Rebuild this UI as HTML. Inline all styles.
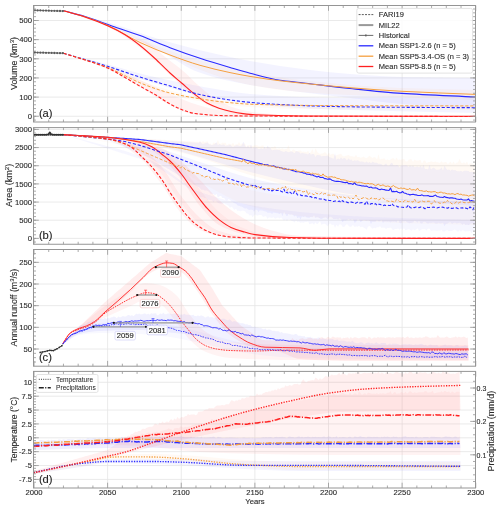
<!DOCTYPE html>
<html><head><meta charset="utf-8"><style>html,body{margin:0;padding:0;background:#fff;}svg{display:block;will-change:transform;} text{paint-order:stroke;stroke:#2a2a2a;stroke-width:0.12px;}</style></head>
<body><svg width="500" height="509" viewBox="0 0 500 509" font-family='"Liberation Sans", sans-serif'><path d="M107.62 5.5V122.0M181.25 5.5V122.0M254.88 5.5V122.0M328.50 5.5V122.0M402.12 5.5V122.0M33.5 116.25H475.5M33.5 97.10H475.5M33.5 77.95H475.5M33.5 58.80H475.5M33.5 39.65H475.5M33.5 20.50H475.5" stroke="#e4e4e4" stroke-width="0.8" fill="none"/>
<path d="M107.62 127.6V244.25M181.25 127.6V244.25M254.88 127.6V244.25M328.50 127.6V244.25M402.12 127.6V244.25M33.5 238.40H475.5M33.5 220.23H475.5M33.5 202.07H475.5M33.5 183.90H475.5M33.5 165.73H475.5M33.5 147.57H475.5M33.5 129.40H475.5" stroke="#e4e4e4" stroke-width="0.8" fill="none"/>
<path d="M107.62 249.5V366.2M181.25 249.5V366.2M254.88 249.5V366.2M328.50 249.5V366.2M402.12 249.5V366.2M33.5 349.00H475.5M33.5 327.34H475.5M33.5 305.67H475.5M33.5 284.01H475.5M33.5 262.35H475.5" stroke="#e4e4e4" stroke-width="0.8" fill="none"/>
<path d="M107.62 371.4V488.0M181.25 371.4V488.0M254.88 371.4V488.0M328.50 371.4V488.0M402.12 371.4V488.0M33.5 479.42H475.5M33.5 465.55H475.5M33.5 451.67H475.5M33.5 437.80H475.5M33.5 423.93H475.5M33.5 410.06H475.5M33.5 396.18H475.5M33.5 382.31H475.5" stroke="#e4e4e4" stroke-width="0.8" fill="none"/>
<path d="M63.50 10.80 C79.00 14.87 94.50 18.50 110.00 23.00 C127.33 28.04 144.67 34.91 162.00 40.00 C174.00 43.52 186.00 46.79 198.00 49.70 C215.33 53.90 232.67 57.91 250.00 61.00 C270.00 64.57 290.00 67.63 310.00 70.00 C323.33 71.58 336.67 73.01 350.00 74.00 C367.33 75.28 384.67 76.60 402.00 77.00 C426.50 77.56 451.00 77.67 475.50 78.00 L475.50 108.00 C451.00 106.67 426.50 105.85 402.00 104.00 C384.67 102.69 367.33 100.04 350.00 98.00 C333.33 96.04 316.67 94.15 300.00 92.00 C283.33 89.85 266.67 87.99 250.00 85.00 C232.67 81.89 215.33 78.12 198.00 72.00 C186.00 67.76 174.00 58.21 162.00 52.00 C144.67 43.03 127.33 33.98 110.00 27.00 C94.50 20.76 79.00 16.20 63.50 10.80 Z" fill="#5050ff" fill-opacity="0.07" stroke="none"/>
<path d="M63.50 10.80 C79.00 15.53 94.50 19.42 110.00 25.00 C127.33 31.24 144.67 41.47 162.00 48.00 C174.00 52.52 186.00 56.69 198.00 60.00 C215.33 64.78 232.67 68.73 250.00 72.00 C266.67 75.15 283.33 78.15 300.00 80.00 C333.33 83.69 366.67 86.70 400.00 88.00 C425.17 88.98 450.33 89.33 475.50 90.00 L475.50 100.00 C450.33 99.00 425.17 98.11 400.00 97.00 C366.67 95.53 333.33 94.59 300.00 92.00 C283.33 90.70 266.67 88.20 250.00 85.00 C232.67 81.67 215.33 75.54 198.00 69.00 C186.00 64.47 174.00 57.71 162.00 52.00 C144.67 43.75 127.33 33.98 110.00 27.00 C94.50 20.76 79.00 16.20 63.50 10.80 Z" fill="#ffa040" fill-opacity="0.06" stroke="none"/>
<path d="M63.50 53.30 C79.00 57.20 94.50 60.92 110.00 65.00 C123.33 68.51 136.67 72.83 150.00 76.00 C166.00 79.81 182.00 83.16 198.00 86.00 C215.33 89.07 232.67 92.51 250.00 94.00 C266.67 95.43 283.33 96.50 300.00 97.00 C316.67 97.50 333.33 98.00 350.00 98.00 C391.83 98.00 433.67 98.00 475.50 98.00 L475.50 113.00 C433.67 112.00 391.83 111.30 350.00 110.00 C333.33 109.48 316.67 108.89 300.00 108.00 C283.33 107.11 266.67 105.82 250.00 104.00 C232.67 102.11 215.33 98.67 198.00 95.00 C182.00 91.61 166.00 86.90 150.00 82.00 C136.67 77.91 123.33 72.44 110.00 68.00 C94.50 62.84 79.00 58.20 63.50 53.30 Z" fill="#5050ff" fill-opacity="0.07" stroke="none"/>
<path d="M63.50 53.30 C79.00 57.87 94.50 61.58 110.00 67.00 C123.33 71.66 136.67 79.56 150.00 84.00 C166.00 89.33 182.00 94.40 198.00 97.00 C215.33 99.82 232.67 101.97 250.00 103.00 C266.67 103.99 283.33 104.81 300.00 105.00 C358.50 105.68 417.00 105.67 475.50 106.00 L475.50 110.00 C417.00 109.67 358.50 109.68 300.00 109.00 C283.33 108.81 266.67 107.99 250.00 107.00 C232.67 105.97 215.33 103.82 198.00 101.00 C182.00 98.40 166.00 93.57 150.00 88.00 C136.67 83.36 123.33 74.29 110.00 69.00 C94.50 62.86 79.00 58.53 63.50 53.30 Z" fill="#ffa040" fill-opacity="0.05" stroke="none"/>
<path d="M63.50 10.80 C79.00 15.87 94.50 19.70 110.00 26.00 C116.67 28.71 123.33 32.89 130.00 36.00 C137.67 39.57 145.33 41.17 153.00 46.00 C156.00 47.89 159.00 51.90 162.00 54.50 C169.53 61.04 177.07 65.66 184.60 72.20 C189.07 76.08 193.53 81.07 198.00 85.00 C203.33 89.69 208.67 94.76 214.00 98.00 C221.00 102.25 228.00 106.00 235.00 108.00 C243.33 110.38 251.67 112.17 260.00 113.00 C273.33 114.32 286.67 115.41 300.00 115.50 C358.50 115.89 417.00 115.83 475.50 116.00 L475.50 117.00 C402.00 116.67 328.50 116.84 255.00 116.00 C243.00 115.86 231.00 113.17 219.00 110.00 C211.00 107.89 203.00 102.36 195.00 97.00 C186.67 91.42 178.33 82.48 170.00 75.00 C160.00 66.03 150.00 55.11 140.00 47.50 C130.00 39.89 120.00 32.81 110.00 28.00 C94.50 20.54 79.00 16.53 63.50 10.80 Z" fill="#ff5050" fill-opacity="0.08" stroke="none"/>
<path d="M63.50 53.30 C79.00 58.20 94.50 62.48 110.00 68.00 C120.00 71.56 130.00 75.69 140.00 80.00 C150.00 84.31 160.00 89.74 170.00 94.00 C179.33 97.98 188.67 102.36 198.00 105.00 C208.67 108.02 219.33 110.79 230.00 112.00 C243.33 113.52 256.67 114.85 270.00 115.00 C338.50 115.78 407.00 115.67 475.50 116.00 L475.50 117.00 C402.00 117.00 328.50 117.00 255.00 117.00 C235.00 117.00 215.00 116.19 195.00 114.50 C186.67 113.80 178.33 108.85 170.00 105.00 C160.00 100.38 150.00 92.83 140.00 87.00 C130.00 81.17 120.00 74.47 110.00 70.00 C94.50 63.07 79.00 58.87 63.50 53.30 Z" fill="#ff5050" fill-opacity="0.08" stroke="none"/>
<path d="M63.50 10.80 C70.67 12.70 77.83 14.35 85.00 16.50 C93.33 19.00 101.67 22.31 110.00 25.20 C120.00 28.67 130.00 31.87 140.00 35.60 C150.00 39.33 160.00 43.93 170.00 47.70 C180.00 51.47 190.00 55.02 200.00 58.30 C210.00 61.58 220.00 64.55 230.00 67.50 C236.67 69.46 243.33 71.48 250.00 73.20 C260.00 75.78 270.00 78.69 280.00 80.20 C286.67 81.20 293.33 81.72 300.00 82.50 C316.67 84.45 333.33 86.74 350.00 88.50 C367.33 90.33 384.67 92.26 402.00 93.40 C426.50 95.01 451.00 95.80 475.50 97.00" stroke="#2a2aff" stroke-width="1.1" fill="none" stroke-opacity="1" stroke-linecap="butt"/>
<path d="M63.50 10.80 C70.67 12.80 77.83 14.51 85.00 16.80 C92.53 19.21 100.07 22.02 107.60 25.30 C118.40 30.01 129.20 37.47 140.00 42.50 C150.00 47.16 160.00 51.24 170.00 55.00 C180.00 58.76 190.00 62.45 200.00 65.30 C210.00 68.15 220.00 70.48 230.00 72.60 C236.67 74.01 243.33 75.29 250.00 76.40 C260.00 78.07 270.00 79.56 280.00 80.80 C290.00 82.04 300.00 83.01 310.00 84.00 C323.33 85.33 336.67 86.64 350.00 87.70 C367.33 89.08 384.67 90.38 402.00 91.30 C426.50 92.60 451.00 93.37 475.50 94.40" stroke="#f5a040" stroke-width="1.0" fill="none" stroke-opacity="1" stroke-linecap="butt"/>
<path d="M63.50 10.80 C70.67 12.87 77.83 14.63 85.00 17.00 C92.53 19.49 100.07 22.43 107.60 25.80 C113.40 28.39 119.20 31.31 125.00 34.80 C130.00 37.81 135.00 41.59 140.00 45.50 C145.00 49.41 150.00 53.93 155.00 58.50 C160.00 63.07 165.00 68.45 170.00 73.00 C173.87 76.52 177.73 79.67 181.60 83.00 C186.07 86.84 190.53 91.04 195.00 94.50 C199.00 97.60 203.00 100.85 207.00 103.00 C211.00 105.15 215.00 106.85 219.00 108.20 C223.00 109.55 227.00 110.64 231.00 111.50 C235.00 112.36 239.00 113.09 243.00 113.60 C247.00 114.11 251.00 114.61 255.00 114.80 C270.00 115.51 285.00 115.94 300.00 116.00 C358.50 116.23 417.00 116.20 475.50 116.30" stroke="#ff2020" stroke-width="1.1" fill="none" stroke-opacity="1" stroke-linecap="butt"/>
<path d="M63.50 53.30 C70.67 55.37 77.83 57.39 85.00 59.50 C92.53 61.72 100.07 63.92 107.60 66.30 C118.40 69.71 129.20 73.71 140.00 77.10 C150.00 80.24 160.00 83.04 170.00 86.00 C178.33 88.47 186.67 91.44 195.00 93.40 C205.00 95.75 215.00 97.72 225.00 99.20 C235.00 100.68 245.00 101.98 255.00 102.80 C270.00 104.03 285.00 104.95 300.00 105.50 C316.67 106.11 333.33 106.57 350.00 106.80 C367.33 107.04 384.67 107.18 402.00 107.30 C426.50 107.47 451.00 107.57 475.50 107.70" stroke="#2a2aff" stroke-width="1.1" fill="none" stroke-dasharray="3.2 1.8" stroke-opacity="1" stroke-linecap="butt"/>
<path d="M63.50 53.30 C70.67 55.47 77.83 57.51 85.00 59.80 C92.53 62.21 100.07 64.55 107.60 67.50 C118.40 71.73 129.20 78.34 140.00 82.80 C145.50 85.07 151.00 87.18 156.50 89.00 C161.00 90.49 165.50 91.90 170.00 93.00 C178.33 95.03 186.67 96.62 195.00 98.00 C205.00 99.66 215.00 101.24 225.00 102.20 C235.00 103.16 245.00 104.14 255.00 104.40 C286.67 105.23 318.33 105.61 350.00 105.70 C391.83 105.82 433.67 105.83 475.50 105.90" stroke="#f5a040" stroke-width="1.0" fill="none" stroke-dasharray="3.2 1.8" stroke-opacity="1" stroke-linecap="butt"/>
<path d="M63.50 53.30 C70.67 55.53 77.83 57.63 85.00 60.00 C92.53 62.50 100.07 64.73 107.60 68.00 C113.40 70.51 119.20 74.24 125.00 77.50 C130.00 80.31 135.00 83.37 140.00 86.20 C145.00 89.03 150.00 91.55 155.00 94.50 C160.00 97.45 165.00 101.28 170.00 104.00 C173.67 105.99 177.33 107.93 181.00 109.30 C185.67 111.04 190.33 112.91 195.00 113.50 C205.00 114.77 215.00 115.52 225.00 115.70 C235.00 115.88 245.00 115.96 255.00 116.00 C328.50 116.32 402.00 116.33 475.50 116.50" stroke="#ff2020" stroke-width="1.1" fill="none" stroke-dasharray="3.2 1.8" stroke-opacity="1" stroke-linecap="butt"/>
<path d="M34.3 10.3L63.5 11.1" stroke="#666" stroke-width="0.8"/>
<circle cx="34.80" cy="10.30" r="1.15" fill="#5a5a5a"/>
<circle cx="37.60" cy="10.38" r="1.15" fill="#5a5a5a"/>
<circle cx="40.40" cy="10.46" r="1.15" fill="#5a5a5a"/>
<circle cx="43.20" cy="10.54" r="1.15" fill="#5a5a5a"/>
<circle cx="46.00" cy="10.62" r="1.15" fill="#5a5a5a"/>
<circle cx="48.80" cy="10.70" r="1.15" fill="#5a5a5a"/>
<circle cx="51.60" cy="10.78" r="1.15" fill="#5a5a5a"/>
<circle cx="54.40" cy="10.86" r="1.15" fill="#5a5a5a"/>
<circle cx="57.20" cy="10.94" r="1.15" fill="#5a5a5a"/>
<circle cx="60.00" cy="11.02" r="1.15" fill="#5a5a5a"/>
<circle cx="62.80" cy="11.10" r="1.15" fill="#5a5a5a"/>
<path d="M34.3 52.5L63.5 53.2" stroke="#666" stroke-width="0.8"/>
<circle cx="34.80" cy="52.50" r="1.15" fill="#5a5a5a"/>
<circle cx="37.60" cy="52.57" r="1.15" fill="#5a5a5a"/>
<circle cx="40.40" cy="52.64" r="1.15" fill="#5a5a5a"/>
<circle cx="43.20" cy="52.71" r="1.15" fill="#5a5a5a"/>
<circle cx="46.00" cy="52.78" r="1.15" fill="#5a5a5a"/>
<circle cx="48.80" cy="52.85" r="1.15" fill="#5a5a5a"/>
<circle cx="51.60" cy="52.92" r="1.15" fill="#5a5a5a"/>
<circle cx="54.40" cy="52.99" r="1.15" fill="#5a5a5a"/>
<circle cx="57.20" cy="53.06" r="1.15" fill="#5a5a5a"/>
<circle cx="60.00" cy="53.13" r="1.15" fill="#5a5a5a"/>
<circle cx="62.80" cy="53.20" r="1.15" fill="#5a5a5a"/>
<path d="M63.50 134.60 C64.00 134.63 64.50 134.65 65.00 134.68 C65.50 134.70 66.00 134.73 66.50 134.75 C67.00 134.78 67.50 134.81 68.00 134.83 C68.50 134.86 69.00 134.88 69.50 134.91 C70.00 134.94 70.50 134.96 71.00 134.99 C71.50 135.01 72.00 135.04 72.50 135.06 C73.00 135.09 73.50 135.12 74.00 135.14 C74.50 135.17 75.00 135.19 75.50 135.22 C76.00 135.25 76.50 135.27 77.00 135.30 C77.50 135.32 78.00 135.35 78.50 135.37 C79.00 135.40 79.50 135.43 80.00 135.45 C80.50 135.48 81.00 135.50 81.50 135.53 C82.00 135.55 82.50 135.58 83.00 135.61 C83.50 135.63 84.00 135.66 84.50 135.68 C85.00 135.71 85.50 135.74 86.00 135.76 C86.50 135.79 87.00 135.81 87.50 135.84 C88.00 135.86 88.50 135.89 89.00 135.92 C89.50 135.94 90.00 135.97 90.50 135.99 C91.00 136.02 91.50 136.05 92.00 136.07 C92.50 136.10 93.00 136.12 93.50 136.15 C94.00 136.17 94.50 136.20 95.00 136.23 C95.50 136.25 96.00 136.28 96.50 136.30 C97.00 136.33 97.50 136.35 98.00 136.38 C98.50 136.41 99.00 136.43 99.50 136.46 C100.00 136.48 100.50 136.51 101.00 136.54 C101.50 136.56 102.00 136.59 102.50 136.61 C103.00 136.64 103.50 136.66 104.00 136.69 C104.50 136.72 105.00 136.74 105.50 136.77 C106.00 136.79 106.50 136.82 107.00 136.85 C107.50 136.87 108.00 136.90 108.50 136.92 C109.00 136.95 109.50 136.97 110.00 137.00 C110.50 137.03 111.00 137.05 111.50 137.07 C112.00 137.10 112.50 137.12 113.00 137.15 C113.50 137.18 114.00 137.20 114.50 137.22 C115.00 137.25 115.50 137.28 116.00 137.30 C116.50 137.33 117.00 137.35 117.50 137.38 C118.00 137.40 118.50 137.42 119.00 137.45 C119.50 137.47 120.00 137.50 120.50 137.53 C121.00 137.55 121.50 137.57 122.00 137.60 C122.50 137.62 123.00 137.65 123.50 137.68 C124.00 137.70 124.50 137.72 125.00 137.75 C125.50 137.78 126.00 137.80 126.50 137.82 C127.00 137.85 127.50 137.88 128.00 137.90 C128.50 137.93 129.00 137.95 129.50 137.97 C130.00 138.00 130.50 138.03 131.00 138.05 C131.50 138.08 132.00 138.10 132.50 138.12 C133.00 138.15 133.50 138.17 134.00 138.20 C134.50 138.22 135.00 138.25 135.50 138.28 C136.00 138.30 136.50 138.32 137.00 138.35 C137.50 138.38 138.00 138.40 138.50 138.43 C139.00 138.45 139.50 138.47 140.00 138.50 C140.50 138.53 141.00 138.55 141.50 138.57 C142.00 138.60 142.50 138.62 143.00 138.65 C143.50 138.68 144.00 138.70 144.50 138.72 C145.00 138.75 145.50 138.78 146.00 138.80 C146.50 138.83 147.00 138.85 147.50 138.88 C148.00 138.90 148.50 138.92 149.00 138.95 C149.50 138.98 150.00 139.00 150.50 139.03 C151.00 139.06 151.50 139.09 152.00 139.12 C152.50 139.15 153.00 139.18 153.50 139.21 C154.00 139.24 154.50 139.27 155.00 139.30 C155.50 139.33 156.00 139.36 156.50 139.39 C157.00 139.42 157.50 139.45 158.00 139.48 C158.50 139.51 159.00 139.54 159.50 139.57 C160.00 139.60 160.50 139.63 161.00 139.66 C161.50 139.69 162.00 139.72 162.50 139.75 C163.00 139.78 163.50 139.81 164.00 139.84 C164.50 139.87 165.00 139.90 165.50 139.93 C166.00 139.96 166.50 139.99 167.00 140.02 C167.50 140.05 168.00 140.08 168.50 140.11 C169.00 140.14 169.50 140.17 170.00 140.20 C170.50 140.23 171.00 140.26 171.50 140.29 C172.00 140.32 172.50 140.35 173.00 140.38 C173.50 140.41 174.00 140.44 174.50 140.47 C175.00 140.50 175.50 140.53 176.00 140.56 C176.50 140.59 177.00 140.62 177.50 140.65 C178.00 140.68 178.50 140.71 179.00 140.74 C179.50 140.77 180.00 140.80 180.50 140.83 C181.00 140.86 181.50 140.89 182.00 140.92 C182.50 140.95 183.00 140.98 183.50 141.01 C184.00 141.04 184.50 141.07 185.00 141.10 C185.50 141.13 186.00 141.16 186.50 141.19 C187.00 141.22 187.50 141.25 188.00 141.28 C188.50 141.31 189.00 141.34 189.50 141.37 C190.00 141.40 190.50 141.43 191.00 141.46 C191.50 141.49 192.00 141.52 192.50 141.55 C193.00 141.58 193.50 141.61 194.00 141.64 C194.50 141.67 195.00 141.70 195.50 141.73 C196.00 141.76 196.50 141.79 197.00 141.82 C197.50 141.85 198.00 141.91 198.50 141.91 C199.00 141.91 199.50 141.02 200.00 141.02 C200.50 141.02 201.00 142.39 201.50 142.39 C202.00 142.39 202.50 141.12 203.00 141.12 C203.50 141.12 204.00 142.22 204.50 142.22 C205.00 142.22 205.50 141.39 206.00 141.39 C206.50 141.39 207.00 141.40 207.50 141.42 C208.00 141.43 208.50 143.77 209.00 143.77 C209.50 143.77 210.00 143.42 210.50 143.42 C211.00 143.42 211.50 144.78 212.00 144.78 C212.50 144.78 213.00 142.58 213.50 142.58 C214.00 142.58 214.50 142.91 215.00 142.98 C215.50 143.04 216.00 143.11 216.50 143.11 C217.00 143.11 217.50 140.37 218.00 140.37 C218.50 140.37 219.00 143.68 219.50 143.72 C220.00 143.77 220.50 143.79 221.00 143.79 C221.50 143.79 222.00 142.54 222.50 142.54 C223.00 142.54 223.50 142.98 224.00 142.98 C224.50 142.98 225.00 142.78 225.50 142.78 C226.00 142.78 226.50 145.15 227.00 145.15 C227.50 145.15 228.00 143.67 228.50 143.67 C229.00 143.67 229.50 143.78 230.00 143.88 C230.50 143.99 231.00 144.55 231.50 144.55 C232.00 144.55 232.50 142.72 233.00 142.72 C233.50 142.72 234.00 144.98 234.50 144.98 C235.00 144.98 235.50 144.18 236.00 144.18 C236.50 144.18 237.00 144.23 237.50 144.23 C238.00 144.23 238.50 142.14 239.00 142.14 C239.50 142.14 240.00 144.85 240.50 144.85 C241.00 144.85 241.50 143.57 242.00 143.57 C242.50 143.57 243.00 143.58 243.50 143.60 C244.00 143.62 244.50 143.63 245.00 143.68 C245.50 143.73 246.00 146.58 246.50 146.58 C247.00 146.58 247.50 144.89 248.00 144.89 C248.50 144.89 249.00 145.24 249.50 145.34 C250.00 145.44 250.50 145.46 251.00 145.57 C251.50 145.68 252.00 146.22 252.50 146.22 C253.00 146.22 253.50 145.54 254.00 145.43 C254.50 145.33 255.00 145.24 255.50 145.24 C256.00 145.24 256.50 145.29 257.00 145.35 C257.50 145.42 258.00 146.20 258.50 146.28 C259.00 146.37 259.50 146.42 260.00 146.42 C260.50 146.42 261.00 145.91 261.50 145.74 C262.00 145.56 262.50 145.32 263.00 145.32 C263.50 145.32 264.00 147.71 264.50 147.71 C265.00 147.71 265.50 147.57 266.00 147.47 C266.50 147.37 267.00 147.12 267.50 147.06 C268.00 147.01 268.50 146.96 269.00 146.96 C269.50 146.96 270.00 148.05 270.50 148.05 C271.00 148.05 271.50 147.12 272.00 147.12 C272.50 147.12 273.00 147.52 273.50 147.52 C274.00 147.52 274.50 146.06 275.00 146.06 C275.50 146.06 276.00 148.77 276.50 148.77 C277.00 148.77 277.50 148.74 278.00 148.70 C278.50 148.66 279.00 148.16 279.50 148.16 C280.00 148.16 280.50 148.97 281.00 148.97 C281.50 148.97 282.00 148.35 282.50 148.35 C283.00 148.35 283.50 149.57 284.00 149.57 C284.50 149.57 285.00 149.19 285.50 149.07 C286.00 148.94 286.50 148.95 287.00 148.77 C287.50 148.59 288.00 145.19 288.50 145.19 C289.00 145.19 289.50 149.20 290.00 149.89 C290.50 150.58 291.00 151.23 291.50 151.23 C292.00 151.23 292.50 149.61 293.00 149.61 C293.50 149.61 294.00 149.78 294.50 149.96 C295.00 150.14 295.50 151.04 296.00 151.04 C296.50 151.04 297.00 151.00 297.50 150.94 C298.00 150.88 298.50 150.39 299.00 150.39 C299.50 150.39 300.00 150.49 300.50 150.62 C301.00 150.75 301.50 151.83 302.00 151.83 C302.50 151.83 303.00 151.42 303.50 151.42 C304.00 151.42 304.50 151.69 305.00 151.84 C305.50 152.00 306.00 152.34 306.50 152.34 C307.00 152.34 307.50 150.71 308.00 150.71 C308.50 150.71 309.00 153.23 309.50 153.23 C310.00 153.23 310.50 152.35 311.00 151.72 C311.50 151.09 312.00 149.23 312.50 149.23 C313.00 149.23 313.50 153.45 314.00 153.45 C314.50 153.45 315.00 148.61 315.50 148.61 C316.00 148.61 316.50 150.74 317.00 151.41 C317.50 152.09 318.00 152.61 318.50 152.99 C319.00 153.38 319.50 153.90 320.00 153.90 C320.50 153.90 321.00 153.72 321.50 153.61 C322.00 153.50 322.50 153.39 323.00 153.20 C323.50 153.01 324.00 152.21 324.50 152.21 C325.00 152.21 325.50 152.55 326.00 152.87 C326.50 153.20 327.00 154.73 327.50 154.73 C328.00 154.73 328.50 152.67 329.00 152.67 C329.50 152.67 330.00 154.75 330.50 154.75 C331.00 154.75 331.50 153.64 332.00 153.64 C332.50 153.64 333.00 153.70 333.50 153.79 C334.00 153.89 334.50 155.50 335.00 155.50 C335.50 155.50 336.00 155.33 336.50 155.20 C337.00 155.08 337.50 154.86 338.00 154.69 C338.50 154.52 339.00 154.33 339.50 154.16 C340.00 154.00 340.50 153.68 341.00 153.68 C341.50 153.68 342.00 155.47 342.50 155.81 C343.00 156.14 343.50 156.47 344.00 156.47 C344.50 156.47 345.00 155.91 345.50 155.75 C346.00 155.59 346.50 155.53 347.00 155.40 C347.50 155.27 348.00 154.96 348.50 154.96 C349.00 154.96 349.50 155.86 350.00 156.00 C350.50 156.13 351.00 156.18 351.50 156.24 C352.00 156.30 352.50 156.31 353.00 156.38 C353.50 156.46 354.00 156.83 354.50 156.83 C355.00 156.83 355.50 154.90 356.00 154.90 C356.50 154.90 357.00 157.20 357.50 157.20 C358.00 157.20 358.50 156.99 359.00 156.99 C359.50 156.99 360.00 157.65 360.50 157.65 C361.00 157.65 361.50 157.60 362.00 157.54 C362.50 157.47 363.00 156.54 363.50 156.54 C364.00 156.54 364.50 157.69 365.00 157.81 C365.50 157.94 366.00 158.03 366.50 158.03 C367.00 158.03 367.50 157.36 368.00 156.97 C368.50 156.58 369.00 155.66 369.50 155.66 C370.00 155.66 370.50 156.70 371.00 157.07 C371.50 157.44 372.00 158.00 372.50 158.00 C373.00 158.00 373.50 157.26 374.00 157.26 C374.50 157.26 375.00 157.31 375.50 157.38 C376.00 157.45 376.50 159.03 377.00 159.03 C377.50 159.03 378.00 154.44 378.50 154.44 C379.00 154.44 379.50 159.61 380.00 159.61 C380.50 159.61 381.00 158.93 381.50 158.84 C382.00 158.75 382.50 158.71 383.00 158.68 C383.50 158.65 384.00 158.61 384.50 158.61 C385.00 158.61 385.50 160.37 386.00 160.37 C386.50 160.37 387.00 159.23 387.50 159.23 C388.00 159.23 388.50 160.20 389.00 160.20 C389.50 160.20 390.00 159.83 390.50 159.57 C391.00 159.31 391.50 158.68 392.00 158.54 C392.50 158.40 393.00 158.28 393.50 158.28 C394.00 158.28 394.50 159.88 395.00 159.88 C395.50 159.88 396.00 157.64 396.50 157.64 C397.00 157.64 397.50 159.73 398.00 159.73 C398.50 159.73 399.00 159.47 399.50 159.47 C400.00 159.47 400.50 159.74 401.00 159.74 C401.50 159.74 402.00 159.28 402.50 159.22 C403.00 159.15 403.50 159.10 404.00 159.10 C404.50 159.10 405.00 160.96 405.50 161.17 C406.00 161.38 406.50 161.54 407.00 161.54 C407.50 161.54 408.00 160.23 408.50 159.92 C409.00 159.62 409.50 159.29 410.00 159.29 C410.50 159.29 411.00 159.32 411.50 159.36 C412.00 159.41 412.50 161.73 413.00 161.73 C413.50 161.73 414.00 159.79 414.50 159.79 C415.00 159.79 415.50 160.53 416.00 160.53 C416.50 160.53 417.00 160.51 417.50 160.49 C418.00 160.46 418.50 160.26 419.00 160.21 C419.50 160.15 420.00 160.10 420.50 160.10 C421.00 160.10 421.50 163.35 422.00 163.35 C422.50 163.35 423.00 161.21 423.50 160.98 C424.00 160.75 424.50 160.57 425.00 160.57 C425.50 160.57 426.00 162.99 426.50 162.99 C427.00 162.99 427.50 162.35 428.00 162.23 C428.50 162.11 429.00 162.10 429.50 161.99 C430.00 161.88 430.50 161.45 431.00 161.45 C431.50 161.45 432.00 161.65 432.50 161.74 C433.00 161.82 433.50 161.95 434.00 161.95 C434.50 161.95 435.00 161.41 435.50 161.41 C436.00 161.41 436.50 162.17 437.00 162.25 C437.50 162.33 438.00 162.32 438.50 162.39 C439.00 162.46 439.50 162.77 440.00 162.77 C440.50 162.77 441.00 161.17 441.50 161.17 C442.00 161.17 442.50 162.60 443.00 162.60 C443.50 162.60 444.00 162.32 444.50 162.25 C445.00 162.19 445.50 162.11 446.00 162.11 C446.50 162.11 447.00 163.77 447.50 163.77 C448.00 163.77 448.50 163.44 449.00 163.16 C449.50 162.89 450.00 161.82 450.50 161.82 C451.00 161.82 451.50 163.72 452.00 163.72 C452.50 163.72 453.00 161.41 453.50 161.41 C454.00 161.41 454.50 163.87 455.00 163.87 C455.50 163.87 456.00 163.07 456.50 162.80 C457.00 162.53 457.50 162.51 458.00 162.15 C458.50 161.79 459.00 159.00 459.50 159.00 C460.00 159.00 460.50 161.99 461.00 162.43 C461.50 162.86 462.00 163.23 462.50 163.23 C463.00 163.23 463.50 162.17 464.00 162.17 C464.50 162.17 465.00 163.54 465.50 163.54 C466.00 163.54 466.50 161.83 467.00 161.83 C467.50 161.83 468.00 164.66 468.50 164.66 C469.00 164.66 469.50 163.30 470.00 163.30 C470.50 163.30 471.00 163.64 471.50 163.86 C472.00 164.07 472.50 164.61 473.00 164.61 C473.50 164.61 474.00 163.81 474.50 163.41 L475.50 208.00 C450.33 206.33 425.17 205.19 400.00 203.00 C383.33 201.55 366.67 199.40 350.00 197.00 C333.33 194.60 316.67 191.55 300.00 188.00 C283.33 184.45 266.67 179.91 250.00 175.00 C233.33 170.09 216.67 162.91 200.00 158.00 C183.33 153.09 166.67 148.31 150.00 145.00 C136.67 142.36 123.33 139.99 110.00 138.50 C94.50 136.77 79.00 135.90 63.50 134.60 Z" fill="#ffa040" fill-opacity="0.06" stroke="none"/>
<path d="M63.50 134.60 C64.00 134.63 64.50 134.65 65.00 134.68 C65.50 134.70 66.00 134.73 66.50 134.75 C67.00 134.78 67.50 134.81 68.00 134.83 C68.50 134.86 69.00 134.88 69.50 134.91 C70.00 134.94 70.50 134.96 71.00 134.99 C71.50 135.01 72.00 135.04 72.50 135.06 C73.00 135.09 73.50 135.12 74.00 135.14 C74.50 135.17 75.00 135.19 75.50 135.22 C76.00 135.25 76.50 135.27 77.00 135.30 C77.50 135.32 78.00 135.35 78.50 135.37 C79.00 135.40 79.50 135.43 80.00 135.45 C80.50 135.48 81.00 135.50 81.50 135.53 C82.00 135.55 82.50 135.58 83.00 135.61 C83.50 135.63 84.00 135.66 84.50 135.68 C85.00 135.71 85.50 135.74 86.00 135.76 C86.50 135.79 87.00 135.81 87.50 135.84 C88.00 135.86 88.50 135.89 89.00 135.92 C89.50 135.94 90.00 135.97 90.50 135.99 C91.00 136.02 91.50 136.05 92.00 136.07 C92.50 136.10 93.00 136.12 93.50 136.15 C94.00 136.17 94.50 136.20 95.00 136.23 C95.50 136.25 96.00 136.28 96.50 136.30 C97.00 136.33 97.50 136.35 98.00 136.38 C98.50 136.41 99.00 136.43 99.50 136.46 C100.00 136.48 100.50 136.51 101.00 136.54 C101.50 136.56 102.00 136.59 102.50 136.61 C103.00 136.64 103.50 136.66 104.00 136.69 C104.50 136.72 105.00 136.74 105.50 136.77 C106.00 136.79 106.50 136.82 107.00 136.85 C107.50 136.87 108.00 136.90 108.50 136.92 C109.00 136.95 109.50 136.97 110.00 137.00 C110.50 137.03 111.00 137.06 111.50 137.09 C112.00 137.12 112.50 137.16 113.00 137.19 C113.50 137.22 114.00 137.25 114.50 137.28 C115.00 137.31 115.50 137.34 116.00 137.38 C116.50 137.41 117.00 137.44 117.50 137.47 C118.00 137.50 118.50 137.53 119.00 137.56 C119.50 137.59 120.00 137.62 120.50 137.66 C121.00 137.69 121.50 137.72 122.00 137.75 C122.50 137.78 123.00 137.81 123.50 137.84 C124.00 137.88 124.50 137.91 125.00 137.94 C125.50 137.97 126.00 138.00 126.50 138.03 C127.00 138.06 127.50 138.09 128.00 138.12 C128.50 138.16 129.00 138.19 129.50 138.22 C130.00 138.25 130.50 138.28 131.00 138.31 C131.50 138.34 132.00 138.38 132.50 138.41 C133.00 138.44 133.50 138.47 134.00 138.50 C134.50 138.53 135.00 138.56 135.50 138.59 C136.00 138.62 136.50 138.66 137.00 138.69 C137.50 138.72 138.00 138.75 138.50 138.78 C139.00 138.81 139.50 138.84 140.00 138.88 C140.50 138.91 141.00 138.94 141.50 138.97 C142.00 139.00 142.50 139.03 143.00 139.06 C143.50 139.09 144.00 139.12 144.50 139.16 C145.00 139.19 145.50 139.22 146.00 139.25 C146.50 139.28 147.00 139.31 147.50 139.34 C148.00 139.38 148.50 139.41 149.00 139.44 C149.50 139.47 150.00 139.50 150.50 139.53 C151.00 139.57 151.50 139.60 152.00 139.64 C152.50 139.67 153.00 139.71 153.50 139.75 C154.00 139.78 154.50 139.81 155.00 139.85 C155.50 139.88 156.00 139.92 156.50 139.96 C157.00 139.99 157.50 140.03 158.00 140.06 C158.50 140.09 159.00 140.13 159.50 140.16 C160.00 140.20 160.50 140.24 161.00 140.27 C161.50 140.31 162.00 140.34 162.50 140.38 C163.00 140.41 163.50 140.44 164.00 140.48 C164.50 140.51 165.00 140.55 165.50 140.59 C166.00 140.62 166.50 140.66 167.00 140.69 C167.50 140.72 168.00 140.76 168.50 140.79 C169.00 140.83 169.50 140.87 170.00 140.90 C170.50 140.94 171.00 140.97 171.50 141.00 C172.00 141.04 172.50 141.08 173.00 141.11 C173.50 141.15 174.00 141.18 174.50 141.22 C175.00 141.25 175.50 141.28 176.00 141.32 C176.50 141.35 177.00 141.39 177.50 141.43 C178.00 141.46 178.50 141.50 179.00 141.53 C179.50 141.56 180.00 141.60 180.50 141.63 C181.00 141.67 181.50 141.71 182.00 141.74 C182.50 141.78 183.00 141.81 183.50 141.84 C184.00 141.88 184.50 141.91 185.00 141.95 C185.50 141.98 186.00 142.02 186.50 142.06 C187.00 142.09 187.50 142.12 188.00 142.16 C188.50 142.19 189.00 142.23 189.50 142.26 C190.00 142.30 190.50 142.34 191.00 142.37 C191.50 142.41 192.00 142.44 192.50 142.47 C193.00 142.51 193.50 142.55 194.00 142.58 C194.50 142.62 195.00 142.65 195.50 142.69 C196.00 142.72 196.50 142.75 197.00 142.79 C197.50 142.82 198.00 142.90 198.50 142.90 C199.00 142.90 199.50 141.84 200.00 141.84 C200.50 141.84 201.00 142.99 201.50 143.31 C202.00 143.62 202.50 144.01 203.00 144.01 C203.50 144.01 204.00 143.55 204.50 143.41 C205.00 143.27 205.50 143.22 206.00 143.08 C206.50 142.95 207.00 142.59 207.50 142.59 C208.00 142.59 208.50 144.09 209.00 144.25 C209.50 144.40 210.00 144.38 210.50 144.52 C211.00 144.66 211.50 145.34 212.00 145.34 C212.50 145.34 213.00 144.87 213.50 144.61 C214.00 144.36 214.50 144.13 215.00 143.78 C215.50 143.43 216.00 142.36 216.50 142.36 C217.00 142.36 217.50 145.26 218.00 145.26 C218.50 145.26 219.00 144.07 219.50 144.07 C220.00 144.07 220.50 145.05 221.00 145.05 C221.50 145.05 222.00 144.75 222.50 144.67 C223.00 144.59 223.50 144.49 224.00 144.49 C224.50 144.49 225.00 146.07 225.50 146.07 C226.00 146.07 226.50 145.71 227.00 145.62 C227.50 145.54 228.00 145.54 228.50 145.44 C229.00 145.33 229.50 144.46 230.00 144.46 C230.50 144.46 231.00 145.67 231.50 146.05 C232.00 146.42 232.50 146.90 233.00 146.90 C233.50 146.90 234.00 146.22 234.50 146.01 C235.00 145.79 235.50 145.56 236.00 145.49 C236.50 145.42 237.00 145.36 237.50 145.36 C238.00 145.36 238.50 145.94 239.00 145.94 C239.50 145.94 240.00 145.92 240.50 145.89 C241.00 145.86 241.50 145.40 242.00 144.91 C242.50 144.41 243.00 141.82 243.50 141.82 C244.00 141.82 244.50 145.03 245.00 145.72 C245.50 146.41 246.00 147.13 246.50 147.13 C247.00 147.13 247.50 145.79 248.00 145.79 C248.50 145.79 249.00 147.85 249.50 147.85 C250.00 147.85 250.50 144.47 251.00 144.47 C251.50 144.47 252.00 148.41 252.50 148.41 C253.00 148.41 253.50 147.31 254.00 147.31 C254.50 147.31 255.00 147.40 255.50 147.46 C256.00 147.52 256.50 147.55 257.00 147.66 C257.50 147.77 258.00 148.91 258.50 148.91 C259.00 148.91 259.50 148.77 260.00 148.67 C260.50 148.56 261.00 148.25 261.50 148.25 C262.00 148.25 262.50 149.06 263.00 149.06 C263.50 149.06 264.00 146.80 264.50 146.80 C265.00 146.80 265.50 149.01 266.00 149.01 C266.50 149.01 267.00 145.77 267.50 145.77 C268.00 145.77 268.50 147.42 269.00 147.60 C269.50 147.77 270.00 147.72 270.50 147.90 C271.00 148.08 271.50 150.34 272.00 150.34 C272.50 150.34 273.00 150.04 273.50 149.93 C274.00 149.81 274.50 149.63 275.00 149.63 C275.50 149.63 276.00 149.69 276.50 149.74 C277.00 149.78 277.50 149.86 278.00 149.92 C278.50 149.98 279.00 150.00 279.50 150.09 C280.00 150.19 280.50 150.88 281.00 151.07 C281.50 151.26 282.00 151.32 282.50 151.47 C283.00 151.62 283.50 151.98 284.00 151.98 C284.50 151.98 285.00 150.93 285.50 150.93 C286.00 150.93 286.50 151.36 287.00 151.59 C287.50 151.81 288.00 152.26 288.50 152.26 C289.00 152.26 289.50 151.70 290.00 151.65 C290.50 151.61 291.00 151.58 291.50 151.58 C292.00 151.58 292.50 151.95 293.00 152.21 C293.50 152.46 294.00 153.19 294.50 153.19 C295.00 153.19 295.50 151.25 296.00 151.25 C296.50 151.25 297.00 151.34 297.50 151.43 C298.00 151.52 298.50 151.69 299.00 151.95 C299.50 152.22 300.00 153.60 300.50 153.60 C301.00 153.60 301.50 152.63 302.00 152.63 C302.50 152.63 303.00 152.98 303.50 153.13 C304.00 153.29 304.50 153.45 305.00 153.56 C305.50 153.68 306.00 153.71 306.50 153.85 C307.00 153.99 307.50 154.62 308.00 154.62 C308.50 154.62 309.00 152.70 309.50 152.70 C310.00 152.70 310.50 154.73 311.00 154.73 C311.50 154.73 312.00 153.99 312.50 153.99 C313.00 153.99 313.50 154.09 314.00 154.25 C314.50 154.41 315.00 156.90 315.50 156.90 C316.00 156.90 316.50 155.08 317.00 155.08 C317.50 155.08 318.00 155.29 318.50 155.30 C319.00 155.32 319.50 155.31 320.00 155.33 C320.50 155.34 321.00 156.38 321.50 156.38 C322.00 156.38 322.50 156.06 323.00 156.05 C323.50 156.03 324.00 156.02 324.50 156.02 C325.00 156.02 325.50 156.19 326.00 156.19 C326.50 156.19 327.00 155.58 327.50 155.58 C328.00 155.58 328.50 156.69 329.00 156.93 C329.50 157.17 330.00 157.24 330.50 157.42 C331.00 157.59 331.50 157.77 332.00 157.99 C332.50 158.21 333.00 158.76 333.50 158.76 C334.00 158.76 334.50 153.60 335.00 153.60 C335.50 153.60 336.00 159.81 336.50 159.81 C337.00 159.81 337.50 158.58 338.00 158.58 C338.50 158.58 339.00 159.34 339.50 159.34 C340.00 159.34 340.50 157.50 341.00 157.50 C341.50 157.50 342.00 158.94 342.50 158.94 C343.00 158.94 343.50 157.95 344.00 157.95 C344.50 157.95 345.00 158.16 345.50 158.42 C346.00 158.67 346.50 160.50 347.00 160.50 C347.50 160.50 348.00 158.60 348.50 158.60 C349.00 158.60 349.50 160.06 350.00 160.06 C350.50 160.06 351.00 159.38 351.50 159.38 C352.00 159.38 352.50 161.36 353.00 161.36 C353.50 161.36 354.00 160.36 354.50 160.36 C355.00 160.36 355.50 160.64 356.00 160.64 C356.50 160.64 357.00 160.20 357.50 160.20 C358.00 160.20 358.50 160.68 359.00 160.93 C359.50 161.17 360.00 161.66 360.50 161.66 C361.00 161.66 361.50 161.44 362.00 161.44 C362.50 161.44 363.00 161.67 363.50 161.87 C364.00 162.06 364.50 162.80 365.00 162.80 C365.50 162.80 366.00 161.56 366.50 161.56 C367.00 161.56 367.50 162.72 368.00 162.72 C368.50 162.72 369.00 161.92 369.50 161.92 C370.00 161.92 370.50 163.12 371.00 163.12 C371.50 163.12 372.00 161.78 372.50 161.78 C373.00 161.78 373.50 162.31 374.00 162.42 C374.50 162.53 375.00 162.64 375.50 162.64 C376.00 162.64 376.50 162.64 377.00 162.64 C377.50 162.64 378.00 163.96 378.50 163.96 C379.00 163.96 379.50 163.77 380.00 163.77 C380.50 163.77 381.00 164.12 381.50 164.37 C382.00 164.62 382.50 165.40 383.00 165.40 C383.50 165.40 384.00 164.94 384.50 164.64 C385.00 164.33 385.50 163.50 386.00 163.50 C386.50 163.50 387.00 165.40 387.50 165.51 C388.00 165.62 388.50 165.68 389.00 165.68 C389.50 165.68 390.00 164.15 390.50 163.73 C391.00 163.30 391.50 162.79 392.00 162.79 C392.50 162.79 393.00 165.33 393.50 165.33 C394.00 165.33 394.50 165.29 395.00 165.26 C395.50 165.22 396.00 164.92 396.50 164.92 C397.00 164.92 397.50 165.02 398.00 165.16 C398.50 165.30 399.00 167.41 399.50 167.41 C400.00 167.41 400.50 165.90 401.00 165.69 C401.50 165.47 402.00 165.29 402.50 165.29 C403.00 165.29 403.50 165.48 404.00 165.48 C404.50 165.48 405.00 165.27 405.50 165.27 C406.00 165.27 406.50 165.34 407.00 165.45 C407.50 165.55 408.00 166.91 408.50 166.91 C409.00 166.91 409.50 165.53 410.00 165.53 C410.50 165.53 411.00 166.78 411.50 166.78 C412.00 166.78 412.50 165.46 413.00 165.46 C413.50 165.46 414.00 167.24 414.50 167.24 C415.00 167.24 415.50 167.03 416.00 166.92 C416.50 166.82 417.00 166.62 417.50 166.62 C418.00 166.62 418.50 167.55 419.00 167.55 C419.50 167.55 420.00 166.10 420.50 166.10 C421.00 166.10 421.50 168.01 422.00 168.01 C422.50 168.01 423.00 164.95 423.50 164.95 C424.00 164.95 424.50 168.91 425.00 168.91 C425.50 168.91 426.00 168.90 426.50 168.90 C427.00 168.90 427.50 169.51 428.00 169.51 C428.50 169.51 429.00 164.95 429.50 164.95 C430.00 164.95 430.50 169.28 431.00 169.28 C431.50 169.28 432.00 168.36 432.50 168.18 C433.00 167.99 433.50 167.81 434.00 167.81 C434.50 167.81 435.00 169.00 435.50 169.28 C436.00 169.56 436.50 169.87 437.00 169.87 C437.50 169.87 438.00 169.71 438.50 169.63 C439.00 169.54 439.50 169.52 440.00 169.36 C440.50 169.20 441.00 167.44 441.50 167.44 C442.00 167.44 442.50 170.38 443.00 170.38 C443.50 170.38 444.00 165.96 444.50 165.96 C445.00 165.96 445.50 167.74 446.00 168.37 C446.50 169.00 447.00 169.92 447.50 169.92 C448.00 169.92 448.50 169.48 449.00 169.48 C449.50 169.48 450.00 170.68 450.50 170.68 C451.00 170.68 451.50 169.61 452.00 169.61 C452.50 169.61 453.00 170.30 453.50 170.30 C454.00 170.30 454.50 170.00 455.00 170.00 C455.50 170.00 456.00 170.75 456.50 170.93 C457.00 171.11 457.50 171.24 458.00 171.31 C458.50 171.37 459.00 171.44 459.50 171.44 C460.00 171.44 460.50 170.84 461.00 170.84 C461.50 170.84 462.00 171.80 462.50 171.80 C463.00 171.80 463.50 170.75 464.00 170.75 C464.50 170.75 465.00 170.84 465.50 170.84 C466.00 170.84 466.50 170.63 467.00 170.63 C467.50 170.63 468.00 170.86 468.50 171.08 C469.00 171.30 469.50 172.28 470.00 172.28 C470.50 172.28 471.00 171.67 471.50 171.67 C472.00 171.67 472.50 172.02 473.00 172.18 C473.50 172.34 474.00 172.48 474.50 172.64 L475.50 206.00 C450.33 204.00 425.17 202.44 400.00 200.00 C383.33 198.38 366.67 196.50 350.00 194.00 C333.33 191.50 316.67 187.64 300.00 184.00 C283.33 180.36 266.67 176.44 250.00 172.00 C233.33 167.56 216.67 161.64 200.00 157.00 C183.33 152.36 166.67 146.96 150.00 144.00 C136.67 141.63 123.33 139.90 110.00 138.50 C94.50 136.88 79.00 135.90 63.50 134.60 Z" fill="#5050ff" fill-opacity="0.07" stroke="none"/>
<path d="M63.50 134.60 C79.00 136.07 94.50 137.08 110.00 139.00 C123.33 140.65 136.67 143.02 150.00 146.00 C166.67 149.73 183.33 156.67 200.00 162.00 C216.67 167.33 233.33 173.90 250.00 178.00 C266.67 182.10 283.33 185.25 300.00 188.00 C316.67 190.75 333.33 193.30 350.00 195.00 C366.67 196.70 383.33 198.09 400.00 199.00 C425.17 200.37 450.33 201.00 475.50 202.00 L474.50 224.11 C474.00 223.93 473.50 223.69 473.00 223.58 C472.50 223.48 472.00 223.37 471.50 223.37 C471.00 223.37 470.50 223.77 470.00 224.06 C469.50 224.34 469.00 225.15 468.50 225.15 C468.00 225.15 467.50 224.62 467.00 224.62 C466.50 224.62 466.00 224.98 465.50 224.98 C465.00 224.98 464.50 223.46 464.00 223.46 C463.50 223.46 463.00 224.69 462.50 224.69 C462.00 224.69 461.50 223.69 461.00 223.41 C460.50 223.12 460.00 222.76 459.50 222.76 C459.00 222.76 458.50 223.26 458.00 223.31 C457.50 223.35 457.00 223.38 456.50 223.38 C456.00 223.38 455.50 222.49 455.00 222.49 C454.50 222.49 454.00 222.85 453.50 223.05 C453.00 223.24 452.50 223.66 452.00 223.66 C451.50 223.66 451.00 222.28 450.50 222.28 C450.00 222.28 449.50 222.46 449.00 222.62 C448.50 222.78 448.00 223.28 447.50 223.44 C447.00 223.59 446.50 223.58 446.00 223.77 C445.50 223.97 445.00 226.09 444.50 226.09 C444.00 226.09 443.50 222.72 443.00 222.72 C442.50 222.72 442.00 223.26 441.50 223.31 C441.00 223.36 440.50 223.39 440.00 223.39 C439.50 223.39 439.00 222.75 438.50 222.75 C438.00 222.75 437.50 223.59 437.00 223.59 C436.50 223.59 436.00 223.57 435.50 223.54 C435.00 223.51 434.50 222.63 434.00 222.60 C433.50 222.56 433.00 222.53 432.50 222.53 C432.00 222.53 431.50 222.82 431.00 222.82 C430.50 222.82 430.00 222.71 429.50 222.71 C429.00 222.71 428.50 223.61 428.00 223.61 C427.50 223.61 427.00 223.11 426.50 222.81 C426.00 222.52 425.50 221.84 425.00 221.84 C424.50 221.84 424.00 221.90 423.50 221.99 C423.00 222.08 422.50 223.62 422.00 223.62 C421.50 223.62 421.00 223.45 420.50 223.22 C420.00 222.99 419.50 220.65 419.00 220.65 C418.50 220.65 418.00 222.47 417.50 222.47 C417.00 222.47 416.50 221.64 416.00 221.38 C415.50 221.12 415.00 220.77 414.50 220.77 C414.00 220.77 413.50 222.54 413.00 222.60 C412.50 222.67 412.00 222.64 411.50 222.70 C411.00 222.76 410.50 223.34 410.00 223.34 C409.50 223.34 409.00 222.84 408.50 222.65 C408.00 222.46 407.50 222.40 407.00 222.17 C406.50 221.94 406.00 220.98 405.50 220.98 C405.00 220.98 404.50 221.57 404.00 221.57 C403.50 221.57 403.00 221.11 402.50 221.11 C402.00 221.11 401.50 223.62 401.00 223.62 C400.50 223.62 400.00 223.18 399.50 222.76 C399.00 222.34 398.50 220.33 398.00 220.33 C397.50 220.33 397.00 222.34 396.50 222.34 C396.00 222.34 395.50 221.50 395.00 221.50 C394.50 221.50 394.00 221.72 393.50 221.72 C393.00 221.72 392.50 221.57 392.00 221.57 C391.50 221.57 391.00 222.54 390.50 222.54 C390.00 222.54 389.50 221.52 389.00 221.52 C388.50 221.52 388.00 221.72 387.50 221.72 C387.00 221.72 386.50 221.59 386.00 221.59 C385.50 221.59 385.00 221.59 384.50 221.60 C384.00 221.61 383.50 222.90 383.00 222.90 C382.50 222.90 382.00 220.10 381.50 220.10 C381.00 220.10 380.50 221.17 380.00 221.17 C379.50 221.17 379.00 221.16 378.50 221.16 C378.00 221.15 377.50 220.11 377.00 220.11 C376.50 220.11 376.00 221.57 375.50 221.66 C375.00 221.75 374.50 221.78 374.00 221.81 C373.50 221.84 373.00 221.83 372.50 221.87 C372.00 221.91 371.50 223.95 371.00 223.95 C370.50 223.95 370.00 220.92 369.50 220.66 C369.00 220.40 368.50 220.21 368.00 220.21 C367.50 220.21 367.00 220.72 366.50 220.72 C366.00 220.72 365.50 220.04 365.00 219.98 C364.50 219.92 364.00 219.88 363.50 219.88 C363.00 219.88 362.50 220.62 362.00 220.98 C361.50 221.35 361.00 222.06 360.50 222.06 C360.00 222.06 359.50 219.43 359.00 219.43 C358.50 219.43 358.00 219.44 357.50 219.45 C357.00 219.45 356.50 221.61 356.00 221.97 C355.50 222.34 355.00 222.67 354.50 222.67 C354.00 222.67 353.50 219.16 353.00 219.16 C352.50 219.16 352.00 219.31 351.50 219.41 C351.00 219.52 350.50 219.86 350.00 219.86 C349.50 219.86 349.00 219.10 348.50 219.10 C348.00 219.10 347.50 219.89 347.00 220.06 C346.50 220.24 346.00 220.39 345.50 220.43 C345.00 220.48 344.50 220.46 344.00 220.51 C343.50 220.56 343.00 222.32 342.50 222.32 C342.00 222.32 341.50 219.66 341.00 219.18 C340.50 218.70 340.00 218.25 339.50 218.25 C339.00 218.25 338.50 219.42 338.00 219.42 C337.50 219.42 337.00 218.68 336.50 218.68 C336.00 218.68 335.50 219.12 335.00 219.12 C334.50 219.12 334.00 219.10 333.50 219.06 C333.00 219.03 332.50 217.92 332.00 217.59 C331.50 217.25 331.00 216.82 330.50 216.82 C330.00 216.82 329.50 217.09 329.00 217.38 C328.50 217.68 328.00 219.39 327.50 219.39 C327.00 219.39 326.50 217.27 326.00 217.27 C325.50 217.27 325.00 217.48 324.50 217.62 C324.00 217.76 323.50 217.93 323.00 218.15 C322.50 218.36 322.00 218.97 321.50 218.97 C321.00 218.97 320.50 218.63 320.00 218.39 C319.50 218.14 319.00 217.59 318.50 217.39 C318.00 217.18 317.50 216.95 317.00 216.95 C316.50 216.95 316.00 217.82 315.50 217.82 C315.00 217.82 314.50 215.59 314.00 215.59 C313.50 215.59 313.00 217.13 312.50 217.13 C312.00 217.13 311.50 216.72 311.00 216.72 C310.50 216.72 310.00 217.69 309.50 217.72 C309.00 217.76 308.50 217.78 308.00 217.78 C307.50 217.78 307.00 217.56 306.50 217.35 C306.00 217.14 305.50 216.19 305.00 216.19 C304.50 216.19 304.00 217.13 303.50 217.13 C303.00 217.13 302.50 216.49 302.00 216.49 C301.50 216.49 301.00 219.40 300.50 219.40 C300.00 219.40 299.50 217.03 299.00 217.03 C298.50 217.03 298.00 218.32 297.50 218.32 C297.00 218.32 296.50 215.39 296.00 215.39 C295.50 215.39 295.00 216.40 294.50 216.40 C294.00 216.40 293.50 215.42 293.00 215.10 C292.50 214.79 292.00 214.36 291.50 214.36 C291.00 214.36 290.50 214.75 290.00 214.75 C289.50 214.75 289.00 214.03 288.50 214.03 C288.00 214.03 287.50 216.37 287.00 216.37 C286.50 216.37 286.00 215.04 285.50 214.31 C285.00 213.57 284.50 211.96 284.00 211.96 C283.50 211.96 283.00 216.05 282.50 216.05 C282.00 216.05 281.50 212.97 281.00 212.97 C280.50 212.97 280.00 214.14 279.50 214.14 C279.00 214.14 278.50 213.16 278.00 213.16 C277.50 213.16 277.00 213.21 276.50 213.21 C276.00 213.21 275.50 213.14 275.00 213.05 C274.50 212.97 274.00 212.47 273.50 212.47 C273.00 212.47 272.50 213.86 272.00 213.86 C271.50 213.86 271.00 212.90 270.50 212.83 C270.00 212.76 269.50 212.74 269.00 212.72 C268.50 212.69 268.00 212.70 267.50 212.66 C267.00 212.63 266.50 211.73 266.00 211.56 C265.50 211.38 265.00 211.36 264.50 211.22 C264.00 211.08 263.50 210.64 263.00 210.63 C262.50 210.61 262.00 210.62 261.50 210.60 C261.00 210.59 260.50 210.18 260.00 210.18 C259.50 210.18 259.00 211.92 258.50 211.92 C258.00 211.92 257.50 210.08 257.00 209.94 C256.50 209.81 256.00 209.71 255.50 209.71 C255.00 209.71 254.50 211.57 254.00 211.57 C253.50 211.57 253.00 210.01 252.50 209.94 C252.00 209.86 251.50 209.82 251.00 209.82 C250.50 209.82 250.00 209.90 249.50 209.90 C249.00 209.90 248.50 209.73 248.00 209.55 C247.50 209.36 247.00 208.23 246.50 208.23 C246.00 208.23 245.50 208.56 245.00 208.56 C244.50 208.56 244.00 208.15 243.50 207.86 C243.00 207.57 242.50 206.87 242.00 206.74 C241.50 206.61 241.00 206.62 240.50 206.50 C240.00 206.38 239.50 205.96 239.00 205.79 C238.50 205.62 238.00 205.60 237.50 205.39 C237.00 205.17 236.50 204.06 236.00 203.82 C235.50 203.58 235.00 203.58 234.50 203.35 C234.00 203.12 233.50 202.34 233.00 202.05 C232.50 201.77 232.00 201.71 231.50 201.42 C231.00 201.12 230.50 200.26 230.00 199.95 C229.50 199.63 229.00 199.24 228.50 199.24 C228.00 199.24 227.50 200.49 227.00 200.49 C226.50 200.49 226.00 200.17 225.50 199.86 C225.00 199.55 224.50 198.00 224.00 198.00 C223.50 198.00 223.00 198.01 222.50 198.01 C222.00 198.01 221.50 195.90 221.00 195.90 C220.50 195.90 220.00 196.01 219.50 196.13 C219.00 196.26 218.50 197.27 218.00 197.27 C217.50 197.27 217.00 193.91 216.50 193.91 C216.00 193.91 215.50 195.13 215.00 195.13 C214.50 195.13 214.00 194.05 213.50 194.00 C213.00 193.95 212.50 193.96 212.00 193.92 C211.50 193.88 211.00 193.69 210.50 193.44 C210.00 193.19 209.50 192.10 209.00 191.72 C208.50 191.35 208.00 191.02 207.50 190.88 C207.00 190.74 206.50 190.64 206.00 190.60 C205.50 190.55 205.00 190.56 204.50 190.51 C204.00 190.46 203.50 189.55 203.00 189.55 C202.50 189.55 202.00 189.87 201.50 189.87 C201.00 189.87 200.50 188.32 200.00 187.93 C199.50 187.54 199.00 187.39 198.50 187.10 C198.00 186.81 197.50 186.50 197.00 186.20 C196.50 185.90 196.00 185.60 195.50 185.30 C195.00 185.00 194.50 184.70 194.00 184.40 C193.50 184.10 193.00 183.80 192.50 183.50 C192.00 183.20 191.50 182.90 191.00 182.60 C190.50 182.30 190.00 182.00 189.50 181.70 C189.00 181.40 188.50 181.10 188.00 180.80 C187.50 180.50 187.00 180.20 186.50 179.90 C186.00 179.60 185.50 179.30 185.00 179.00 C184.50 178.70 184.00 178.40 183.50 178.10 C183.00 177.80 182.50 177.50 182.00 177.20 C181.50 176.90 181.00 176.60 180.50 176.30 C180.00 176.00 179.50 175.70 179.00 175.40 C178.50 175.10 178.00 174.80 177.50 174.50 C177.00 174.20 176.50 173.90 176.00 173.60 C175.50 173.30 175.00 173.00 174.50 172.70 C174.00 172.40 173.50 172.10 173.00 171.80 C172.50 171.50 172.00 171.20 171.50 170.90 C171.00 170.60 170.50 170.30 170.00 170.00 C169.50 169.70 169.00 169.40 168.50 169.10 C168.00 168.80 167.50 168.50 167.00 168.20 C166.50 167.90 166.00 167.60 165.50 167.30 C165.00 167.00 164.50 166.70 164.00 166.40 C163.50 166.10 163.00 165.80 162.50 165.50 C162.00 165.20 161.50 164.90 161.00 164.60 C160.50 164.30 160.00 164.00 159.50 163.70 C159.00 163.40 158.50 163.10 158.00 162.80 C157.50 162.50 157.00 162.20 156.50 161.90 C156.00 161.60 155.50 161.30 155.00 161.00 C154.50 160.70 154.00 160.40 153.50 160.10 C153.00 159.80 152.50 159.50 152.00 159.20 C151.50 158.90 151.00 158.57 150.50 158.30 C150.00 158.03 149.50 157.80 149.00 157.57 C148.50 157.35 148.00 157.15 147.50 156.94 C147.00 156.72 146.50 156.51 146.00 156.30 C145.50 156.09 145.00 155.88 144.50 155.66 C144.00 155.45 143.50 155.24 143.00 155.03 C142.50 154.81 142.00 154.60 141.50 154.39 C141.00 154.17 140.50 153.96 140.00 153.75 C139.50 153.54 139.00 153.33 138.50 153.11 C138.00 152.90 137.50 152.69 137.00 152.47 C136.50 152.26 136.00 152.05 135.50 151.84 C135.00 151.62 134.50 151.41 134.00 151.20 C133.50 150.99 133.00 150.78 132.50 150.56 C132.00 150.35 131.50 150.14 131.00 149.93 C130.50 149.71 130.00 149.50 129.50 149.29 C129.00 149.07 128.50 148.86 128.00 148.65 C127.50 148.44 127.00 148.22 126.50 148.01 C126.00 147.80 125.50 147.59 125.00 147.38 C124.50 147.16 124.00 146.95 123.50 146.74 C123.00 146.53 122.50 146.31 122.00 146.10 C121.50 145.89 121.00 145.68 120.50 145.46 C120.00 145.25 119.50 145.04 119.00 144.82 C118.50 144.61 118.00 144.40 117.50 144.19 C117.00 143.97 116.50 143.76 116.00 143.55 C115.50 143.34 115.00 143.12 114.50 142.91 C114.00 142.70 113.50 142.49 113.00 142.28 C112.50 142.06 112.00 141.85 111.50 141.64 C111.00 141.42 110.50 141.10 110.00 141.00 C109.50 140.90 109.00 140.86 108.50 140.79 C108.00 140.72 107.50 140.66 107.00 140.59 C106.50 140.52 106.00 140.45 105.50 140.38 C105.00 140.31 104.50 140.24 104.00 140.17 C103.50 140.11 103.00 140.04 102.50 139.97 C102.00 139.90 101.50 139.83 101.00 139.76 C100.50 139.69 100.00 139.62 99.50 139.55 C99.00 139.49 98.50 139.42 98.00 139.35 C97.50 139.28 97.00 139.21 96.50 139.14 C96.00 139.07 95.50 139.00 95.00 138.94 C94.50 138.87 94.00 138.80 93.50 138.73 C93.00 138.66 92.50 138.59 92.00 138.52 C91.50 138.45 91.00 138.38 90.50 138.32 C90.00 138.25 89.50 138.18 89.00 138.11 C88.50 138.04 88.00 137.97 87.50 137.90 C87.00 137.83 86.50 137.77 86.00 137.70 C85.50 137.63 85.00 137.56 84.50 137.49 C84.00 137.42 83.50 137.35 83.00 137.28 C82.50 137.22 82.00 137.15 81.50 137.08 C81.00 137.01 80.50 136.94 80.00 136.87 C79.50 136.80 79.00 136.73 78.50 136.66 C78.00 136.60 77.50 136.53 77.00 136.46 C76.50 136.39 76.00 136.32 75.50 136.25 C75.00 136.18 74.50 136.11 74.00 136.05 C73.50 135.98 73.00 135.91 72.50 135.84 C72.00 135.77 71.50 135.70 71.00 135.63 C70.50 135.56 70.00 135.49 69.50 135.43 C69.00 135.36 68.50 135.29 68.00 135.22 C67.50 135.15 67.00 135.08 66.50 135.01 C66.00 134.94 65.50 134.88 65.00 134.81 C64.50 134.74 64.00 134.67 63.50 134.60 Z" fill="#5050ff" fill-opacity="0.07" stroke="none"/>
<path d="M63.50 134.60 C92.33 143.07 121.17 148.00 150.00 160.00 C166.67 166.94 183.33 185.84 200.00 192.00 C216.67 198.16 233.33 201.97 250.00 205.00 C266.67 208.03 283.33 210.30 300.00 212.00 C316.67 213.70 333.33 215.11 350.00 216.00 C366.67 216.89 383.33 217.46 400.00 218.00 C425.17 218.81 450.33 219.33 475.50 220.00 L474.50 230.39 C474.00 230.45 473.50 230.46 473.00 230.56 C472.50 230.67 472.00 233.23 471.50 233.23 C471.00 233.23 470.50 230.99 470.00 230.99 C469.50 230.99 469.00 231.22 468.50 231.22 C468.00 231.22 467.50 231.21 467.00 231.21 C466.50 231.21 466.00 231.41 465.50 231.41 C465.00 231.41 464.50 230.89 464.00 230.72 C463.50 230.55 463.00 230.31 462.50 230.31 C462.00 230.31 461.50 231.55 461.00 231.55 C460.50 231.55 460.00 230.21 459.50 230.21 C459.00 230.21 458.50 231.72 458.00 231.72 C457.50 231.72 457.00 231.15 456.50 230.84 C456.00 230.52 455.50 229.81 455.00 229.81 C454.50 229.81 454.00 229.89 453.50 229.99 C453.00 230.10 452.50 231.11 452.00 231.11 C451.50 231.11 451.00 230.92 450.50 230.92 C450.00 230.92 449.50 231.06 449.00 231.06 C448.50 231.06 448.00 230.28 447.50 230.28 C447.00 230.28 446.50 230.39 446.00 230.50 C445.50 230.62 445.00 231.33 444.50 231.39 C444.00 231.46 443.50 231.51 443.00 231.51 C442.50 231.51 442.00 229.67 441.50 229.67 C441.00 229.67 440.50 230.65 440.00 230.65 C439.50 230.65 439.00 230.49 438.50 230.49 C438.00 230.49 437.50 231.07 437.00 231.07 C436.50 231.07 436.00 230.50 435.50 230.50 C435.00 230.50 434.50 230.61 434.00 230.61 C433.50 230.61 433.00 230.41 432.50 230.41 C432.00 230.41 431.50 230.68 431.00 230.68 C430.50 230.68 430.00 228.72 429.50 228.71 C429.00 228.69 428.50 228.69 428.00 228.69 C427.50 228.69 427.00 230.39 426.50 230.39 C426.00 230.39 425.50 228.96 425.00 228.96 C424.50 228.96 424.00 229.33 423.50 229.33 C423.00 229.33 422.50 229.13 422.00 229.13 C421.50 229.13 421.00 229.98 420.50 230.23 C420.00 230.49 419.50 230.82 419.00 230.82 C418.50 230.82 418.00 228.61 417.50 228.61 C417.00 228.61 416.50 229.31 416.00 229.56 C415.50 229.81 415.00 230.17 414.50 230.17 C414.00 230.17 413.50 229.46 413.00 229.46 C412.50 229.46 412.00 230.65 411.50 230.65 C411.00 230.65 410.50 229.91 410.00 229.71 C409.50 229.52 409.00 229.29 408.50 229.29 C408.00 229.29 407.50 229.69 407.00 229.87 C406.50 230.04 406.00 230.33 405.50 230.33 C405.00 230.33 404.50 228.22 404.00 228.22 C403.50 228.22 403.00 229.67 402.50 229.67 C402.00 229.67 401.50 228.59 401.00 228.59 C400.50 228.59 400.00 229.73 399.50 229.73 C399.00 229.73 398.50 228.58 398.00 228.58 C397.50 228.58 397.00 228.90 396.50 228.96 C396.00 229.03 395.50 229.01 395.00 229.09 C394.50 229.16 394.00 229.99 393.50 229.99 C393.00 229.99 392.50 229.39 392.00 229.00 C391.50 228.61 391.00 227.59 390.50 227.59 C390.00 227.59 389.50 227.96 389.00 227.96 C388.50 227.96 388.00 227.69 387.50 227.69 C387.00 227.69 386.50 228.97 386.00 228.97 C385.50 228.97 385.00 227.78 384.50 227.75 C384.00 227.72 383.50 227.70 383.00 227.70 C382.50 227.70 382.00 227.91 381.50 227.91 C381.00 227.91 380.50 226.30 380.00 226.30 C379.50 226.30 379.00 227.17 378.50 227.17 C378.00 227.17 377.50 226.90 377.00 226.90 C376.50 226.90 376.00 228.24 375.50 228.24 C375.00 228.24 374.50 227.75 374.00 227.75 C373.50 227.75 373.00 228.65 372.50 228.65 C372.00 228.65 371.50 227.89 371.00 227.47 C370.50 227.04 370.00 226.10 369.50 226.10 C369.00 226.10 368.50 226.33 368.00 226.63 C367.50 226.92 367.00 229.53 366.50 229.53 C366.00 229.53 365.50 228.59 365.00 228.25 C364.50 227.92 364.00 227.66 363.50 227.42 C363.00 227.18 362.50 226.77 362.00 226.77 C361.50 226.77 361.00 227.26 360.50 227.26 C360.00 227.26 359.50 225.80 359.00 225.80 C358.50 225.80 358.00 226.64 357.50 226.64 C357.00 226.64 356.50 226.42 356.00 226.42 C355.50 226.42 355.00 226.84 354.50 226.84 C354.00 226.84 353.50 225.11 353.00 225.11 C352.50 225.11 352.00 226.28 351.50 226.45 C351.00 226.63 350.50 226.78 350.00 226.78 C349.50 226.78 349.00 226.07 348.50 225.66 C348.00 225.24 347.50 224.26 347.00 224.26 C346.50 224.26 346.00 224.83 345.50 225.25 C345.00 225.66 344.50 226.92 344.00 226.92 C343.50 226.92 343.00 226.87 342.50 226.78 C342.00 226.70 341.50 224.69 341.00 224.59 C340.50 224.48 340.00 224.41 339.50 224.41 C339.00 224.41 338.50 226.59 338.00 226.59 C337.50 226.59 337.00 224.93 336.50 224.93 C336.00 224.93 335.50 227.49 335.00 227.49 C334.50 227.49 334.00 224.57 333.50 224.57 C333.00 224.57 332.50 225.15 332.00 225.15 C331.50 225.15 331.00 223.53 330.50 223.53 C330.00 223.53 329.50 224.10 329.00 224.52 C328.50 224.94 328.00 226.24 327.50 226.24 C327.00 226.24 326.50 224.94 326.00 224.60 C325.50 224.25 325.00 223.83 324.50 223.83 C324.00 223.83 323.50 223.99 323.00 224.11 C322.50 224.24 322.00 224.72 321.50 224.72 C321.00 224.72 320.50 221.59 320.00 221.59 C319.50 221.59 319.00 222.64 318.50 223.08 C318.00 223.52 317.50 224.28 317.00 224.28 C316.50 224.28 316.00 222.59 315.50 222.59 C315.00 222.59 314.50 224.58 314.00 224.58 C313.50 224.58 313.00 223.23 312.50 223.23 C312.00 223.23 311.50 223.50 311.00 223.66 C310.50 223.83 310.00 224.24 309.50 224.24 C309.00 224.24 308.50 221.51 308.00 221.51 C307.50 221.51 307.00 221.97 306.50 222.03 C306.00 222.08 305.50 222.07 305.00 222.12 C304.50 222.18 304.00 222.72 303.50 222.72 C303.00 222.72 302.50 222.24 302.00 222.24 C301.50 222.24 301.00 222.81 300.50 222.81 C300.00 222.81 299.50 221.81 299.00 221.81 C298.50 221.81 298.00 221.93 297.50 221.93 C297.00 221.93 296.50 220.41 296.00 220.41 C295.50 220.41 295.00 222.29 294.50 222.29 C294.00 222.29 293.50 221.47 293.00 221.25 C292.50 221.04 292.00 221.00 291.50 220.78 C291.00 220.56 290.50 219.74 290.00 219.69 C289.50 219.63 289.00 219.60 288.50 219.60 C288.00 219.60 287.50 220.87 287.00 220.87 C286.50 220.87 286.00 219.43 285.50 219.43 C285.00 219.43 284.50 220.41 284.00 220.41 C283.50 220.41 283.00 219.61 282.50 219.12 C282.00 218.63 281.50 217.43 281.00 217.43 C280.50 217.43 280.00 218.32 279.50 218.32 C279.00 218.32 278.50 217.48 278.00 217.48 C277.50 217.48 277.00 217.74 276.50 217.91 C276.00 218.08 275.50 218.58 275.00 218.58 C274.50 218.58 274.00 217.31 273.50 217.31 C273.00 217.31 272.50 217.96 272.00 217.96 C271.50 217.96 271.00 217.38 270.50 217.38 C270.00 217.38 269.50 217.42 269.00 217.48 C268.50 217.54 268.00 218.64 267.50 218.64 C267.00 218.64 266.50 216.18 266.00 216.18 C265.50 216.18 265.00 216.37 264.50 216.47 C264.00 216.57 263.50 216.76 263.00 216.76 C262.50 216.76 262.00 215.31 261.50 215.19 C261.00 215.06 260.50 214.98 260.00 214.98 C259.50 214.98 259.00 215.05 258.50 215.13 C258.00 215.21 257.50 215.70 257.00 215.70 C256.50 215.70 256.00 214.59 255.50 214.59 C255.00 214.59 254.50 215.06 254.00 215.43 C253.50 215.80 253.00 217.08 252.50 217.08 C252.00 217.08 251.50 214.94 251.00 214.94 C250.50 214.94 250.00 215.42 249.50 215.42 C249.00 215.42 248.50 213.57 248.00 213.42 C247.50 213.26 247.00 213.31 246.50 213.15 C246.00 213.00 245.50 211.45 245.00 211.21 C244.50 210.96 244.00 210.76 243.50 210.75 C243.00 210.74 242.50 210.73 242.00 210.73 C241.50 210.73 241.00 211.22 240.50 211.22 C240.00 211.22 239.50 210.78 239.00 210.78 C238.50 210.78 238.00 210.93 237.50 210.93 C237.00 210.93 236.50 209.10 236.00 209.10 C235.50 209.10 235.00 209.82 234.50 209.82 C234.00 209.82 233.50 208.69 233.00 208.16 C232.50 207.64 232.00 206.66 231.50 206.66 C231.00 206.66 230.50 207.48 230.00 207.48 C229.50 207.48 229.00 206.06 228.50 205.66 C228.00 205.26 227.50 205.00 227.00 204.76 C226.50 204.52 226.00 204.39 225.50 204.16 C225.00 203.94 224.50 203.37 224.00 203.37 C223.50 203.37 223.00 203.83 222.50 203.99 C222.00 204.14 221.50 204.37 221.00 204.37 C220.50 204.37 220.00 203.74 219.50 203.53 C219.00 203.31 218.50 203.26 218.00 203.00 C217.50 202.74 217.00 202.02 216.50 201.57 C216.00 201.11 215.50 200.28 215.00 200.28 C214.50 200.28 214.00 202.30 213.50 202.30 C213.00 202.30 212.50 200.26 212.00 200.23 C211.50 200.19 211.00 200.20 210.50 200.17 C210.00 200.13 209.50 199.66 209.00 199.66 C208.50 199.66 208.00 199.85 207.50 199.85 C207.00 199.85 206.50 197.76 206.00 197.76 C205.50 197.76 205.00 198.23 204.50 198.23 C204.00 198.23 203.50 197.00 203.00 197.00 C202.50 197.00 202.00 197.31 201.50 197.31 C201.00 197.31 200.50 197.17 200.00 196.98 C199.50 196.78 199.00 195.43 198.50 194.98 C198.00 194.53 197.50 194.30 197.00 193.96 C196.50 193.62 196.00 193.28 195.50 192.94 C195.00 192.60 194.50 192.26 194.00 191.92 C193.50 191.58 193.00 191.24 192.50 190.90 C192.00 190.56 191.50 190.22 191.00 189.88 C190.50 189.54 190.00 189.20 189.50 188.86 C189.00 188.52 188.50 188.18 188.00 187.84 C187.50 187.50 187.00 187.16 186.50 186.82 C186.00 186.48 185.50 186.14 185.00 185.80 C184.50 185.46 184.00 185.12 183.50 184.78 C183.00 184.44 182.50 184.10 182.00 183.76 C181.50 183.42 181.00 183.08 180.50 182.74 C180.00 182.40 179.50 182.06 179.00 181.72 C178.50 181.38 178.00 181.04 177.50 180.70 C177.00 180.36 176.50 180.02 176.00 179.68 C175.50 179.34 175.00 179.00 174.50 178.66 C174.00 178.32 173.50 177.98 173.00 177.64 C172.50 177.30 172.00 176.96 171.50 176.62 C171.00 176.28 170.50 175.94 170.00 175.60 C169.50 175.26 169.00 174.92 168.50 174.58 C168.00 174.24 167.50 173.90 167.00 173.56 C166.50 173.22 166.00 172.88 165.50 172.54 C165.00 172.20 164.50 171.86 164.00 171.52 C163.50 171.18 163.00 170.84 162.50 170.50 C162.00 170.16 161.50 169.82 161.00 169.48 C160.50 169.14 160.00 168.80 159.50 168.46 C159.00 168.12 158.50 167.78 158.00 167.44 C157.50 167.10 157.00 166.76 156.50 166.42 C156.00 166.08 155.50 165.74 155.00 165.40 C154.50 165.06 154.00 164.72 153.50 164.38 C153.00 164.04 152.50 163.70 152.00 163.36 C151.50 163.02 151.00 162.61 150.50 162.34 C150.00 162.07 149.50 161.87 149.00 161.68 C148.50 161.50 148.00 161.37 147.50 161.21 C147.00 161.05 146.50 160.89 146.00 160.73 C145.50 160.57 145.00 160.42 144.50 160.26 C144.00 160.10 143.50 159.94 143.00 159.78 C142.50 159.62 142.00 159.47 141.50 159.31 C141.00 159.15 140.50 158.99 140.00 158.83 C139.50 158.67 139.00 158.52 138.50 158.36 C138.00 158.20 137.50 158.04 137.00 157.88 C136.50 157.72 136.00 157.57 135.50 157.41 C135.00 157.25 134.50 157.09 134.00 156.93 C133.50 156.77 133.00 156.62 132.50 156.46 C132.00 156.30 131.50 156.14 131.00 155.98 C130.50 155.82 130.00 155.66 129.50 155.51 C129.00 155.35 128.50 155.19 128.00 155.03 C127.50 154.87 127.00 154.71 126.50 154.56 C126.00 154.40 125.50 154.24 125.00 154.08 C124.50 153.92 124.00 153.76 123.50 153.61 C123.00 153.45 122.50 153.29 122.00 153.13 C121.50 152.97 121.00 152.81 120.50 152.66 C120.00 152.50 119.50 152.34 119.00 152.18 C118.50 152.02 118.00 151.86 117.50 151.71 C117.00 151.55 116.50 151.39 116.00 151.23 C115.50 151.07 115.00 150.91 114.50 150.75 C114.00 150.60 113.50 150.44 113.00 150.28 C112.50 150.12 112.00 149.96 111.50 149.80 C111.00 149.65 110.50 149.49 110.00 149.33 C109.50 149.17 109.00 149.01 108.50 148.85 C108.00 148.70 107.50 148.54 107.00 148.38 C106.50 148.22 106.00 148.06 105.50 147.90 C105.00 147.75 104.50 147.59 104.00 147.43 C103.50 147.27 103.00 147.11 102.50 146.95 C102.00 146.80 101.50 146.64 101.00 146.48 C100.50 146.32 100.00 146.16 99.50 146.00 C99.00 145.85 98.50 145.69 98.00 145.53 C97.50 145.37 97.00 145.21 96.50 145.05 C96.00 144.89 95.50 144.74 95.00 144.58 C94.50 144.42 94.00 144.26 93.50 144.10 C93.00 143.94 92.50 143.79 92.00 143.63 C91.50 143.47 91.00 143.31 90.50 143.15 C90.00 142.99 89.50 142.84 89.00 142.68 C88.50 142.52 88.00 142.36 87.50 142.20 C87.00 142.04 86.50 141.89 86.00 141.73 C85.50 141.57 85.00 141.41 84.50 141.25 C84.00 141.09 83.50 140.94 83.00 140.78 C82.50 140.62 82.00 140.46 81.50 140.30 C81.00 140.14 80.50 139.98 80.00 139.83 C79.50 139.67 79.00 139.51 78.50 139.35 C78.00 139.19 77.50 139.03 77.00 138.88 C76.50 138.72 76.00 138.56 75.50 138.40 C75.00 138.24 74.50 138.08 74.00 137.93 C73.50 137.77 73.00 137.61 72.50 137.45 C72.00 137.29 71.50 137.13 71.00 136.98 C70.50 136.82 70.00 136.66 69.50 136.50 C69.00 136.34 68.50 136.18 68.00 136.03 C67.50 135.87 67.00 135.71 66.50 135.55 C66.00 135.39 65.50 135.23 65.00 135.08 C64.50 134.92 64.00 134.76 63.50 134.60 Z" fill="#5050ff" fill-opacity="0.05" stroke="none"/>
<path d="M63.50 134.60 C92.33 139.73 121.17 142.09 150.00 150.00 C166.67 154.57 183.33 168.75 200.00 175.00 C216.67 181.25 233.33 186.52 250.00 190.00 C266.67 193.48 283.33 196.22 300.00 198.00 C316.67 199.78 333.33 200.86 350.00 202.00 C366.67 203.14 383.33 204.37 400.00 205.00 C425.17 205.95 450.33 206.33 475.50 207.00 L475.50 225.00 C450.33 224.33 425.17 223.95 400.00 223.00 C383.33 222.37 366.67 221.14 350.00 220.00 C333.33 218.86 316.67 217.90 300.00 216.00 C283.33 214.10 266.67 210.71 250.00 206.00 C233.33 201.29 216.67 190.89 200.00 182.00 C183.33 173.11 166.67 157.25 150.00 152.00 C121.17 142.91 92.33 140.40 63.50 134.60 Z" fill="#ffa040" fill-opacity="0.04" stroke="none"/>
<path d="M63.50 134.60 C79.00 135.57 94.50 136.21 110.00 137.50 C120.00 138.33 130.00 139.27 140.00 141.00 C146.67 142.15 153.33 144.23 160.00 147.00 C167.27 150.02 174.53 156.07 181.80 162.00 C187.87 166.95 193.93 173.81 200.00 180.00 C206.33 186.46 212.67 194.42 219.00 200.00 C227.00 207.05 235.00 213.51 243.00 218.00 C252.00 223.05 261.00 227.50 270.00 230.00 C280.00 232.78 290.00 235.73 300.00 236.00 C358.50 237.60 417.00 237.33 475.50 238.00 L475.50 239.00 C407.00 238.50 338.50 238.73 270.00 237.50 C261.00 237.34 252.00 235.75 243.00 234.00 C235.00 232.44 227.00 229.44 219.00 225.00 C212.67 221.48 206.33 213.46 200.00 206.00 C193.93 198.85 187.87 187.57 181.80 180.00 C174.53 170.93 167.27 161.62 160.00 156.00 C153.33 150.84 146.67 145.94 140.00 144.00 C130.00 141.09 120.00 139.68 110.00 138.50 C94.50 136.67 79.00 135.90 63.50 134.60 Z" fill="#ff5050" fill-opacity="0.09" stroke="none"/>
<path d="M63.50 134.60 C79.00 135.90 94.50 136.35 110.00 138.50 C120.00 139.88 130.00 143.24 140.00 148.00 C146.67 151.17 153.33 157.85 160.00 165.00 C167.27 172.79 174.53 187.64 181.80 197.00 C187.87 204.81 193.93 212.78 200.00 218.00 C206.33 223.45 212.67 228.93 219.00 231.00 C227.00 233.61 235.00 235.79 243.00 236.00 C320.50 238.02 398.00 237.60 475.50 238.40 L475.50 239.00 C398.00 238.80 320.50 238.93 243.00 238.40 C235.00 238.35 227.00 237.24 219.00 236.00 C212.67 235.02 206.33 232.95 200.00 230.00 C193.93 227.17 187.87 220.62 181.80 214.00 C174.53 206.07 167.27 191.58 160.00 182.00 C153.33 173.21 146.67 163.45 140.00 158.00 C130.00 149.82 120.00 142.05 110.00 140.00 C94.50 136.83 79.00 136.40 63.50 134.60 Z" fill="#ff5050" fill-opacity="0.08" stroke="none"/>
<path d="M63.50 134.60 C79.00 135.73 94.50 136.38 110.00 138.00 C120.00 139.05 130.00 140.69 140.00 143.00 C146.67 144.54 153.33 146.74 160.00 150.00 C167.27 153.55 174.53 160.83 181.80 168.00 C187.87 173.99 193.93 182.82 200.00 190.00 C206.33 197.49 212.67 206.58 219.00 212.00 C227.00 218.84 235.00 224.99 243.00 228.00 C252.00 231.39 261.00 234.68 270.00 235.00 C338.50 237.45 407.00 237.00 475.50 238.00 L475.50 239.00 C398.00 238.50 320.50 238.77 243.00 237.50 C235.00 237.37 227.00 235.87 219.00 234.00 C212.67 232.52 206.33 228.52 200.00 224.00 C193.93 219.67 187.87 211.59 181.80 204.00 C174.53 194.91 167.27 180.62 160.00 172.00 C153.33 164.09 146.67 156.14 140.00 152.00 C130.00 145.79 120.00 140.63 110.00 139.00 C94.50 136.48 79.00 136.07 63.50 134.60 Z" fill="#ff5050" fill-opacity="0.05" stroke="none"/>
<path d="M63.50 134.60 L65.00 134.69 L66.50 134.79 L68.00 134.88 L69.50 134.97 L71.00 135.07 L72.50 135.16 L74.00 135.25 L75.50 135.35 L77.00 135.44 L78.50 135.54 L80.00 135.63 L81.50 135.72 L83.00 135.82 L84.50 135.91 L86.00 136.00 L87.50 136.10 L89.00 136.19 L90.50 136.28 L92.00 136.38 L93.50 136.47 L95.00 136.56 L96.50 136.66 L98.00 136.75 L99.50 136.85 L101.00 136.94 L102.50 137.03 L104.00 137.13 L105.50 137.22 L107.00 137.31 L108.50 137.41 L110.00 137.50 L111.50 137.60 L113.00 137.70 L114.50 137.80 L116.00 137.90 L117.50 138.00 L119.00 138.10 L120.50 138.20 L122.00 138.30 L123.50 138.40 L125.00 138.50 L126.50 138.60 L128.00 138.70 L129.50 138.80 L131.00 138.90 L132.50 139.00 L134.00 139.10 L135.50 139.20 L137.00 139.30 L138.50 139.40 L140.00 139.50 L141.50 139.70 L143.00 139.90 L144.50 140.10 L146.00 140.30 L147.50 140.50 L149.00 140.70 L150.50 140.90 L152.00 141.10 L153.50 141.30 L155.00 141.50 L156.50 141.70 L158.00 141.90 L159.50 142.10 L161.00 142.30 L162.50 142.50 L164.00 142.70 L165.50 142.90 L167.00 143.10 L168.50 143.30 L170.00 143.50 L171.50 143.68 L173.00 143.85 L174.50 144.03 L176.00 144.21 L177.50 144.39 L179.00 144.56 L180.50 144.74 L182.00 145.02 L183.50 145.35 L185.00 145.68 L186.50 146.01 L188.00 146.34 L189.50 146.67 L191.00 147.00 L192.50 147.34 L194.00 147.67 L195.50 148.00 L197.00 148.33 L198.50 148.66 L200.00 148.99 L201.50 149.32 L203.00 149.65 L204.50 149.98 L206.00 150.31 L207.50 150.64 L209.00 150.97 L210.50 151.30 L212.00 151.63 L213.50 151.96 L215.00 152.30 L216.50 152.63 L218.00 152.96 L219.50 153.29 L221.00 153.62 L222.50 153.95 L224.00 154.28 L225.50 154.63 L227.00 155.03 L228.50 155.42 L230.00 155.82 L231.50 156.21 L233.00 156.61 L234.50 157.00 L236.00 157.40 L237.50 157.79 L239.00 158.19 L240.50 158.58 L242.00 158.98 L243.50 159.38 L245.00 159.77 L246.50 160.17 L248.00 160.56 L249.50 160.96 L251.00 161.35 L252.50 161.75 L254.00 162.14 L255.50 162.49 L257.00 162.81 L258.50 163.13 L260.00 163.46 L261.50 163.90 L263.00 164.36 L264.50 164.52 L266.00 164.74 L267.50 164.82 L269.00 165.42 L270.50 165.79 L272.00 166.25 L273.50 165.83 L275.00 166.47 L276.50 167.33 L278.00 167.35 L279.50 167.49 L281.00 167.71 L282.50 168.20 L284.00 169.08 L285.50 168.61 L287.00 169.49 L288.50 169.27 L290.00 169.49 L291.50 170.14 L293.00 170.65 L294.50 171.08 L296.00 171.62 L297.50 171.70 L299.00 171.66 L300.50 172.34 L302.00 172.47 L303.50 173.10 L305.00 173.05 L306.50 174.10 L308.00 174.18 L309.50 174.35 L311.00 174.86 L312.50 174.79 L314.00 175.74 L315.50 176.28 L317.00 176.96 L318.50 176.31 L320.00 177.39 L321.50 177.56 L323.00 177.32 L324.50 178.70 L326.00 178.65 L327.50 179.28 L329.00 178.89 L330.50 179.12 L332.00 180.29 L333.50 180.78 L335.00 181.31 L336.50 181.39 L338.00 181.28 L339.50 181.52 L341.00 181.82 L342.50 182.13 L344.00 182.50 L345.50 182.63 L347.00 182.17 L348.50 183.69 L350.00 183.43 L351.50 183.81 L353.00 184.47 L354.50 182.57 L356.00 184.59 L357.50 185.05 L359.00 185.18 L360.50 185.47 L362.00 185.96 L363.50 185.91 L365.00 186.33 L366.50 185.99 L368.00 186.89 L369.50 187.60 L371.00 187.05 L372.50 187.93 L374.00 187.97 L375.50 187.75 L377.00 188.28 L378.50 189.30 L380.00 189.65 L381.50 189.03 L383.00 189.57 L384.50 189.62 L386.00 190.15 L387.50 190.32 L389.00 190.50 L390.50 187.99 L392.00 191.67 L393.50 191.38 L395.00 191.73 L396.50 191.27 L398.00 192.27 L399.50 192.84 L401.00 192.73 L402.50 191.48 L404.00 192.93 L405.50 193.30 L407.00 193.94 L408.50 194.25 L410.00 194.87 L411.50 194.48 L413.00 194.29 L414.50 194.63 L416.00 194.89 L417.50 195.33 L419.00 195.44 L420.50 195.54 L422.00 194.86 L423.50 195.78 L425.00 195.82 L426.50 195.68 L428.00 195.48 L429.50 196.34 L431.00 196.31 L432.50 196.52 L434.00 195.88 L435.50 195.03 L437.00 196.45 L438.50 196.82 L440.00 197.26 L441.50 197.30 L443.00 197.43 L444.50 196.60 L446.00 197.41 L447.50 197.58 L449.00 198.10 L450.50 197.89 L452.00 197.92 L453.50 198.09 L455.00 198.21 L456.50 199.03 L458.00 199.23 L459.50 199.52 L461.00 199.02 L462.50 199.77 L464.00 199.94 L465.50 200.05 L467.00 199.93 L468.50 198.94 L470.00 201.01 L471.50 200.50 L473.00 201.04 L474.50 201.02" stroke="#2a2aff" stroke-width="1.1" fill="none" stroke-linejoin="round"/>
<path d="M63.50 134.60 L65.00 134.69 L66.50 134.79 L68.00 134.88 L69.50 134.97 L71.00 135.07 L72.50 135.16 L74.00 135.25 L75.50 135.35 L77.00 135.44 L78.50 135.54 L80.00 135.63 L81.50 135.72 L83.00 135.82 L84.50 135.91 L86.00 136.00 L87.50 136.10 L89.00 136.19 L90.50 136.28 L92.00 136.38 L93.50 136.47 L95.00 136.56 L96.50 136.66 L98.00 136.75 L99.50 136.85 L101.00 136.94 L102.50 137.03 L104.00 137.13 L105.50 137.22 L107.00 137.31 L108.50 137.41 L110.00 137.50 L111.50 137.70 L113.00 137.90 L114.50 138.10 L116.00 138.30 L117.50 138.50 L119.00 138.70 L120.50 138.90 L122.00 139.10 L123.50 139.30 L125.00 139.50 L126.50 139.70 L128.00 139.90 L129.50 140.10 L131.00 140.30 L132.50 140.50 L134.00 140.70 L135.50 140.90 L137.00 141.10 L138.50 141.30 L140.00 141.50 L141.50 141.76 L143.00 142.03 L144.50 142.30 L146.00 142.56 L147.50 142.82 L149.00 143.09 L150.50 143.35 L152.00 143.62 L153.50 143.88 L155.00 144.15 L156.50 144.42 L158.00 144.68 L159.50 144.94 L161.00 145.21 L162.50 145.48 L164.00 145.74 L165.50 146.00 L167.00 146.27 L168.50 146.54 L170.00 146.80 L171.50 146.99 L173.00 147.18 L174.50 147.37 L176.00 147.56 L177.50 147.75 L179.00 147.95 L180.50 148.14 L182.00 148.43 L183.50 148.78 L185.00 149.13 L186.50 149.47 L188.00 149.82 L189.50 150.17 L191.00 150.52 L192.50 150.87 L194.00 151.21 L195.50 151.56 L197.00 151.91 L198.50 152.26 L200.00 152.60 L201.50 152.95 L203.00 153.30 L204.50 153.65 L206.00 154.00 L207.50 154.34 L209.00 154.69 L210.50 155.04 L212.00 155.39 L213.50 155.73 L215.00 156.08 L216.50 156.43 L218.00 156.78 L219.50 157.12 L221.00 157.47 L222.50 157.82 L224.00 158.17 L225.50 158.49 L227.00 158.75 L228.50 159.01 L230.00 159.28 L231.50 159.54 L233.00 159.81 L234.50 160.07 L236.00 160.33 L237.50 160.60 L239.00 160.86 L240.50 161.17 L242.00 161.95 L243.50 159.24 L245.00 161.80 L246.50 162.32 L248.00 163.92 L249.50 162.07 L251.00 163.06 L252.50 163.60 L254.00 163.09 L255.50 164.44 L257.00 164.28 L258.50 165.10 L260.00 164.63 L261.50 165.21 L263.00 164.44 L264.50 165.32 L266.00 164.94 L267.50 165.84 L269.00 166.02 L270.50 165.53 L272.00 166.60 L273.50 166.27 L275.00 167.10 L276.50 167.63 L278.00 166.92 L279.50 168.21 L281.00 167.74 L282.50 168.97 L284.00 168.04 L285.50 168.69 L287.00 169.55 L288.50 169.78 L290.00 169.54 L291.50 169.64 L293.00 169.36 L294.50 170.21 L296.00 169.49 L297.50 171.39 L299.00 171.20 L300.50 171.83 L302.00 171.54 L303.50 170.94 L305.00 172.48 L306.50 172.30 L308.00 172.63 L309.50 172.65 L311.00 174.43 L312.50 173.15 L314.00 174.10 L315.50 173.67 L317.00 174.32 L318.50 174.18 L320.00 175.42 L321.50 175.95 L323.00 173.86 L324.50 175.91 L326.00 176.24 L327.50 177.16 L329.00 177.10 L330.50 176.76 L332.00 176.74 L333.50 177.30 L335.00 177.10 L336.50 178.12 L338.00 178.55 L339.50 178.67 L341.00 179.84 L342.50 179.73 L344.00 179.93 L345.50 180.23 L347.00 180.96 L348.50 181.17 L350.00 181.74 L351.50 181.32 L353.00 182.06 L354.50 182.07 L356.00 181.88 L357.50 182.67 L359.00 182.17 L360.50 182.41 L362.00 182.85 L363.50 183.25 L365.00 183.63 L366.50 183.64 L368.00 183.31 L369.50 184.00 L371.00 183.76 L372.50 183.90 L374.00 184.72 L375.50 185.78 L377.00 184.93 L378.50 184.09 L380.00 185.74 L381.50 185.48 L383.00 184.84 L384.50 185.80 L386.00 186.50 L387.50 185.99 L389.00 186.30 L390.50 187.27 L392.00 186.51 L393.50 185.40 L395.00 186.95 L396.50 187.30 L398.00 188.33 L399.50 188.47 L401.00 187.87 L402.50 188.63 L404.00 188.11 L405.50 188.88 L407.00 189.43 L408.50 189.36 L410.00 188.32 L411.50 190.11 L413.00 189.68 L414.50 189.77 L416.00 190.35 L417.50 188.08 L419.00 190.47 L420.50 190.63 L422.00 190.81 L423.50 191.32 L425.00 191.31 L426.50 190.82 L428.00 191.90 L429.50 191.70 L431.00 192.10 L432.50 191.81 L434.00 191.64 L435.50 191.82 L437.00 192.86 L438.50 192.79 L440.00 192.17 L441.50 192.24 L443.00 193.10 L444.50 192.89 L446.00 193.43 L447.50 193.90 L449.00 193.81 L450.50 194.14 L452.00 193.70 L453.50 193.96 L455.00 194.63 L456.50 193.76 L458.00 193.58 L459.50 194.46 L461.00 194.07 L462.50 195.02 L464.00 194.91 L465.50 195.21 L467.00 195.28 L468.50 196.15 L470.00 195.55 L471.50 195.16 L473.00 194.92 L474.50 195.85" stroke="#f5a040" stroke-width="1.0" fill="none" stroke-linejoin="round"/>
<path d="M63.50 134.60 C79.00 135.57 94.50 136.06 110.00 137.50 C120.00 138.43 130.00 139.90 140.00 142.30 C143.93 143.24 147.87 144.82 151.80 146.80 C155.73 148.78 159.67 152.47 163.60 155.60 C165.73 157.30 167.87 158.96 170.00 161.00 C173.93 164.76 177.87 169.51 181.80 174.50 C184.53 177.97 187.27 182.24 190.00 186.00 C193.33 190.59 196.67 195.20 200.00 199.50 C202.33 202.51 204.67 205.66 207.00 208.20 C211.00 212.56 215.00 216.51 219.00 219.60 C223.00 222.69 227.00 225.58 231.00 227.40 C235.00 229.22 239.00 230.43 243.00 231.60 C247.00 232.77 251.00 234.06 255.00 234.60 C266.67 236.18 278.33 237.16 290.00 237.50 C303.33 237.89 316.67 238.16 330.00 238.20 C378.50 238.35 427.00 238.33 475.50 238.40" stroke="#ff2020" stroke-width="1.1" fill="none" stroke-opacity="1" stroke-linecap="butt"/>
<path d="M63.50 134.60 L65.00 134.75 L66.50 134.91 L68.00 135.06 L69.50 135.22 L71.00 135.37 L72.50 135.53 L74.00 135.68 L75.50 135.84 L77.00 135.99 L78.50 136.15 L80.00 136.30 L81.50 136.46 L83.00 136.61 L84.50 136.77 L86.00 136.92 L87.50 137.08 L89.00 137.23 L90.50 137.39 L92.00 137.54 L93.50 137.70 L95.00 137.85 L96.50 138.01 L98.00 138.16 L99.50 138.32 L101.00 138.47 L102.50 138.63 L104.00 138.78 L105.50 138.94 L107.00 139.09 L108.50 139.25 L110.00 139.40 L111.50 139.61 L113.00 139.82 L114.50 140.03 L116.00 140.24 L117.50 140.45 L119.00 140.66 L120.50 140.87 L122.00 141.08 L123.50 141.29 L125.00 141.50 L126.50 141.89 L128.00 142.28 L129.50 142.67 L131.00 143.06 L132.50 143.45 L134.00 143.84 L135.50 144.23 L137.00 144.62 L138.50 145.01 L140.00 145.40 L141.50 145.88 L143.00 146.36 L144.50 146.84 L146.00 147.32 L147.50 147.80 L149.00 148.28 L150.50 148.76 L152.00 149.24 L153.50 149.72 L155.00 150.20 L156.50 150.68 L158.00 151.16 L159.50 151.64 L161.00 152.12 L162.50 152.60 L164.00 153.08 L165.50 153.56 L167.00 154.04 L168.50 154.52 L170.00 155.00 L171.50 155.59 L173.00 156.18 L174.50 156.77 L176.00 157.36 L177.50 157.95 L179.00 158.54 L180.50 159.13 L182.00 159.72 L183.50 160.31 L185.00 160.90 L186.50 161.49 L188.00 162.08 L189.50 162.67 L191.00 163.26 L192.50 163.85 L194.00 164.44 L195.50 165.03 L197.00 165.62 L198.50 166.21 L200.00 166.80 L201.50 167.43 L203.00 168.06 L204.50 168.69 L206.00 169.32 L207.50 169.95 L209.00 170.58 L210.50 171.21 L212.00 171.84 L213.50 172.47 L215.00 173.10 L216.50 173.73 L218.00 174.36 L219.50 174.99 L221.00 175.62 L222.50 176.25 L224.00 176.88 L225.50 177.46 L227.00 177.96 L228.50 178.45 L230.00 178.94 L231.50 179.43 L233.00 179.92 L234.50 180.41 L236.00 180.90 L237.50 181.40 L239.00 181.89 L240.50 182.38 L242.00 182.87 L243.50 183.36 L245.00 183.85 L246.50 184.35 L248.00 184.84 L249.50 185.33 L251.00 185.23 L252.50 185.74 L254.00 184.53 L255.50 186.02 L257.00 186.77 L258.50 186.80 L260.00 187.93 L261.50 186.97 L263.00 188.22 L264.50 189.77 L266.00 189.01 L267.50 188.93 L269.00 190.45 L270.50 189.71 L272.00 190.96 L273.50 190.09 L275.00 189.73 L276.50 190.53 L278.00 190.49 L279.50 190.01 L281.00 191.28 L282.50 191.96 L284.00 189.25 L285.50 192.88 L287.00 192.15 L288.50 193.60 L290.00 192.22 L291.50 193.38 L293.00 194.39 L294.50 191.29 L296.00 192.13 L297.50 194.91 L299.00 195.02 L300.50 194.90 L302.00 195.70 L303.50 195.39 L305.00 195.88 L306.50 195.89 L308.00 196.50 L309.50 196.59 L311.00 196.62 L312.50 197.85 L314.00 198.12 L315.50 197.57 L317.00 198.23 L318.50 198.61 L320.00 199.02 L321.50 199.01 L323.00 198.80 L324.50 199.48 L326.00 200.13 L327.50 199.68 L329.00 200.54 L330.50 200.50 L332.00 201.26 L333.50 201.44 L335.00 201.05 L336.50 200.90 L338.00 201.51 L339.50 201.07 L341.00 202.37 L342.50 200.60 L344.00 201.76 L345.50 201.41 L347.00 202.41 L348.50 202.65 L350.00 201.99 L351.50 202.11 L353.00 202.53 L354.50 203.65 L356.00 203.10 L357.50 202.20 L359.00 203.19 L360.50 202.82 L362.00 202.57 L363.50 203.62 L365.00 204.36 L366.50 201.24 L368.00 203.93 L369.50 204.80 L371.00 203.65 L372.50 203.60 L374.00 204.37 L375.50 203.63 L377.00 205.22 L378.50 204.27 L380.00 204.34 L381.50 205.01 L383.00 205.73 L384.50 205.11 L386.00 205.42 L387.50 205.28 L389.00 205.45 L390.50 205.39 L392.00 203.71 L393.50 205.49 L395.00 206.02 L396.50 206.07 L398.00 207.03 L399.50 206.75 L401.00 207.03 L402.50 207.19 L404.00 207.54 L405.50 207.24 L407.00 206.93 L408.50 205.07 L410.00 207.41 L411.50 208.01 L413.00 207.40 L414.50 207.60 L416.00 207.06 L417.50 207.37 L419.00 207.72 L420.50 207.03 L422.00 207.31 L423.50 207.70 L425.00 208.76 L426.50 207.15 L428.00 207.52 L429.50 207.49 L431.00 207.29 L432.50 207.32 L434.00 207.12 L435.50 207.87 L437.00 207.98 L438.50 207.42 L440.00 207.18 L441.50 207.28 L443.00 207.17 L444.50 207.83 L446.00 207.55 L447.50 208.30 L449.00 207.42 L450.50 208.03 L452.00 208.56 L453.50 208.07 L455.00 208.16 L456.50 207.78 L458.00 208.63 L459.50 208.25 L461.00 207.93 L462.50 207.88 L464.00 208.51 L465.50 208.13 L467.00 208.44 L468.50 209.27 L470.00 206.85 L471.50 208.15 L473.00 209.79 L474.50 205.76" stroke="#2a2aff" stroke-width="1.1" fill="none" stroke-dasharray="3.2 1.8" stroke-linejoin="round"/>
<path d="M63.50 134.60 L65.00 134.75 L66.50 134.91 L68.00 135.06 L69.50 135.22 L71.00 135.37 L72.50 135.53 L74.00 135.68 L75.50 135.84 L77.00 135.99 L78.50 136.15 L80.00 136.30 L81.50 136.46 L83.00 136.61 L84.50 136.77 L86.00 136.92 L87.50 137.08 L89.00 137.23 L90.50 137.39 L92.00 137.54 L93.50 137.70 L95.00 137.85 L96.50 138.01 L98.00 138.16 L99.50 138.32 L101.00 138.47 L102.50 138.63 L104.00 138.78 L105.50 138.94 L107.00 139.09 L108.50 139.25 L110.00 139.40 L111.50 139.86 L113.00 140.32 L114.50 140.78 L116.00 141.24 L117.50 141.70 L119.00 142.16 L120.50 142.62 L122.00 143.08 L123.50 143.54 L125.00 144.00 L126.50 144.63 L128.00 145.26 L129.50 145.89 L131.00 146.52 L132.50 147.15 L134.00 147.78 L135.50 148.41 L137.00 149.04 L138.50 149.67 L140.00 150.30 L141.50 150.95 L143.00 151.60 L144.50 152.25 L146.00 152.90 L147.50 153.55 L149.00 154.20 L150.50 154.85 L152.00 155.50 L153.50 156.15 L155.00 156.80 L156.50 157.45 L158.00 158.10 L159.50 158.75 L161.00 159.40 L162.50 160.05 L164.00 160.70 L165.50 161.35 L167.00 162.00 L168.50 162.65 L170.00 163.07 L171.50 164.35 L173.00 163.63 L174.50 164.86 L176.00 166.57 L177.50 166.45 L179.00 165.31 L180.50 168.16 L182.00 166.46 L183.50 167.00 L185.00 169.42 L186.50 169.69 L188.00 170.60 L189.50 171.26 L191.00 171.99 L192.50 173.15 L194.00 172.35 L195.50 173.15 L197.00 173.43 L198.50 173.55 L200.00 174.27 L201.50 175.63 L203.00 175.86 L204.50 177.40 L206.00 176.54 L207.50 176.30 L209.00 176.13 L210.50 178.60 L212.00 179.56 L213.50 179.00 L215.00 179.63 L216.50 178.94 L218.00 179.03 L219.50 179.83 L221.00 179.40 L222.50 181.34 L224.00 179.82 L225.50 179.64 L227.00 179.04 L228.50 183.45 L230.00 183.13 L231.50 183.44 L233.00 183.57 L234.50 184.78 L236.00 183.14 L237.50 184.90 L239.00 185.35 L240.50 184.66 L242.00 187.22 L243.50 184.36 L245.00 186.27 L246.50 187.17 L248.00 186.84 L249.50 187.26 L251.00 185.47 L252.50 186.94 L254.00 187.17 L255.50 187.40 L257.00 188.68 L258.50 186.55 L260.00 188.04 L261.50 188.65 L263.00 188.98 L264.50 188.69 L266.00 188.48 L267.50 188.49 L269.00 188.37 L270.50 188.68 L272.00 188.95 L273.50 189.12 L275.00 189.84 L276.50 189.83 L278.00 188.25 L279.50 188.69 L281.00 188.52 L282.50 187.45 L284.00 188.22 L285.50 186.35 L287.00 190.54 L288.50 188.54 L290.00 188.44 L291.50 189.54 L293.00 189.61 L294.50 189.00 L296.00 191.88 L297.50 190.29 L299.00 190.75 L300.50 190.48 L302.00 191.66 L303.50 191.82 L305.00 191.32 L306.50 190.34 L308.00 195.01 L309.50 192.87 L311.00 193.26 L312.50 193.89 L314.00 194.83 L315.50 192.55 L317.00 193.81 L318.50 193.46 L320.00 194.25 L321.50 192.61 L323.00 194.41 L324.50 193.55 L326.00 193.74 L327.50 195.15 L329.00 194.97 L330.50 195.38 L332.00 195.37 L333.50 194.95 L335.00 195.19 L336.50 195.17 L338.00 198.48 L339.50 196.54 L341.00 197.43 L342.50 196.38 L344.00 197.16 L345.50 197.89 L347.00 196.85 L348.50 197.31 L350.00 198.61 L351.50 197.54 L353.00 198.86 L354.50 197.65 L356.00 195.04 L357.50 198.14 L359.00 200.07 L360.50 198.59 L362.00 198.46 L363.50 197.60 L365.00 197.34 L366.50 198.38 L368.00 199.02 L369.50 199.83 L371.00 197.79 L372.50 198.71 L374.00 198.57 L375.50 198.78 L377.00 198.50 L378.50 199.99 L380.00 199.17 L381.50 198.09 L383.00 197.93 L384.50 199.24 L386.00 200.82 L387.50 200.89 L389.00 201.51 L390.50 200.99 L392.00 201.30 L393.50 201.76 L395.00 202.42 L396.50 199.19 L398.00 200.03 L399.50 201.57 L401.00 201.55 L402.50 201.95 L404.00 201.49 L405.50 199.73 L407.00 201.25 L408.50 201.57 L410.00 201.27 L411.50 201.64 L413.00 202.14 L414.50 199.04 L416.00 201.78 L417.50 202.37 L419.00 202.26 L420.50 201.39 L422.00 200.83 L423.50 201.55 L425.00 201.85 L426.50 201.39 L428.00 201.26 L429.50 201.18 L431.00 204.09 L432.50 203.24 L434.00 200.63 L435.50 201.96 L437.00 202.04 L438.50 202.65 L440.00 203.39 L441.50 203.07 L443.00 202.92 L444.50 202.10 L446.00 202.72 L447.50 200.33 L449.00 202.20 L450.50 202.54 L452.00 204.00 L453.50 203.69 L455.00 203.08 L456.50 201.82 L458.00 203.39 L459.50 202.44 L461.00 201.90 L462.50 201.78 L464.00 202.68 L465.50 202.66 L467.00 202.57 L468.50 202.67 L470.00 201.96 L471.50 201.64 L473.00 201.74 L474.50 202.35" stroke="#f5a040" stroke-width="0.95" fill="none" stroke-dasharray="3.2 1.8" stroke-linejoin="round"/>
<path d="M63.50 134.60 C79.00 136.20 94.50 136.76 110.00 139.40 C116.67 140.54 123.33 142.76 130.00 146.20 C133.33 147.92 136.67 151.88 140.00 155.00 C143.93 158.68 147.87 162.35 151.80 166.80 C155.73 171.25 159.67 176.47 163.60 182.20 C165.73 185.31 167.87 189.25 170.00 192.50 C172.67 196.56 175.33 200.37 178.00 204.00 C180.83 207.86 183.67 211.80 186.50 215.00 C189.33 218.20 192.17 221.29 195.00 223.50 C199.00 226.62 203.00 229.21 207.00 231.00 C211.00 232.79 215.00 234.36 219.00 235.20 C223.00 236.04 227.00 236.72 231.00 237.00 C239.00 237.56 247.00 237.96 255.00 238.00 C328.50 238.34 402.00 238.27 475.50 238.40" stroke="#ff2020" stroke-width="1.1" fill="none" stroke-dasharray="3.2 1.8" stroke-opacity="1" stroke-linecap="butt"/>
<path d="M34.3 134.8L46 134.7L48.5 134.3L49.8 132.3L51.2 134.2L53 134.6L63.5 134.8" stroke="#333" stroke-width="1.6" fill="none" stroke-linejoin="round"/>
<circle cx="34.80" cy="134.7" r="0.95" fill="#333"/>
<circle cx="36.80" cy="134.7" r="0.95" fill="#333"/>
<circle cx="38.80" cy="134.7" r="0.95" fill="#333"/>
<circle cx="40.80" cy="134.7" r="0.95" fill="#333"/>
<circle cx="42.80" cy="134.7" r="0.95" fill="#333"/>
<circle cx="44.80" cy="134.7" r="0.95" fill="#333"/>
<circle cx="46.80" cy="134.7" r="0.95" fill="#333"/>
<circle cx="48.80" cy="134.7" r="0.95" fill="#333"/>
<circle cx="50.80" cy="134.7" r="0.95" fill="#333"/>
<circle cx="52.80" cy="134.7" r="0.95" fill="#333"/>
<circle cx="54.80" cy="134.7" r="0.95" fill="#333"/>
<circle cx="56.80" cy="134.7" r="0.95" fill="#333"/>
<circle cx="58.80" cy="134.7" r="0.95" fill="#333"/>
<circle cx="60.80" cy="134.7" r="0.95" fill="#333"/>
<circle cx="62.80" cy="134.7" r="0.95" fill="#333"/>
<path d="M62.80 343.00 C63.30 342.51 63.80 342.01 64.30 341.52 C64.80 341.02 65.30 340.53 65.80 340.04 C66.30 339.54 66.80 339.05 67.30 338.56 C67.80 338.06 68.30 337.57 68.80 337.07 C69.30 336.58 69.80 336.09 70.30 335.59 C70.80 335.10 71.30 334.60 71.80 334.11 C72.30 333.62 72.80 333.12 73.30 332.63 C73.80 332.14 74.30 331.64 74.80 331.15 C75.30 330.65 75.80 330.16 76.30 329.67 C76.80 329.17 77.30 328.68 77.80 328.19 C78.30 327.69 78.80 327.20 79.30 326.71 C79.80 326.23 80.30 325.75 80.80 325.27 C81.30 324.79 81.80 324.31 82.30 323.83 C82.80 323.35 83.30 322.87 83.80 322.38 C84.30 321.90 84.80 321.42 85.30 320.94 C85.80 320.46 86.30 319.98 86.80 319.50 C87.30 319.02 87.80 318.54 88.30 318.06 C88.80 317.58 89.30 317.10 89.80 316.62 C90.30 316.13 90.80 315.65 91.30 315.17 C91.80 314.69 92.30 314.21 92.80 313.73 C93.30 313.25 93.80 312.77 94.30 312.29 C94.80 311.81 95.30 311.33 95.80 310.85 C96.30 310.37 96.80 309.88 97.30 309.40 C97.80 308.92 98.30 308.44 98.80 307.96 C99.30 307.48 99.80 307.00 100.30 306.52 C100.80 306.04 101.30 305.56 101.80 305.08 C102.30 304.60 102.80 304.12 103.30 303.63 C103.80 303.15 104.30 302.65 104.80 302.19 C105.30 301.73 105.80 301.31 106.30 300.88 C106.80 300.44 107.30 300.02 107.80 299.58 C108.30 299.15 108.80 298.72 109.30 298.29 C109.80 297.86 110.30 297.43 110.80 297.00 C111.30 296.56 111.80 296.13 112.30 295.70 C112.80 295.27 113.30 294.84 113.80 294.41 C114.30 293.98 114.80 293.55 115.30 293.11 C115.80 292.68 116.30 292.25 116.80 291.82 C117.30 291.39 117.80 290.96 118.30 290.53 C118.80 290.09 119.30 289.66 119.80 289.23 C120.30 288.80 120.80 288.37 121.30 287.94 C121.80 287.51 122.30 287.07 122.80 286.64 C123.30 286.21 123.80 285.78 124.30 285.35 C124.80 284.92 125.30 284.49 125.80 284.05 C126.30 283.62 126.80 283.19 127.30 282.76 C127.80 282.33 128.30 281.90 128.80 281.47 C129.30 281.04 129.80 280.61 130.30 280.17 C130.80 279.74 131.30 279.30 131.80 278.87 C132.30 278.43 132.80 277.99 133.30 277.56 C133.80 277.12 134.30 276.69 134.80 276.25 C135.30 275.82 135.80 275.38 136.30 274.94 C136.80 274.51 137.30 274.07 137.80 273.64 C138.30 273.20 138.80 272.76 139.30 272.33 C139.80 271.89 140.30 271.46 140.80 271.02 C141.30 270.58 141.80 270.15 142.30 269.71 C142.80 269.28 143.30 268.84 143.80 268.41 C144.30 267.97 144.80 267.53 145.30 267.10 C145.80 266.66 146.30 266.23 146.80 265.79 C147.30 265.35 147.80 264.92 148.30 264.48 C148.80 264.05 149.30 263.55 149.80 263.17 C150.30 262.80 150.80 262.51 151.30 262.19 C151.80 261.87 152.30 261.56 152.80 261.25 C153.30 260.94 153.80 260.62 154.30 260.31 C154.80 260.00 155.30 259.69 155.80 259.38 C156.30 259.06 156.80 258.75 157.30 258.44 C157.80 258.12 158.30 257.81 158.80 257.50 C159.30 257.19 159.80 256.88 160.30 256.56 C160.80 256.25 161.30 255.94 161.80 255.62 C162.30 255.31 162.80 255.00 163.30 254.69 C163.80 254.38 164.30 254.01 164.80 253.75 C165.30 253.49 165.80 253.06 166.30 253.06 C166.80 253.06 167.30 253.26 167.80 253.36 C168.30 253.46 168.80 253.56 169.30 253.66 C169.80 253.76 170.30 253.86 170.80 253.96 C171.30 254.06 171.80 254.16 172.30 254.26 C172.80 254.36 173.30 254.46 173.80 254.56 C174.30 254.66 174.80 254.76 175.30 254.86 C175.80 254.96 176.30 255.06 176.80 255.16 C177.30 255.26 177.80 255.36 178.30 255.46 C178.80 255.56 179.30 255.64 179.80 255.76 C180.30 255.88 180.80 256.00 181.30 256.22 C181.80 256.44 182.30 256.96 182.80 257.33 C183.30 257.69 183.80 258.06 184.30 258.43 C184.80 258.80 185.30 259.17 185.80 259.54 C186.30 259.91 186.80 260.27 187.30 260.64 C187.80 261.01 188.30 261.38 188.80 261.75 C189.30 262.12 189.80 262.48 190.30 262.85 C190.80 263.22 191.30 263.59 191.80 263.96 C192.30 264.33 192.80 264.69 193.30 265.06 C193.80 265.43 194.30 265.80 194.80 266.17 C195.30 266.54 195.80 266.91 196.30 267.27 C196.80 267.64 197.30 268.01 197.80 268.38 C198.30 268.75 198.80 269.04 199.30 269.48 C199.80 269.93 200.30 270.55 200.80 271.20 C201.30 271.85 201.80 272.70 202.30 273.45 C202.80 274.20 203.30 274.95 203.80 275.70 C204.30 276.45 204.80 277.20 205.30 277.95 C205.80 278.70 206.30 279.45 206.80 280.20 C207.30 280.95 207.80 281.70 208.30 282.45 C208.80 283.20 209.30 283.95 209.80 284.70 C210.30 285.45 210.80 286.17 211.30 286.95 C211.80 287.73 212.30 288.53 212.80 289.36 C213.30 290.19 213.80 291.06 214.30 291.91 C214.80 292.76 215.30 293.61 215.80 294.46 C216.30 295.31 216.80 296.16 217.30 297.01 C217.80 297.86 218.30 298.71 218.80 299.56 C219.30 300.41 219.80 301.26 220.30 302.11 C220.80 302.96 221.30 303.96 221.80 304.66 C222.30 305.36 222.80 305.87 223.30 306.44 C223.80 307.02 224.30 307.56 224.80 308.11 C225.30 308.67 225.80 309.22 226.30 309.78 C226.80 310.33 227.30 310.89 227.80 311.44 C228.30 312.00 228.80 312.56 229.30 313.11 C229.80 313.67 230.30 314.22 230.80 314.78 C231.30 315.33 231.80 315.89 232.30 316.44 C232.80 317.00 233.30 317.56 233.80 318.11 C234.30 318.67 234.80 319.22 235.30 319.78 C235.80 320.33 236.30 320.89 236.80 321.44 C237.30 322.00 237.80 322.56 238.30 323.11 C238.80 323.67 239.30 324.33 239.80 324.78 C240.30 325.22 240.80 325.53 241.30 325.89 C241.80 326.24 242.30 326.57 242.80 326.91 C243.30 327.25 243.80 327.59 244.30 327.93 C244.80 328.27 245.30 328.61 245.80 328.95 C246.30 329.30 246.80 329.64 247.30 329.98 C247.80 330.32 248.30 330.66 248.80 331.00 C249.30 331.34 249.80 331.68 250.30 332.02 C250.80 332.36 251.30 332.70 251.80 333.05 C252.30 333.39 252.80 333.73 253.30 334.07 C253.80 334.41 254.30 334.75 254.80 335.09 C255.30 335.43 255.80 335.77 256.30 336.11 C256.80 336.45 257.30 336.80 257.80 337.14 C258.30 337.48 258.80 337.82 259.30 338.16 C259.80 338.50 260.30 338.88 260.80 339.18 C261.30 339.49 261.80 339.97 262.30 340.01 C262.80 340.05 263.30 340.06 263.80 340.08 C264.30 340.10 264.80 340.12 265.30 340.14 C265.80 340.17 266.30 340.19 266.80 340.21 C267.30 340.23 267.80 340.25 268.30 340.27 C268.80 340.30 269.30 340.32 269.80 340.34 C270.30 340.36 270.80 340.38 271.30 340.40 C271.80 340.43 272.30 340.45 272.80 340.47 C273.30 340.49 273.80 340.51 274.30 340.53 C274.80 340.56 275.30 340.58 275.80 340.60 C276.30 340.62 276.80 340.64 277.30 340.67 C277.80 340.69 278.30 340.71 278.80 340.73 C279.30 340.75 279.80 340.77 280.30 340.80 C280.80 340.82 281.30 340.84 281.80 340.86 C282.30 340.88 282.80 340.90 283.30 340.93 C283.80 340.95 284.30 340.96 284.80 340.99 C285.30 341.02 285.80 341.16 286.30 341.17 C286.80 341.18 287.30 341.19 287.80 341.19 C288.30 341.19 288.80 340.47 289.30 340.47 C289.80 340.47 290.30 340.90 290.80 340.90 C291.30 340.90 291.80 338.05 292.30 338.05 C292.80 338.05 293.30 339.25 293.80 339.52 C294.30 339.79 294.80 340.09 295.30 340.09 C295.80 340.09 296.30 339.41 296.80 339.41 C297.30 339.41 297.80 340.46 298.30 340.46 C298.80 340.46 299.30 339.28 299.80 338.99 C300.30 338.70 300.80 338.39 301.30 338.38 C301.80 338.37 302.30 338.37 302.80 338.37 C303.30 338.37 303.80 339.35 304.30 339.35 C304.80 339.35 305.30 339.29 305.80 339.22 C306.30 339.15 306.80 338.65 307.30 338.48 C307.80 338.32 308.30 338.21 308.80 338.12 C309.30 338.03 309.80 337.89 310.30 337.89 C310.80 337.89 311.30 338.02 311.80 338.16 C312.30 338.30 312.80 339.25 313.30 339.25 C313.80 339.25 314.30 338.49 314.80 338.49 C315.30 338.49 315.80 338.52 316.30 338.57 C316.80 338.62 317.30 339.48 317.80 339.48 C318.30 339.48 318.80 338.54 319.30 338.23 C319.80 337.92 320.30 337.64 320.80 337.50 C321.30 337.36 321.80 337.20 322.30 337.20 C322.80 337.20 323.30 338.12 323.80 338.24 C324.30 338.37 324.80 338.47 325.30 338.47 C325.80 338.47 326.30 337.99 326.80 337.72 C327.30 337.45 327.80 336.81 328.30 336.81 C328.80 336.81 329.30 337.98 329.80 337.98 C330.30 337.98 330.80 337.83 331.30 337.67 C331.80 337.50 332.30 336.41 332.80 336.41 C333.30 336.41 333.80 336.94 334.30 337.14 C334.80 337.34 335.30 337.64 335.80 337.64 C336.30 337.64 336.80 337.22 337.30 337.22 C337.80 337.22 338.30 337.61 338.80 337.61 C339.30 337.61 339.80 337.17 340.30 337.17 C340.80 337.17 341.30 338.74 341.80 338.74 C342.30 338.74 342.80 337.70 343.30 337.70 C343.80 337.70 344.30 337.97 344.80 337.97 C345.30 337.97 345.80 337.89 346.30 337.81 C346.80 337.73 347.30 337.23 347.80 337.23 C348.30 337.23 348.80 338.69 349.30 338.69 C349.80 338.69 350.30 336.90 350.80 336.90 C351.30 336.90 351.80 338.28 352.30 338.28 C352.80 338.28 353.30 337.52 353.80 337.44 C354.30 337.37 354.80 337.31 355.30 337.31 C355.80 337.31 356.30 337.65 356.80 337.82 C357.30 337.99 357.80 338.35 358.30 338.35 C358.80 338.35 359.30 338.01 359.80 337.89 C360.30 337.76 360.80 337.67 361.30 337.59 C361.80 337.50 362.30 337.41 362.80 337.36 C363.30 337.31 363.80 337.23 364.30 337.23 C364.80 337.23 365.30 337.45 365.80 337.65 C366.30 337.84 366.80 338.65 367.30 338.65 C367.80 338.65 368.30 336.65 368.80 336.65 C369.30 336.65 369.80 337.15 370.30 337.48 C370.80 337.82 371.30 338.76 371.80 338.76 C372.30 338.76 372.80 337.98 373.30 337.84 C373.80 337.70 374.30 337.56 374.80 337.56 C375.30 337.56 375.80 338.00 376.30 338.00 C376.80 338.00 377.30 337.04 377.80 337.04 C378.30 337.04 378.80 337.75 379.30 337.75 C379.80 337.75 380.30 337.15 380.80 337.15 C381.30 337.15 381.80 337.51 382.30 337.51 C382.80 337.51 383.30 337.43 383.80 337.43 C384.30 337.43 384.80 338.16 385.30 338.16 C385.80 338.16 386.30 337.76 386.80 337.60 C387.30 337.44 387.80 337.17 388.30 337.17 C388.80 337.17 389.30 337.24 389.80 337.31 C390.30 337.37 390.80 337.72 391.30 337.72 C391.80 337.72 392.30 337.35 392.80 337.35 C393.30 337.35 393.80 338.04 394.30 338.04 C394.80 338.04 395.30 337.69 395.80 337.59 C396.30 337.48 396.80 337.39 397.30 337.35 C397.80 337.32 398.30 337.32 398.80 337.28 C399.30 337.25 399.80 337.15 400.30 337.15 C400.80 337.15 401.30 337.51 401.80 337.51 C402.30 337.51 402.80 336.93 403.30 336.93 C403.80 336.93 404.30 338.05 404.80 338.05 C405.30 338.05 405.80 337.51 406.30 337.25 C406.80 337.00 407.30 336.51 407.80 336.51 C408.30 336.51 408.80 338.06 409.30 338.06 C409.80 338.06 410.30 337.53 410.80 337.53 C411.30 337.53 411.80 337.74 412.30 337.86 C412.80 337.97 413.30 338.20 413.80 338.20 C414.30 338.20 414.80 337.44 415.30 337.44 C415.80 337.44 416.30 337.57 416.80 337.63 C417.30 337.70 417.80 337.84 418.30 337.84 C418.80 337.84 419.30 337.26 419.80 337.26 C420.30 337.26 420.80 337.72 421.30 337.72 C421.80 337.72 422.30 337.46 422.80 337.43 C423.30 337.40 423.80 337.41 424.30 337.37 C424.80 337.34 425.30 336.20 425.80 336.20 C426.30 336.20 426.80 336.67 427.30 336.87 C427.80 337.06 428.30 337.21 428.80 337.40 C429.30 337.58 429.80 337.96 430.30 337.96 C430.80 337.96 431.30 337.43 431.80 337.43 C432.30 337.43 432.80 337.66 433.30 337.66 C433.80 337.66 434.30 337.64 434.80 337.62 C435.30 337.61 435.80 337.59 436.30 337.53 C436.80 337.48 437.30 335.31 437.80 335.31 C438.30 335.31 438.80 336.58 439.30 336.94 C439.80 337.29 440.30 337.71 440.80 337.71 C441.30 337.71 441.80 337.52 442.30 337.52 C442.80 337.52 443.30 337.66 443.80 337.66 C444.30 337.66 444.80 337.40 445.30 337.24 C445.80 337.07 446.30 336.62 446.80 336.62 C447.30 336.62 447.80 337.34 448.30 337.54 C448.80 337.74 449.30 337.99 449.80 337.99 C450.30 337.99 450.80 337.80 451.30 337.71 C451.80 337.62 452.30 337.52 452.80 337.45 C453.30 337.38 453.80 337.38 454.30 337.28 C454.80 337.19 455.30 336.47 455.80 336.47 C456.30 336.47 456.80 337.54 457.30 337.54 C457.80 337.54 458.30 336.76 458.80 336.76 C459.30 336.76 459.80 337.35 460.30 337.35 C460.80 337.35 461.30 337.24 461.80 337.16 C462.30 337.08 462.80 336.80 463.30 336.80 C463.80 336.80 464.30 336.83 464.80 336.88 C465.30 336.94 465.80 337.93 466.30 337.93 C466.80 337.93 467.30 337.66 467.80 337.52 L468.50 361.00 C432.33 361.00 396.17 361.00 360.00 361.00 C340.00 361.00 320.00 360.41 300.00 359.00 C293.33 358.53 286.67 353.73 280.00 352.00 C270.00 349.41 260.00 349.03 250.00 346.00 C243.33 343.98 236.67 340.02 230.00 335.00 C224.00 330.49 218.00 322.08 212.00 314.00 C207.33 307.71 202.67 298.31 198.00 292.00 C192.33 284.34 186.67 274.91 181.00 272.00 C176.00 269.43 171.00 267.00 166.00 267.00 C161.33 267.00 156.67 269.66 152.00 272.00 C144.83 275.59 137.67 285.58 130.50 292.00 C122.00 299.62 113.50 307.89 105.00 314.00 C96.33 320.23 87.67 323.69 79.00 330.00 C73.60 333.93 68.20 339.33 62.80 344.00 Z" fill="#ff5050" fill-opacity="0.1" stroke="none"/>
<path d="M62.80 343.00 C68.20 337.67 73.60 331.84 79.00 327.00 C87.67 319.24 96.33 312.12 105.00 306.00 C113.50 300.00 122.00 294.58 130.50 290.00 C135.33 287.39 140.17 283.00 145.00 283.00 C150.00 283.00 155.00 283.91 160.00 285.00 C165.33 286.16 170.67 290.32 176.00 295.00 C180.67 299.09 185.33 309.29 190.00 315.00 C195.33 321.52 200.67 328.71 206.00 332.00 C214.00 336.93 222.00 341.28 230.00 342.00 C253.33 344.09 276.67 345.00 300.00 345.00 C356.17 345.00 412.33 345.00 468.50 345.00 L468.50 360.00 C412.33 360.00 356.17 360.00 300.00 360.00 C276.67 360.00 253.33 359.37 230.00 358.00 C222.00 357.53 214.00 355.10 206.00 352.00 C200.67 349.93 195.33 345.08 190.00 340.00 C185.33 335.55 180.67 327.61 176.00 322.00 C170.67 315.59 165.33 306.28 160.00 304.00 C155.00 301.86 150.00 300.00 145.00 300.00 C140.17 300.00 135.33 303.91 130.50 306.00 C122.00 309.67 113.50 313.49 105.00 317.60 C96.33 321.79 87.67 325.47 79.00 331.00 C73.60 334.45 68.20 339.67 62.80 344.00 Z" fill="#ff5050" fill-opacity="0.07" stroke="none"/>
<path d="M62.80 343.50 C63.30 342.96 63.80 342.42 64.30 341.88 C64.80 341.34 65.30 340.80 65.80 340.26 C66.30 339.72 66.80 339.18 67.30 338.64 C67.80 338.10 68.30 337.51 68.80 337.02 C69.30 336.53 69.80 336.20 70.30 335.66 C70.80 335.13 71.30 333.71 71.80 333.71 C72.30 333.71 72.80 333.95 73.30 333.95 C73.80 333.95 74.30 331.57 74.80 330.81 C75.30 330.05 75.80 329.56 76.30 329.02 C76.80 328.48 77.30 328.08 77.80 327.53 C78.30 326.97 78.80 325.94 79.30 325.63 C79.80 325.33 80.30 325.03 80.80 325.03 C81.30 325.03 81.80 325.18 82.30 325.18 C82.80 325.18 83.30 324.17 83.80 324.17 C84.30 324.17 84.80 324.32 85.30 324.32 C85.80 324.32 86.30 323.68 86.80 323.29 C87.30 322.90 87.80 322.11 88.30 321.97 C88.80 321.82 89.30 321.80 89.80 321.71 C90.30 321.63 90.80 321.59 91.30 321.45 C91.80 321.31 92.30 320.36 92.80 320.36 C93.30 320.36 93.80 320.86 94.30 320.86 C94.80 320.86 95.30 320.25 95.80 320.25 C96.30 320.25 96.80 320.39 97.30 320.39 C97.80 320.39 98.30 319.01 98.80 318.95 C99.30 318.88 99.80 318.84 100.30 318.84 C100.80 318.84 101.30 319.08 101.80 319.08 C102.30 319.08 102.80 319.04 103.30 318.98 C103.80 318.91 104.30 317.86 104.80 317.86 C105.30 317.86 105.80 319.01 106.30 319.01 C106.80 319.01 107.30 317.70 107.80 317.70 C108.30 317.70 108.80 318.46 109.30 318.46 C109.80 318.46 110.30 317.63 110.80 317.49 C111.30 317.36 111.80 317.36 112.30 317.24 C112.80 317.12 113.30 316.62 113.80 316.62 C114.30 316.62 114.80 316.82 115.30 317.02 C115.80 317.22 116.30 318.15 116.80 318.15 C117.30 318.15 117.80 316.38 118.30 316.38 C118.80 316.38 119.30 317.33 119.80 317.33 C120.30 317.33 120.80 317.19 121.30 317.03 C121.80 316.88 122.30 315.95 122.80 315.95 C123.30 315.95 123.80 316.55 124.30 316.55 C124.80 316.55 125.30 316.53 125.80 316.50 C126.30 316.47 126.80 315.59 127.30 315.43 C127.80 315.27 128.30 315.12 128.80 315.12 C129.30 315.12 129.80 315.80 130.30 315.80 C130.80 315.80 131.30 315.21 131.80 315.21 C132.30 315.21 132.80 315.95 133.30 315.95 C133.80 315.95 134.30 315.23 134.80 314.88 C135.30 314.53 135.80 313.86 136.30 313.86 C136.80 313.86 137.30 314.25 137.80 314.25 C138.30 314.25 138.80 313.47 139.30 313.47 C139.80 313.47 140.30 314.39 140.80 314.39 C141.30 314.39 141.80 314.37 142.30 314.34 C142.80 314.31 143.30 313.86 143.80 313.73 C144.30 313.61 144.80 313.47 145.30 313.47 C145.80 313.47 146.30 314.38 146.80 314.38 C147.30 314.38 147.80 313.69 148.30 313.69 C148.80 313.69 149.30 314.51 149.80 314.51 C150.30 314.51 150.80 313.34 151.30 313.34 C151.80 313.34 152.30 313.69 152.80 313.69 C153.30 313.69 153.80 313.59 154.30 313.53 C154.80 313.46 155.30 313.25 155.80 313.25 C156.30 313.25 156.80 315.20 157.30 315.20 C157.80 315.20 158.30 314.89 158.80 314.63 C159.30 314.37 159.80 313.40 160.30 313.40 C160.80 313.40 161.30 314.13 161.80 314.13 C162.30 314.13 162.80 312.75 163.30 312.75 C163.80 312.75 164.30 314.33 164.80 314.33 C165.30 314.33 165.80 314.28 166.30 314.22 C166.80 314.16 167.30 313.47 167.80 313.45 C168.30 313.44 168.80 313.43 169.30 313.43 C169.80 313.43 170.30 313.70 170.80 313.80 C171.30 313.89 171.80 314.03 172.30 314.03 C172.80 314.03 173.30 313.78 173.80 313.72 C174.30 313.65 174.80 313.58 175.30 313.58 C175.80 313.58 176.30 313.99 176.80 314.01 C177.30 314.03 177.80 314.02 178.30 314.04 C178.80 314.06 179.30 314.80 179.80 314.80 C180.30 314.80 180.80 314.55 181.30 314.55 C181.80 314.55 182.30 314.75 182.80 314.75 C183.30 314.75 183.80 313.87 184.30 313.87 C184.80 313.87 185.30 314.60 185.80 314.67 C186.30 314.73 186.80 314.76 187.30 314.78 C187.80 314.81 188.30 314.81 188.80 314.84 C189.30 314.87 189.80 315.15 190.30 315.17 C190.80 315.18 191.30 315.19 191.80 315.19 C192.30 315.19 192.80 314.67 193.30 314.67 C193.80 314.67 194.30 316.02 194.80 316.08 C195.30 316.15 195.80 316.19 196.30 316.19 C196.80 316.19 197.30 315.56 197.80 315.56 C198.30 315.56 198.80 316.28 199.30 316.28 C199.80 316.28 200.30 315.62 200.80 315.62 C201.30 315.62 201.80 315.63 202.30 315.65 C202.80 315.67 203.30 316.11 203.80 316.41 C204.30 316.71 204.80 317.53 205.30 317.53 C205.80 317.53 206.30 317.06 206.80 316.86 C207.30 316.66 207.80 316.31 208.30 316.31 C208.80 316.31 209.30 317.44 209.80 317.44 C210.30 317.44 210.80 317.22 211.30 317.22 C211.80 317.22 212.30 317.27 212.80 317.34 C213.30 317.41 213.80 318.10 214.30 318.10 C214.80 318.10 215.30 317.20 215.80 317.20 C216.30 317.20 216.80 317.30 217.30 317.38 C217.80 317.46 218.30 317.55 218.80 317.75 C219.30 317.96 219.80 319.29 220.30 319.29 C220.80 319.29 221.30 319.05 221.80 318.97 C222.30 318.90 222.80 318.80 223.30 318.80 C223.80 318.80 224.30 318.87 224.80 318.97 C225.30 319.06 225.80 319.65 226.30 319.87 C226.80 320.09 227.30 320.38 227.80 320.38 C228.30 320.38 228.80 319.54 229.30 319.54 C229.80 319.54 230.30 320.02 230.80 320.37 C231.30 320.73 231.80 321.88 232.30 321.88 C232.80 321.88 233.30 321.40 233.80 321.35 C234.30 321.30 234.80 321.26 235.30 321.26 C235.80 321.26 236.30 321.88 236.80 322.01 C237.30 322.15 237.80 322.16 238.30 322.29 C238.80 322.43 239.30 322.87 239.80 322.99 C240.30 323.11 240.80 323.22 241.30 323.22 C241.80 323.22 242.30 323.18 242.80 323.18 C243.30 323.18 243.80 323.57 244.30 323.78 C244.80 323.99 245.30 324.44 245.80 324.44 C246.30 324.44 246.80 324.28 247.30 324.28 C247.80 324.28 248.30 325.08 248.80 325.08 C249.30 325.08 249.80 324.96 250.30 324.96 C250.80 324.96 251.30 326.21 251.80 326.49 C252.30 326.77 252.80 327.06 253.30 327.06 C253.80 327.06 254.30 326.18 254.80 326.18 C255.30 326.18 255.80 327.46 256.30 327.49 C256.80 327.51 257.30 327.50 257.80 327.53 C258.30 327.55 258.80 327.81 259.30 327.89 C259.80 327.96 260.30 327.97 260.80 328.05 C261.30 328.14 261.80 328.42 262.30 328.63 C262.80 328.84 263.30 329.32 263.80 329.32 C264.30 329.32 264.80 328.44 265.30 328.44 C265.80 328.44 266.30 329.92 266.80 329.92 C267.30 329.92 267.80 329.62 268.30 329.55 C268.80 329.48 269.30 329.41 269.80 329.41 C270.30 329.41 270.80 330.01 271.30 330.26 C271.80 330.51 272.30 330.92 272.80 330.92 C273.30 330.92 273.80 330.84 274.30 330.84 C274.80 330.84 275.30 331.34 275.80 331.34 C276.30 331.34 276.80 331.31 277.30 331.31 C277.80 331.31 278.30 331.40 278.80 331.51 C279.30 331.62 279.80 332.61 280.30 332.61 C280.80 332.61 281.30 331.90 281.80 331.90 C282.30 331.90 282.80 333.21 283.30 333.21 C283.80 333.21 284.30 333.18 284.80 333.17 C285.30 333.16 285.80 333.14 286.30 333.14 C286.80 333.14 287.30 333.37 287.80 333.47 C288.30 333.57 288.80 333.63 289.30 333.74 C289.80 333.85 290.30 334.05 290.80 334.17 C291.30 334.29 291.80 334.37 292.30 334.46 C292.80 334.55 293.30 334.72 293.80 334.72 C294.30 334.72 294.80 334.08 295.30 334.08 C295.80 334.08 296.30 334.16 296.80 334.29 C297.30 334.41 297.80 335.87 298.30 335.87 C298.80 335.87 299.30 335.66 299.80 335.66 C300.30 335.66 300.80 335.79 301.30 335.88 C301.80 335.98 302.30 336.27 302.80 336.27 C303.30 336.27 303.80 335.95 304.30 335.95 C304.80 335.95 305.30 337.51 305.80 337.51 C306.30 337.51 306.80 336.88 307.30 336.88 C307.80 336.88 308.30 336.97 308.80 336.97 C309.30 336.97 309.80 336.68 310.30 336.68 C310.80 336.68 311.30 337.81 311.80 337.87 C312.30 337.92 312.80 337.91 313.30 337.96 C313.80 338.01 314.30 338.53 314.80 338.53 C315.30 338.53 315.80 338.47 316.30 338.40 C316.80 338.32 317.30 337.72 317.80 337.68 C318.30 337.65 318.80 337.62 319.30 337.62 C319.80 337.62 320.30 339.17 320.80 339.17 C321.30 339.17 321.80 338.28 322.30 338.28 C322.80 338.28 323.30 338.67 323.80 338.75 C324.30 338.83 324.80 338.82 325.30 338.90 C325.80 338.98 326.30 339.32 326.80 339.42 C327.30 339.51 327.80 339.62 328.30 339.62 C328.80 339.62 329.30 338.97 329.80 338.97 C330.30 338.97 330.80 339.35 331.30 339.35 C331.80 339.35 332.30 338.96 332.80 338.96 C333.30 338.96 333.80 340.32 334.30 340.32 C334.80 340.32 335.30 340.22 335.80 340.12 C336.30 340.02 336.80 339.51 337.30 339.51 C337.80 339.51 338.30 341.10 338.80 341.10 C339.30 341.10 339.80 340.86 340.30 340.74 C340.80 340.62 341.30 340.38 341.80 340.38 C342.30 340.38 342.80 340.82 343.30 340.87 C343.80 340.92 344.30 340.90 344.80 340.95 C345.30 341.00 345.80 341.38 346.30 341.49 C346.80 341.59 347.30 341.71 347.80 341.71 C348.30 341.71 348.80 341.48 349.30 341.48 C349.80 341.48 350.30 342.18 350.80 342.18 C351.30 342.18 351.80 340.79 352.30 340.79 C352.80 340.79 353.30 341.83 353.80 342.13 C354.30 342.43 354.80 342.67 355.30 342.82 C355.80 342.97 356.30 343.10 356.80 343.15 C357.30 343.20 357.80 343.25 358.30 343.25 C358.80 343.25 359.30 342.60 359.80 342.47 C360.30 342.33 360.80 342.19 361.30 342.19 C361.80 342.19 362.30 342.61 362.80 342.93 C363.30 343.25 363.80 344.33 364.30 344.33 C364.80 344.33 365.30 343.54 365.80 343.33 C366.30 343.11 366.80 343.00 367.30 342.85 C367.80 342.70 368.30 342.41 368.80 342.41 C369.30 342.41 369.80 343.39 370.30 343.39 C370.80 343.39 371.30 343.12 371.80 343.12 C372.30 343.12 372.80 343.65 373.30 343.65 C373.80 343.65 374.30 343.61 374.80 343.54 C375.30 343.46 375.80 342.27 376.30 342.27 C376.80 342.27 377.30 343.22 377.80 343.46 C378.30 343.69 378.80 343.97 379.30 343.97 C379.80 343.97 380.30 343.43 380.80 343.30 C381.30 343.17 381.80 343.03 382.30 343.03 C382.80 343.03 383.30 343.09 383.80 343.09 C384.30 343.09 384.80 343.04 385.30 343.04 C385.80 343.04 386.30 344.89 386.80 344.89 C387.30 344.89 387.80 344.71 388.30 344.53 C388.80 344.36 389.30 343.54 389.80 343.54 C390.30 343.54 390.80 344.60 391.30 344.60 C391.80 344.60 392.30 343.39 392.80 343.39 C393.30 343.39 393.80 343.69 394.30 343.69 C394.80 343.69 395.30 343.63 395.80 343.63 C396.30 343.63 396.80 343.83 397.30 343.96 C397.80 344.09 398.30 344.24 398.80 344.43 C399.30 344.63 399.80 345.18 400.30 345.18 C400.80 345.18 401.30 344.72 401.80 344.56 C402.30 344.40 402.80 344.16 403.30 344.16 C403.80 344.16 404.30 344.34 404.80 344.34 C405.30 344.34 405.80 344.19 406.30 344.19 C406.80 344.19 407.30 344.54 407.80 344.54 C408.30 344.54 408.80 343.94 409.30 343.94 C409.80 343.94 410.30 344.48 410.80 344.56 C411.30 344.64 411.80 344.64 412.30 344.70 C412.80 344.77 413.30 345.00 413.80 345.00 C414.30 345.00 414.80 344.13 415.30 344.13 C415.80 344.13 416.30 344.81 416.80 344.81 C417.30 344.81 417.80 344.80 418.30 344.78 C418.80 344.76 419.30 344.44 419.80 344.26 C420.30 344.08 420.80 343.70 421.30 343.70 C421.80 343.70 422.30 344.22 422.80 344.47 C423.30 344.73 423.80 345.25 424.30 345.25 C424.80 345.25 425.30 344.70 425.80 344.70 C426.30 344.70 426.80 346.05 427.30 346.05 C427.80 346.05 428.30 345.45 428.80 345.21 C429.30 344.97 429.80 344.59 430.30 344.59 C430.80 344.59 431.30 344.84 431.80 344.95 C432.30 345.07 432.80 345.25 433.30 345.28 C433.80 345.31 434.30 345.33 434.80 345.33 C435.30 345.33 435.80 345.01 436.30 345.01 C436.80 345.01 437.30 345.20 437.80 345.40 C438.30 345.61 438.80 346.73 439.30 346.73 C439.80 346.73 440.30 345.89 440.80 345.72 C441.30 345.55 441.80 345.48 442.30 345.38 C442.80 345.28 443.30 345.23 443.80 345.10 C444.30 344.96 444.80 344.47 445.30 344.47 C445.80 344.47 446.30 345.51 446.80 345.51 C447.30 345.51 447.80 345.25 448.30 345.25 C448.80 345.25 449.30 345.48 449.80 345.48 C450.30 345.48 450.80 345.26 451.30 345.26 C451.80 345.26 452.30 345.88 452.80 345.98 C453.30 346.08 453.80 346.18 454.30 346.18 C454.80 346.18 455.30 345.46 455.80 345.31 C456.30 345.16 456.80 345.01 457.30 345.01 C457.80 345.01 458.30 345.67 458.80 345.91 C459.30 346.15 459.80 346.50 460.30 346.50 C460.80 346.50 461.30 346.04 461.80 346.04 C462.30 346.04 462.80 346.12 463.30 346.12 C463.80 346.12 464.30 345.20 464.80 345.20 C465.30 345.20 465.80 345.50 466.30 345.68 C466.80 345.85 467.30 346.09 467.80 346.30 L468.50 358.00 C432.33 357.33 396.17 357.10 360.00 356.00 C340.00 355.39 320.00 353.62 300.00 352.00 C286.67 350.92 273.33 349.81 260.00 348.00 C250.00 346.65 240.00 344.00 230.00 342.00 C220.00 340.00 210.00 337.50 200.00 336.00 C190.00 334.50 180.00 333.36 170.00 332.40 C160.00 331.44 150.00 330.00 140.00 330.00 C126.67 330.00 113.33 330.39 100.00 331.00 C93.00 331.32 86.00 332.31 79.00 334.00 C73.60 335.30 68.20 341.00 62.80 344.50 Z" fill="#5050ff" fill-opacity="0.08" stroke="none"/>
<path d="M62.80 343.50 C68.20 338.67 73.60 331.39 79.00 329.00 C86.00 325.90 93.00 323.35 100.00 323.00 C113.33 322.33 126.67 322.00 140.00 322.00 C150.00 322.00 160.00 323.60 170.00 325.00 C180.00 326.40 190.00 329.51 200.00 332.00 C210.00 334.49 220.00 337.51 230.00 340.00 C240.00 342.49 250.00 345.57 260.00 347.00 C273.33 348.90 286.67 350.66 300.00 351.00 C356.17 352.42 412.33 352.33 468.50 353.00 L468.50 360.00 C412.33 359.33 356.17 359.35 300.00 358.00 C286.67 357.68 273.33 356.40 260.00 355.00 C250.00 353.95 240.00 351.94 230.00 350.00 C220.00 348.06 210.00 345.15 200.00 343.00 C190.00 340.85 180.00 338.33 170.00 337.00 C160.00 335.67 150.00 334.41 140.00 334.00 C126.67 333.45 113.33 333.00 100.00 333.00 C93.00 333.00 86.00 333.82 79.00 335.00 C73.60 335.91 68.20 341.33 62.80 344.50 Z" fill="#5050ff" fill-opacity="0.04" stroke="none"/>
<path d="M62.80 343.50 C65.40 339.87 68.00 334.53 70.60 332.60 C73.40 330.53 76.20 329.51 79.00 328.40 C81.40 327.44 83.80 326.98 86.20 326.00 C89.00 324.86 91.80 323.37 94.60 321.50 C98.07 319.18 101.53 315.07 105.00 312.00 C109.27 308.22 113.53 304.76 117.80 301.00 C122.03 297.27 126.27 293.43 130.50 289.50 C134.77 285.54 139.03 281.45 143.30 277.30 C146.30 274.38 149.30 270.49 152.30 268.40 C153.53 267.54 154.77 266.92 156.00 266.30 C157.73 265.43 159.47 264.53 161.20 264.00 C162.93 263.47 164.67 262.80 166.40 262.80 C168.53 262.80 170.67 263.06 172.80 263.40 C174.93 263.74 177.07 265.71 179.20 267.00 C181.30 268.27 183.40 269.35 185.50 271.10 C187.67 272.91 189.83 275.83 192.00 278.70 C194.10 281.48 196.20 285.23 198.30 288.30 C200.43 291.42 202.57 293.99 204.70 297.30 C207.13 301.08 209.57 306.51 212.00 310.00 C215.33 314.78 218.67 318.25 222.00 322.00 C224.67 325.00 227.33 328.21 230.00 330.50 C233.33 333.36 236.67 335.53 240.00 337.60 C243.33 339.67 246.67 341.85 250.00 343.10 C255.00 344.97 260.00 346.99 265.00 347.20 C276.67 347.69 288.33 347.44 300.00 347.90 C305.00 348.10 310.00 350.30 315.00 350.30 C319.67 350.30 324.33 348.90 329.00 348.90 C339.33 348.90 349.67 348.90 360.00 348.90 C396.17 348.90 432.33 348.97 468.50 349.00" stroke="#ff2020" stroke-width="0.9" fill="none" stroke-opacity="1" stroke-linecap="butt"/>
<path d="M62.80 343.50 C65.40 340.00 68.00 334.77 70.60 333.00 C73.40 331.09 76.20 330.22 79.00 329.20 C81.40 328.33 83.80 327.93 86.20 327.00 C89.00 325.92 91.80 324.37 94.60 322.50 C98.07 320.19 101.53 315.62 105.00 313.10 C109.27 310.00 113.53 307.85 117.80 305.40 C122.03 302.96 126.27 300.42 130.50 298.40 C132.67 297.37 134.83 296.41 137.00 295.60 C139.97 294.49 142.93 292.70 145.90 292.70 C149.27 292.70 152.63 293.20 156.00 294.00 C157.33 294.32 158.67 295.64 160.00 296.60 C162.57 298.45 165.13 300.47 167.70 303.00 C170.67 305.92 173.63 309.90 176.60 313.90 C178.30 316.19 180.00 319.08 181.70 321.40 C184.27 324.90 186.83 327.95 189.40 331.10 C191.57 333.76 193.73 336.97 195.90 338.90 C199.37 341.98 202.83 344.59 206.30 346.00 C209.73 347.40 213.17 348.43 216.60 349.00 C221.07 349.74 225.53 350.34 230.00 350.50 C238.33 350.80 246.67 351.00 255.00 351.00 C263.33 351.00 271.67 350.37 280.00 350.30 C286.67 350.24 293.33 350.20 300.00 350.20 C320.00 350.20 340.00 350.20 360.00 350.20 C396.17 350.20 432.33 350.07 468.50 350.00" stroke="#ff2020" stroke-width="0.9" fill="none" stroke-dasharray="1.6 1" stroke-opacity="1" stroke-linecap="butt"/>
<path d="M62.80 344.00 L64.30 342.27 L65.80 340.54 L67.30 338.81 L68.80 337.08 L70.30 335.52 L71.80 334.50 L73.30 333.95 L74.80 333.33 L76.30 332.90 L77.80 332.37 L79.30 330.93 L80.80 330.72 L82.30 330.36 L83.80 329.84 L85.30 329.40 L86.80 329.00 L88.30 328.01 L89.80 327.44 L91.30 327.20 L92.80 326.14 L94.30 325.95 L95.80 324.98 L97.30 325.51 L98.80 325.23 L100.30 325.38 L101.80 325.45 L103.30 324.59 L104.80 324.76 L106.30 324.68 L107.80 323.20 L109.30 323.77 L110.80 323.14 L112.30 322.67 L113.80 322.76 L115.30 323.09 L116.80 322.34 L118.30 321.83 L119.80 322.79 L121.30 322.35 L122.80 322.47 L124.30 322.10 L125.80 321.44 L127.30 321.94 L128.80 321.63 L130.30 321.38 L131.80 320.75 L133.30 321.38 L134.80 320.92 L136.30 321.02 L137.80 320.89 L139.30 320.77 L140.80 320.25 L142.30 320.73 L143.80 321.31 L145.30 321.01 L146.80 320.67 L148.30 320.78 L149.80 320.62 L151.30 320.36 L152.80 320.35 L154.30 320.40 L155.80 320.64 L157.30 319.71 L158.80 320.26 L160.30 320.25 L161.80 319.91 L163.30 320.38 L164.80 320.36 L166.30 320.69 L167.80 319.96 L169.30 320.22 L170.80 320.08 L172.30 320.21 L173.80 320.86 L175.30 320.62 L176.80 321.02 L178.30 321.35 L179.80 321.44 L181.30 321.73 L182.80 322.15 L184.30 321.55 L185.80 322.61 L187.30 322.46 L188.80 322.86 L190.30 322.73 L191.80 322.74 L193.30 322.62 L194.80 323.24 L196.30 323.44 L197.80 323.86 L199.30 323.56 L200.80 324.53 L202.30 324.66 L203.80 326.01 L205.30 325.69 L206.80 325.77 L208.30 326.10 L209.80 326.70 L211.30 327.28 L212.80 327.83 L214.30 327.64 L215.80 327.77 L217.30 328.06 L218.80 329.11 L220.30 328.53 L221.80 329.74 L223.30 330.54 L224.80 330.28 L226.30 330.95 L227.80 330.58 L229.30 329.71 L230.80 331.34 L232.30 331.57 L233.80 332.03 L235.30 331.36 L236.80 332.67 L238.30 332.53 L239.80 333.31 L241.30 333.85 L242.80 333.42 L244.30 334.83 L245.80 334.95 L247.30 335.17 L248.80 335.07 L250.30 336.04 L251.80 334.90 L253.30 335.66 L254.80 336.33 L256.30 336.93 L257.80 336.36 L259.30 336.32 L260.80 336.91 L262.30 336.74 L263.80 337.21 L265.30 337.61 L266.80 338.19 L268.30 337.98 L269.80 338.61 L271.30 338.54 L272.80 338.64 L274.30 339.10 L275.80 340.13 L277.30 340.07 L278.80 340.21 L280.30 339.91 L281.80 340.27 L283.30 340.01 L284.80 340.47 L286.30 340.63 L287.80 340.95 L289.30 341.37 L290.80 340.93 L292.30 341.35 L293.80 341.19 L295.30 341.39 L296.80 341.87 L298.30 341.60 L299.80 342.20 L301.30 343.13 L302.80 341.95 L304.30 342.71 L305.80 342.89 L307.30 342.55 L308.80 343.20 L310.30 343.29 L311.80 343.73 L313.30 344.06 L314.80 343.75 L316.30 344.28 L317.80 344.02 L319.30 344.54 L320.80 344.80 L322.30 344.63 L323.80 344.39 L325.30 345.49 L326.80 344.79 L328.30 345.24 L329.80 345.34 L331.30 345.93 L332.80 345.16 L334.30 346.23 L335.80 346.18 L337.30 345.95 L338.80 346.87 L340.30 345.73 L341.80 346.47 L343.30 347.29 L344.80 346.60 L346.30 346.71 L347.80 347.18 L349.30 347.35 L350.80 347.02 L352.30 347.45 L353.80 346.64 L355.30 347.92 L356.80 347.42 L358.30 347.64 L359.80 347.71 L361.30 347.63 L362.80 348.08 L364.30 348.00 L365.80 348.47 L367.30 349.27 L368.80 348.24 L370.30 348.34 L371.80 348.98 L373.30 349.20 L374.80 349.03 L376.30 349.41 L377.80 349.03 L379.30 348.80 L380.80 349.09 L382.30 348.41 L383.80 349.40 L385.30 350.52 L386.80 349.68 L388.30 349.84 L389.80 350.39 L391.30 349.71 L392.80 350.56 L394.30 350.08 L395.80 349.27 L397.30 350.39 L398.80 350.20 L400.30 350.46 L401.80 351.11 L403.30 351.36 L404.80 350.98 L406.30 351.39 L407.80 351.22 L409.30 351.15 L410.80 351.31 L412.30 351.62 L413.80 351.87 L415.30 351.71 L416.80 352.30 L418.30 352.07 L419.80 351.82 L421.30 352.08 L422.80 352.29 L424.30 352.60 L425.80 352.66 L427.30 352.83 L428.80 352.55 L430.30 353.39 L431.80 351.95 L433.30 352.14 L434.80 353.67 L436.30 353.40 L437.80 353.83 L439.30 352.90 L440.80 353.53 L442.30 354.21 L443.80 352.67 L445.30 353.75 L446.80 353.88 L448.30 353.24 L449.80 353.41 L451.30 353.75 L452.80 353.84 L454.30 354.09 L455.80 353.49 L457.30 353.82 L458.80 354.34 L460.30 354.64 L461.80 353.79 L463.30 354.16 L464.80 353.98 L466.30 353.79 L467.80 354.99" stroke="#2a2aff" stroke-width="0.9" fill="none" stroke-linejoin="round"/>
<path d="M62.80 344.00 L64.30 342.37 L65.80 340.73 L67.30 339.10 L68.80 337.46 L70.30 336.01 L71.80 335.07 L73.30 333.83 L74.80 333.66 L76.30 333.19 L77.80 332.02 L79.30 331.70 L80.80 331.23 L82.30 331.23 L83.80 330.30 L85.30 329.98 L86.80 329.22 L88.30 328.87 L89.80 327.74 L91.30 327.90 L92.80 327.14 L94.30 327.02 L95.80 326.61 L97.30 326.17 L98.80 326.19 L100.30 326.22 L101.80 326.29 L103.30 326.17 L104.80 325.66 L106.30 325.65 L107.80 325.05 L109.30 325.60 L110.80 325.19 L112.30 324.31 L113.80 324.82 L115.30 324.24 L116.80 323.67 L118.30 324.46 L119.80 323.71 L121.30 324.06 L122.80 324.32 L124.30 324.25 L125.80 323.77 L127.30 323.97 L128.80 323.55 L130.30 324.49 L131.80 324.00 L133.30 323.82 L134.80 324.87 L136.30 324.39 L137.80 324.31 L139.30 324.60 L140.80 324.52 L142.30 324.52 L143.80 324.21 L145.30 323.57 L146.80 325.30 L148.30 325.69 L149.80 325.24 L151.30 325.42 L152.80 325.25 L154.30 326.51 L155.80 325.62 L157.30 324.67 L158.80 326.37 L160.30 326.19 L161.80 326.52 L163.30 325.99 L164.80 327.01 L166.30 327.60 L167.80 327.65 L169.30 327.87 L170.80 328.10 L172.30 328.45 L173.80 329.13 L175.30 329.64 L176.80 330.51 L178.30 330.50 L179.80 330.61 L181.30 331.40 L182.80 331.65 L184.30 331.39 L185.80 332.30 L187.30 332.61 L188.80 333.25 L190.30 333.30 L191.80 334.01 L193.30 334.82 L194.80 334.57 L196.30 334.80 L197.80 335.36 L199.30 335.41 L200.80 336.21 L202.30 336.94 L203.80 337.00 L205.30 337.84 L206.80 337.92 L208.30 338.21 L209.80 338.78 L211.30 338.82 L212.80 339.29 L214.30 339.86 L215.80 340.78 L217.30 341.51 L218.80 341.41 L220.30 342.17 L221.80 341.78 L223.30 342.60 L224.80 343.25 L226.30 343.70 L227.80 343.56 L229.30 343.67 L230.80 344.50 L232.30 345.46 L233.80 345.52 L235.30 345.39 L236.80 345.47 L238.30 346.05 L239.80 346.23 L241.30 346.21 L242.80 347.08 L244.30 347.21 L245.80 347.31 L247.30 347.19 L248.80 348.15 L250.30 348.53 L251.80 348.36 L253.30 348.26 L254.80 348.99 L256.30 348.76 L257.80 348.81 L259.30 349.56 L260.80 349.61 L262.30 349.67 L263.80 349.73 L265.30 349.72 L266.80 349.85 L268.30 349.53 L269.80 349.80 L271.30 349.82 L272.80 349.74 L274.30 350.04 L275.80 350.28 L277.30 350.03 L278.80 350.19 L280.30 349.63 L281.80 350.52 L283.30 350.84 L284.80 350.90 L286.30 350.45 L287.80 350.32 L289.30 351.45 L290.80 350.59 L292.30 351.42 L293.80 350.76 L295.30 351.83 L296.80 351.99 L298.30 351.78 L299.80 352.08 L301.30 352.17 L302.80 352.15 L304.30 352.56 L305.80 352.44 L307.30 352.59 L308.80 352.75 L310.30 352.90 L311.80 353.09 L313.30 353.20 L314.80 353.39 L316.30 352.46 L317.80 353.62 L319.30 354.04 L320.80 353.57 L322.30 353.96 L323.80 354.27 L325.30 354.24 L326.80 354.66 L328.30 354.28 L329.80 354.37 L331.30 353.88 L332.80 354.08 L334.30 354.15 L335.80 355.08 L337.30 354.25 L338.80 354.44 L340.30 353.93 L341.80 354.54 L343.30 354.36 L344.80 354.72 L346.30 354.71 L347.80 355.32 L349.30 354.82 L350.80 355.13 L352.30 355.82 L353.80 355.43 L355.30 355.47 L356.80 355.73 L358.30 355.73 L359.80 355.75 L361.30 355.53 L362.80 355.66 L364.30 355.70 L365.80 355.38 L367.30 355.99 L368.80 356.22 L370.30 355.94 L371.80 355.58 L373.30 355.94 L374.80 355.59 L376.30 355.97 L377.80 356.57 L379.30 356.30 L380.80 356.11 L382.30 356.43 L383.80 355.86 L385.30 355.18 L386.80 356.61 L388.30 356.99 L389.80 356.01 L391.30 356.25 L392.80 356.78 L394.30 356.50 L395.80 356.22 L397.30 356.46 L398.80 356.43 L400.30 356.51 L401.80 356.88 L403.30 356.99 L404.80 356.87 L406.30 357.09 L407.80 356.63 L409.30 357.41 L410.80 356.76 L412.30 356.68 L413.80 356.84 L415.30 356.38 L416.80 357.02 L418.30 357.26 L419.80 356.67 L421.30 356.71 L422.80 356.88 L424.30 357.19 L425.80 357.11 L427.30 356.83 L428.80 357.26 L430.30 357.15 L431.80 357.13 L433.30 357.13 L434.80 356.69 L436.30 356.66 L437.80 357.21 L439.30 356.82 L440.80 357.11 L442.30 356.51 L443.80 356.73 L445.30 357.31 L446.80 356.65 L448.30 357.13 L449.80 356.70 L451.30 356.84 L452.80 357.44 L454.30 356.91 L455.80 357.16 L457.30 357.01 L458.80 356.49 L460.30 357.63 L461.80 357.31 L463.30 357.35 L464.80 356.03 L466.30 357.19 L467.80 357.34" stroke="#2a2aff" stroke-width="0.9" fill="none" stroke-dasharray="1.6 1" stroke-linejoin="round"/>
<path d="M40.20 352.40 L45.00 351.50 L49.80 350.30 L53.40 350.60 L57.00 348.80 L61.80 345.80 L62.70 344.60" stroke="#333" stroke-width="1.0" fill="none" stroke-linejoin="round"/>
<circle cx="40.2" cy="352.4" r="0.85" fill="#333"/>
<circle cx="42.5" cy="352" r="0.85" fill="#333"/>
<circle cx="45" cy="351.5" r="0.85" fill="#333"/>
<circle cx="47.4" cy="350.8" r="0.85" fill="#333"/>
<circle cx="49.8" cy="350.3" r="0.85" fill="#333"/>
<circle cx="51.6" cy="350.5" r="0.85" fill="#333"/>
<circle cx="53.4" cy="350.6" r="0.85" fill="#333"/>
<circle cx="55.2" cy="349.6" r="0.85" fill="#333"/>
<circle cx="57" cy="348.8" r="0.85" fill="#333"/>
<circle cx="59.4" cy="347.3" r="0.85" fill="#333"/>
<circle cx="61.8" cy="345.8" r="0.85" fill="#333"/>
<path d="M155.8 267.2H178.6" stroke="#9a9a9a" stroke-width="1.3"/>
<circle cx="155.8" cy="267.2" r="1.1" fill="#111"/><circle cx="178.6" cy="267.2" r="1.1" fill="#111"/>
<path d="M166.6 261V267.2M165.1 261H168.1" stroke="#ff2020" stroke-width="0.6" fill="none"/>
<rect x="160.6" y="268.8" width="19.80" height="8.40" rx="1.5" fill="#fff" fill-opacity="0.9" stroke="#f5c0c0" stroke-width="0.6"/>
<text x="170.50" y="274.90" text-anchor="middle" font-size="7.6" fill="#222">2090</text>
<path d="M137.2 295H156.4" stroke="#9a9a9a" stroke-width="1.3"/>
<circle cx="137.2" cy="295" r="1.1" fill="#111"/><circle cx="156.4" cy="295" r="1.1" fill="#111"/>
<path d="M145.6 290.2V295M144.1 290.2H147.1" stroke="#ff2020" stroke-width="0.6" fill="none"/>
<rect x="140.2" y="299.4" width="19.60" height="8.40" rx="1.5" fill="#fff" fill-opacity="0.9" stroke="#f5c0c0" stroke-width="0.6"/>
<text x="150.00" y="305.50" text-anchor="middle" font-size="7.6" fill="#222">2076</text>
<path d="M93.4 326.8H146" stroke="#9a9a9a" stroke-width="1.3"/>
<circle cx="93.4" cy="326.8" r="1.1" fill="#111"/><circle cx="146" cy="326.8" r="1.1" fill="#111"/>
<path d="M120.4 321.4V326.8M118.9 321.4H121.9" stroke="#2a2aff" stroke-width="0.6" fill="none"/>
<rect x="115" y="331.4" width="20.40" height="8.60" rx="1.5" fill="#fff" fill-opacity="0.9" stroke="#c8c8f5" stroke-width="0.6"/>
<text x="125.20" y="337.70" text-anchor="middle" font-size="7.6" fill="#222">2059</text>
<path d="M113.8 322.8H192.6" stroke="#9a9a9a" stroke-width="1.3"/>
<circle cx="113.8" cy="322.8" r="1.1" fill="#111"/><circle cx="192.6" cy="322.8" r="1.1" fill="#111"/>
<path d="M153 318.6V322.8M151.5 318.6H154.5" stroke="#2a2aff" stroke-width="0.6" fill="none"/>
<rect x="147" y="325.2" width="20.40" height="9.60" rx="1.5" fill="#fff" fill-opacity="0.9" stroke="#c8c8f5" stroke-width="0.6"/>
<text x="157.20" y="332.50" text-anchor="middle" font-size="7.6" fill="#222">2081</text>
<path d="M33.50 471.00 C34.00 470.86 34.50 470.72 35.00 470.57 C35.50 470.43 36.00 470.29 36.50 470.15 C37.00 470.01 37.50 469.87 38.00 469.72 C38.50 469.58 39.00 469.44 39.50 469.30 C40.00 469.16 40.50 469.02 41.00 468.87 C41.50 468.73 42.00 468.59 42.50 468.45 C43.00 468.31 43.50 468.17 44.00 468.02 C44.50 467.88 45.00 467.74 45.50 467.60 C46.00 467.46 46.50 467.32 47.00 467.17 C47.50 467.03 48.00 466.89 48.50 466.75 C49.00 466.61 49.50 466.47 50.00 466.32 C50.50 466.18 51.00 466.04 51.50 465.90 C52.00 465.76 52.50 465.62 53.00 465.47 C53.50 465.33 54.00 465.19 54.50 465.05 C55.00 464.91 55.50 464.77 56.00 464.62 C56.50 464.48 57.00 464.34 57.50 464.20 C58.00 464.06 58.50 463.91 59.00 463.77 C59.50 463.63 60.00 463.49 60.50 463.35 C61.00 463.21 61.50 463.06 62.00 462.92 C62.50 462.78 63.00 462.64 63.50 462.50 C64.00 462.36 64.50 462.21 65.00 462.07 C65.50 461.93 66.00 461.79 66.50 461.65 C67.00 461.51 67.50 461.36 68.00 461.22 C68.50 461.08 69.00 460.94 69.50 460.80 C70.00 460.66 70.50 460.51 71.00 460.37 C71.50 460.23 72.00 460.09 72.50 459.95 C73.00 459.81 73.50 459.66 74.00 459.52 C74.50 459.38 75.00 459.24 75.50 459.10 C76.00 458.96 76.50 458.81 77.00 458.67 C77.50 458.53 78.00 458.39 78.50 458.25 C79.00 458.11 79.50 457.96 80.00 457.82 C80.50 457.68 81.00 457.54 81.50 457.40 C82.00 457.26 82.50 457.11 83.00 456.97 C83.50 456.83 84.00 456.69 84.50 456.55 C85.00 456.40 85.50 456.26 86.00 456.12 C86.50 455.98 87.00 455.84 87.50 455.70 C88.00 455.55 88.50 455.41 89.00 455.27 C89.50 455.13 90.00 454.99 90.50 454.85 C91.00 454.70 91.50 454.56 92.00 454.42 C92.50 454.28 93.00 454.14 93.50 454.00 C94.00 453.85 94.50 453.71 95.00 453.57 C95.50 453.43 96.00 453.29 96.50 453.15 C97.00 453.00 97.50 452.86 98.00 452.72 C98.50 452.58 99.00 452.44 99.50 452.30 C100.00 452.15 100.50 452.01 101.00 451.87 C101.50 451.73 102.00 451.59 102.50 451.45 C103.00 451.30 103.50 451.16 104.00 451.02 C104.50 450.88 105.00 450.74 105.50 450.60 C106.00 450.45 106.50 450.35 107.00 450.17 C107.50 449.99 108.00 449.68 108.50 449.38 C109.00 449.08 109.50 448.69 110.00 448.34 C110.50 448.00 111.00 447.66 111.50 447.31 C112.00 446.97 112.50 446.62 113.00 446.28 C113.50 445.93 114.00 445.59 114.50 445.24 C115.00 444.90 115.50 444.55 116.00 444.21 C116.50 443.86 117.00 443.52 117.50 443.17 C118.00 442.83 118.50 442.54 119.00 442.14 C119.50 441.74 120.00 440.90 120.50 440.73 C121.00 440.56 121.50 440.60 122.00 440.41 C122.50 440.23 123.00 438.40 123.50 438.09 C124.00 437.77 124.50 437.66 125.00 437.50 C125.50 437.34 126.00 437.31 126.50 437.09 C127.00 436.88 127.50 435.49 128.00 435.49 C128.50 435.49 129.00 436.00 129.50 436.00 C130.00 436.00 130.50 434.30 131.00 434.16 C131.50 434.02 132.00 434.06 132.50 433.93 C133.00 433.80 133.50 433.16 134.00 432.78 C134.50 432.41 135.00 431.67 135.50 431.67 C136.00 431.67 136.50 432.05 137.00 432.05 C137.50 432.05 138.00 431.04 138.50 431.04 C139.00 431.04 139.50 431.10 140.00 431.10 C140.50 431.10 141.00 429.67 141.50 429.38 C142.00 429.08 142.50 428.78 143.00 428.78 C143.50 428.78 144.00 428.88 144.50 428.88 C145.00 428.88 145.50 428.42 146.00 428.17 C146.50 427.93 147.00 427.58 147.50 427.40 C148.00 427.23 148.50 427.13 149.00 427.02 C149.50 426.91 150.00 426.73 150.50 426.73 C151.00 426.73 151.50 426.77 152.00 426.77 C152.50 426.77 153.00 426.02 153.50 425.53 C154.00 425.03 154.50 423.67 155.00 423.67 C155.50 423.67 156.00 423.81 156.50 423.96 C157.00 424.11 157.50 424.89 158.00 424.89 C158.50 424.89 159.00 422.75 159.50 422.75 C160.00 422.75 160.50 423.34 161.00 423.34 C161.50 423.34 162.00 421.55 162.50 421.55 C163.00 421.55 163.50 423.00 164.00 423.00 C164.50 423.00 165.00 422.59 165.50 422.35 C166.00 422.12 166.50 421.56 167.00 421.56 C167.50 421.56 168.00 422.23 168.50 422.23 C169.00 422.23 169.50 420.77 170.00 420.34 C170.50 419.91 171.00 419.37 171.50 419.37 C172.00 419.37 172.50 420.77 173.00 420.77 C173.50 420.77 174.00 418.60 174.50 418.60 C175.00 418.60 175.50 419.64 176.00 419.64 C176.50 419.64 177.00 417.01 177.50 417.01 C178.00 417.01 178.50 418.87 179.00 418.87 C179.50 418.87 180.00 417.94 180.50 417.63 C181.00 417.32 181.50 416.88 182.00 416.88 C182.50 416.88 183.00 417.56 183.50 417.56 C184.00 417.56 184.50 416.30 185.00 416.19 C185.50 416.08 186.00 416.11 186.50 416.00 C187.00 415.88 187.50 413.94 188.00 413.94 C188.50 413.94 189.00 415.02 189.50 415.02 C190.00 415.02 190.50 414.48 191.00 414.48 C191.50 414.48 192.00 414.60 192.50 414.60 C193.00 414.60 193.50 414.32 194.00 414.32 C194.50 414.32 195.00 415.13 195.50 415.13 C196.00 415.13 196.50 414.87 197.00 414.54 C197.50 414.22 198.00 411.67 198.50 411.67 C199.00 411.67 199.50 411.73 200.00 411.73 C200.50 411.73 201.00 411.68 201.50 411.61 C202.00 411.54 202.50 411.17 203.00 410.91 C203.50 410.66 204.00 410.28 204.50 410.06 C205.00 409.83 205.50 409.49 206.00 409.49 C206.50 409.49 207.00 409.50 207.50 409.50 C208.00 409.50 208.50 407.99 209.00 407.99 C209.50 407.99 210.00 408.19 210.50 408.19 C211.00 408.19 211.50 407.90 212.00 407.90 C212.50 407.90 213.00 408.30 213.50 408.30 C214.00 408.30 214.50 407.40 215.00 407.00 C215.50 406.60 216.00 406.03 216.50 405.86 C217.00 405.70 217.50 405.61 218.00 405.55 C218.50 405.49 219.00 405.48 219.50 405.43 C220.00 405.37 220.50 405.20 221.00 405.16 C221.50 405.11 222.00 405.06 222.50 405.06 C223.00 405.06 223.50 405.36 224.00 405.36 C224.50 405.36 225.00 404.44 225.50 404.39 C226.00 404.35 226.50 404.32 227.00 404.32 C227.50 404.32 228.00 404.35 228.50 404.35 C229.00 404.35 229.50 402.87 230.00 402.18 C230.50 401.50 231.00 400.21 231.50 400.21 C232.00 400.21 232.50 400.47 233.00 400.66 C233.50 400.85 234.00 401.47 234.50 401.47 C235.00 401.47 235.50 400.22 236.00 400.22 C236.50 400.22 237.00 400.67 237.50 400.67 C238.00 400.67 238.50 399.50 239.00 399.50 C239.50 399.50 240.00 400.01 240.50 400.01 C241.00 400.01 241.50 397.93 242.00 397.93 C242.50 397.93 243.00 398.45 243.50 398.45 C244.00 398.45 244.50 398.30 245.00 398.15 C245.50 398.01 246.00 397.26 246.50 397.26 C247.00 397.26 247.50 397.50 248.00 397.50 C248.50 397.50 249.00 396.81 249.50 396.50 C250.00 396.19 250.50 395.65 251.00 395.65 C251.50 395.65 252.00 396.16 252.50 396.16 C253.00 396.16 253.50 396.08 254.00 396.01 C254.50 395.94 255.00 395.85 255.50 395.65 C256.00 395.44 256.50 393.50 257.00 393.50 C257.50 393.50 258.00 394.95 258.50 394.95 C259.00 394.95 259.50 394.43 260.00 394.43 C260.50 394.43 261.00 394.63 261.50 394.63 C262.00 394.63 262.50 393.35 263.00 393.17 C263.50 392.99 264.00 393.00 264.50 392.84 C265.00 392.69 265.50 392.07 266.00 392.07 C266.50 392.07 267.00 392.22 267.50 392.22 C268.00 392.22 268.50 391.20 269.00 391.20 C269.50 391.20 270.00 391.45 270.50 391.45 C271.00 391.45 271.50 390.19 272.00 390.19 C272.50 390.19 273.00 390.53 273.50 390.53 C274.00 390.53 274.50 389.48 275.00 389.48 C275.50 389.48 276.00 390.24 276.50 390.24 C277.00 390.24 277.50 388.31 278.00 388.31 C278.50 388.31 279.00 389.18 279.50 389.18 C280.00 389.18 280.50 388.33 281.00 388.10 C281.50 387.86 282.00 387.57 282.50 387.57 C283.00 387.57 283.50 387.75 284.00 387.75 C284.50 387.75 285.00 385.55 285.50 385.55 C286.00 385.55 286.50 386.30 287.00 386.30 C287.50 386.30 288.00 386.03 288.50 385.82 C289.00 385.62 289.50 384.96 290.00 384.96 C290.50 384.96 291.00 385.77 291.50 385.77 C292.00 385.77 292.50 384.88 293.00 384.63 C293.50 384.37 294.00 384.07 294.50 384.06 C295.00 384.04 295.50 384.05 296.00 384.04 C296.50 384.02 297.00 383.68 297.50 383.68 C298.00 383.68 298.50 384.65 299.00 384.65 C299.50 384.65 300.00 384.45 300.50 384.17 C301.00 383.89 301.50 381.28 302.00 380.67 C302.50 380.07 303.00 379.44 303.50 379.44 C304.00 379.44 304.50 381.22 305.00 381.55 C305.50 381.88 306.00 382.19 306.50 382.19 C307.00 382.19 307.50 380.97 308.00 380.89 C308.50 380.81 309.00 380.82 309.50 380.75 C310.00 380.69 310.50 380.51 311.00 380.36 C311.50 380.22 312.00 379.89 312.50 379.89 C313.00 379.89 313.50 380.17 314.00 380.17 C314.50 380.17 315.00 377.87 315.50 377.87 C316.00 377.87 316.50 378.17 317.00 378.45 C317.50 378.73 318.00 379.96 318.50 379.96 C319.00 379.96 319.50 378.37 320.00 378.37 C320.50 378.37 321.00 379.45 321.50 379.45 C322.00 379.45 322.50 378.93 323.00 378.56 C323.50 378.18 324.00 377.42 324.50 377.01 C325.00 376.59 325.50 375.96 326.00 375.96 C326.50 375.96 327.00 376.83 327.50 376.83 C328.00 376.83 328.50 376.56 329.00 376.35 C329.50 376.14 330.00 375.75 330.50 375.43 C331.00 375.10 331.50 374.40 332.00 374.40 C332.50 374.40 333.00 375.24 333.50 375.24 C334.00 375.24 334.50 374.92 335.00 374.92 C335.50 374.92 336.00 375.36 336.50 375.36 C337.00 375.36 337.50 374.17 338.00 373.80 C338.50 373.42 339.00 372.91 339.50 372.91 C340.00 372.91 340.50 375.23 341.00 375.23 C341.50 375.23 342.00 373.07 342.50 373.07 C343.00 373.07 343.50 373.49 344.00 373.74 C344.50 373.99 345.00 374.29 345.50 374.60 C346.00 374.90 346.50 375.58 347.00 375.58 C347.50 375.58 348.00 373.36 348.50 373.36 C349.00 373.36 349.50 373.58 350.00 373.61 C350.50 373.65 351.00 373.68 351.50 373.68 C352.00 373.68 352.50 373.23 353.00 373.23 C353.50 373.23 354.00 373.72 354.50 373.72 C355.00 373.72 355.50 372.14 356.00 372.14 C356.50 372.14 357.00 373.69 357.50 373.69 C358.00 373.69 358.50 371.71 359.00 371.71 C359.50 371.71 360.00 373.96 360.50 373.96 C361.00 373.96 361.50 373.73 362.00 373.56 C362.50 373.39 363.00 372.95 363.50 372.88 C364.00 372.81 364.50 372.76 365.00 372.76 C365.50 372.76 366.00 373.37 366.50 373.37 C367.00 373.37 367.50 372.88 368.00 372.88 C368.50 372.88 369.00 372.99 369.50 372.99 C370.00 372.99 370.50 372.55 371.00 372.55 C371.50 372.55 372.00 372.84 372.50 372.99 C373.00 373.15 373.50 373.49 374.00 373.49 C374.50 373.49 375.00 372.44 375.50 372.44 C376.00 372.44 376.50 373.33 377.00 373.33 C377.50 373.33 378.00 372.10 378.50 372.10 C379.00 372.10 379.50 373.78 380.00 373.78 C380.50 373.78 381.00 372.45 381.50 372.45 C382.00 372.45 382.50 372.90 383.00 373.19 C383.50 373.48 384.00 374.22 384.50 374.22 C385.00 374.22 385.50 372.57 386.00 372.57 C386.50 372.57 387.00 372.70 387.50 372.81 C388.00 372.91 388.50 373.28 389.00 373.28 C389.50 373.28 390.00 373.04 390.50 373.04 C391.00 373.04 391.50 373.59 392.00 373.63 C392.50 373.67 393.00 373.69 393.50 373.69 C394.00 373.69 394.50 372.82 395.00 372.49 C395.50 372.17 396.00 371.67 396.50 371.67 C397.00 371.67 397.50 371.92 398.00 372.13 C398.50 372.33 399.00 372.90 399.50 373.04 C400.00 373.18 400.50 373.32 401.00 373.32 C401.50 373.32 402.00 372.74 402.50 372.74 C403.00 372.74 403.50 374.26 404.00 374.26 C404.50 374.26 405.00 371.88 405.50 371.88 C406.00 371.88 406.50 373.73 407.00 373.73 C407.50 373.73 408.00 373.01 408.50 372.65 C409.00 372.29 409.50 371.56 410.00 371.56 C410.50 371.56 411.00 371.65 411.50 371.78 C412.00 371.91 412.50 373.54 413.00 373.54 C413.50 373.54 414.00 373.49 414.50 373.42 C415.00 373.35 415.50 372.64 416.00 372.64 C416.50 372.64 417.00 373.36 417.50 373.36 C418.00 373.36 418.50 372.48 419.00 372.39 C419.50 372.30 420.00 372.24 420.50 372.24 C421.00 372.24 421.50 372.80 422.00 372.80 C422.50 372.80 423.00 372.71 423.50 372.64 C424.00 372.57 424.50 372.33 425.00 372.33 C425.50 372.33 426.00 372.81 426.50 373.06 C427.00 373.30 427.50 373.80 428.00 373.80 C428.50 373.80 429.00 373.14 429.50 373.14 C430.00 373.14 430.50 373.18 431.00 373.18 C431.50 373.18 432.00 371.12 432.50 371.12 C433.00 371.12 433.50 371.93 434.00 372.17 C434.50 372.41 435.00 372.51 435.50 372.72 C436.00 372.93 436.50 373.45 437.00 373.45 C437.50 373.45 438.00 372.39 438.50 372.39 C439.00 372.39 439.50 373.38 440.00 373.39 C440.50 373.40 441.00 373.41 441.50 373.41 C442.00 373.41 442.50 370.27 443.00 370.27 C443.50 370.27 444.00 372.84 444.50 372.84 C445.00 372.84 445.50 372.02 446.00 372.02 C446.50 372.02 447.00 372.15 447.50 372.31 C448.00 372.47 448.50 373.42 449.00 373.53 C449.50 373.63 450.00 373.67 450.50 373.70 C451.00 373.74 451.50 373.77 452.00 373.77 C452.50 373.77 453.00 373.44 453.50 373.44 C454.00 373.44 454.50 374.01 455.00 374.01 C455.50 374.01 456.00 373.24 456.50 373.04 C457.00 372.83 457.50 372.78 458.00 372.59 C458.50 372.40 459.00 372.05 459.50 371.78 L460.50 410.00 C440.33 410.33 420.17 410.67 400.00 411.00 C380.00 411.33 360.00 411.38 340.00 412.00 C326.67 412.41 313.33 415.06 300.00 417.00 C286.67 418.94 273.33 421.52 260.00 424.00 C240.00 427.72 220.00 431.69 200.00 436.00 C180.00 440.31 160.00 445.19 140.00 450.00 C129.20 452.60 118.40 455.49 107.60 458.00 C82.90 463.74 58.20 468.67 33.50 474.00 Z" fill="#ff5050" fill-opacity="0.09" stroke="none"/>
<path d="M33.50 444.00 C34.00 443.97 34.50 443.95 35.00 443.92 C35.50 443.89 36.00 443.87 36.50 443.84 C37.00 443.81 37.50 443.78 38.00 443.76 C38.50 443.73 39.00 443.70 39.50 443.68 C40.00 443.65 40.50 443.62 41.00 443.60 C41.50 443.57 42.00 443.54 42.50 443.51 C43.00 443.49 43.50 443.46 44.00 443.43 C44.50 443.41 45.00 443.38 45.50 443.35 C46.00 443.33 46.50 443.30 47.00 443.27 C47.50 443.24 48.00 443.22 48.50 443.19 C49.00 443.16 49.50 443.14 50.00 443.11 C50.50 443.08 51.00 443.06 51.50 443.03 C52.00 443.00 52.50 442.97 53.00 442.95 C53.50 442.92 54.00 442.89 54.50 442.87 C55.00 442.84 55.50 442.81 56.00 442.79 C56.50 442.76 57.00 442.73 57.50 442.70 C58.00 442.68 58.50 442.65 59.00 442.62 C59.50 442.60 60.00 442.57 60.50 442.54 C61.00 442.52 61.50 442.49 62.00 442.46 C62.50 442.43 63.00 442.41 63.50 442.38 C64.00 442.35 64.50 442.33 65.00 442.30 C65.50 442.27 66.00 442.25 66.50 442.22 C67.00 442.19 67.50 442.16 68.00 442.14 C68.50 442.11 69.00 442.08 69.50 442.06 C70.00 442.03 70.50 442.00 71.00 441.98 C71.50 441.95 72.00 441.92 72.50 441.89 C73.00 441.87 73.50 441.84 74.00 441.81 C74.50 441.79 75.00 441.76 75.50 441.73 C76.00 441.71 76.50 441.68 77.00 441.65 C77.50 441.62 78.00 441.60 78.50 441.57 C79.00 441.54 79.50 441.52 80.00 441.49 C80.50 441.46 81.00 441.44 81.50 441.41 C82.00 441.38 82.50 441.35 83.00 441.33 C83.50 441.30 84.00 441.27 84.50 441.25 C85.00 441.22 85.50 441.19 86.00 441.17 C86.50 441.14 87.00 441.11 87.50 441.09 C88.00 441.06 88.50 441.03 89.00 441.00 C89.50 440.98 90.00 440.95 90.50 440.92 C91.00 440.90 91.50 440.87 92.00 440.84 C92.50 440.82 93.00 440.79 93.50 440.76 C94.00 440.73 94.50 440.71 95.00 440.68 C95.50 440.65 96.00 440.63 96.50 440.60 C97.00 440.57 97.50 440.55 98.00 440.52 C98.50 440.49 99.00 440.46 99.50 440.44 C100.00 440.41 100.50 440.38 101.00 440.36 C101.50 440.33 102.00 440.30 102.50 440.28 C103.00 440.25 103.50 440.22 104.00 440.19 C104.50 440.17 105.00 440.14 105.50 440.11 C106.00 440.09 106.50 440.07 107.00 440.03 C107.50 440.00 108.00 439.93 108.50 439.86 C109.00 439.80 109.50 439.71 110.00 439.63 C110.50 439.55 111.00 439.48 111.50 439.40 C112.00 439.32 112.50 439.24 113.00 439.17 C113.50 439.09 114.00 439.01 114.50 438.94 C115.00 438.86 115.50 438.78 116.00 438.70 C116.50 438.63 117.00 438.55 117.50 438.47 C118.00 438.40 118.50 438.33 119.00 438.24 C119.50 438.15 120.00 438.02 120.50 437.92 C121.00 437.83 121.50 437.75 122.00 437.67 C122.50 437.60 123.00 437.58 123.50 437.47 C124.00 437.36 124.50 436.42 125.00 436.42 C125.50 436.42 126.00 436.95 126.50 436.95 C127.00 436.95 127.50 436.92 128.00 436.92 C128.50 436.92 129.00 437.01 129.50 437.01 C130.00 437.01 130.50 436.53 131.00 436.46 C131.50 436.38 132.00 436.40 132.50 436.31 C133.00 436.21 133.50 434.91 134.00 434.91 C134.50 434.91 135.00 435.52 135.50 435.52 C136.00 435.52 136.50 434.94 137.00 434.94 C137.50 434.94 138.00 435.05 138.50 435.09 C139.00 435.14 139.50 435.23 140.00 435.23 C140.50 435.23 141.00 433.90 141.50 433.86 C142.00 433.82 142.50 433.79 143.00 433.79 C143.50 433.79 144.00 434.75 144.50 434.75 C145.00 434.75 145.50 434.13 146.00 433.80 C146.50 433.47 147.00 432.86 147.50 432.75 C148.00 432.63 148.50 432.54 149.00 432.54 C149.50 432.54 150.00 433.49 150.50 433.49 C151.00 433.49 151.50 433.07 152.00 432.92 C152.50 432.77 153.00 432.57 153.50 432.55 C154.00 432.54 154.50 432.54 155.00 432.53 C155.50 432.51 156.00 431.59 156.50 431.59 C157.00 431.59 157.50 432.08 158.00 432.13 C158.50 432.19 159.00 432.22 159.50 432.22 C160.00 432.22 160.50 430.81 161.00 430.81 C161.50 430.81 162.00 430.83 162.50 430.83 C163.00 430.83 163.50 430.40 164.00 430.24 C164.50 430.08 165.00 429.97 165.50 429.84 C166.00 429.71 166.50 429.64 167.00 429.46 C167.50 429.28 168.00 428.53 168.50 428.53 C169.00 428.53 169.50 428.90 170.00 429.07 C170.50 429.25 171.00 429.37 171.50 429.57 C172.00 429.78 172.50 430.34 173.00 430.34 C173.50 430.34 174.00 428.58 174.50 428.34 C175.00 428.10 175.50 427.90 176.00 427.90 C176.50 427.90 177.00 428.02 177.50 428.08 C178.00 428.15 178.50 428.30 179.00 428.30 C179.50 428.30 180.00 426.47 180.50 426.47 C181.00 426.47 181.50 426.55 182.00 426.65 C182.50 426.75 183.00 427.74 183.50 427.74 C184.00 427.74 184.50 426.74 185.00 426.74 C185.50 426.74 186.00 427.13 186.50 427.13 C187.00 427.13 187.50 426.84 188.00 426.74 C188.50 426.63 189.00 426.59 189.50 426.47 C190.00 426.34 190.50 426.13 191.00 425.88 C191.50 425.63 192.00 424.83 192.50 424.83 C193.00 424.83 193.50 424.88 194.00 424.88 C194.50 424.88 195.00 424.36 195.50 424.36 C196.00 424.36 196.50 424.44 197.00 424.44 C197.50 424.44 198.00 423.67 198.50 423.67 C199.00 423.67 199.50 424.26 200.00 424.26 C200.50 424.26 201.00 423.54 201.50 423.54 C202.00 423.54 202.50 423.90 203.00 423.90 C203.50 423.90 204.00 423.45 204.50 423.15 C205.00 422.85 205.50 422.03 206.00 422.03 C206.50 422.03 207.00 422.58 207.50 422.58 C208.00 422.58 208.50 422.52 209.00 422.43 C209.50 422.34 210.00 421.72 210.50 421.18 C211.00 420.64 211.50 418.87 212.00 418.87 C212.50 418.87 213.00 421.22 213.50 421.22 C214.00 421.22 214.50 419.22 215.00 419.22 C215.50 419.22 216.00 420.65 216.50 420.65 C217.00 420.65 217.50 418.19 218.00 418.19 C218.50 418.19 219.00 419.72 219.50 419.72 C220.00 419.72 220.50 419.21 221.00 418.83 C221.50 418.45 222.00 417.25 222.50 417.25 C223.00 417.25 223.50 417.72 224.00 417.72 C224.50 417.72 225.00 416.83 225.50 416.83 C226.00 416.83 226.50 416.99 227.00 416.99 C227.50 416.99 228.00 416.59 228.50 416.56 C229.00 416.52 229.50 416.53 230.00 416.49 C230.50 416.45 231.00 414.93 231.50 414.93 C232.00 414.93 232.50 415.47 233.00 415.47 C233.50 415.47 234.00 414.38 234.50 414.38 C235.00 414.38 235.50 415.08 236.00 415.08 C236.50 415.08 237.00 414.92 237.50 414.76 C238.00 414.61 238.50 414.20 239.00 413.97 C239.50 413.73 240.00 413.57 240.50 413.35 C241.00 413.12 241.50 412.71 242.00 412.62 C242.50 412.54 243.00 412.52 243.50 412.47 C244.00 412.42 244.50 412.41 245.00 412.31 C245.50 412.21 246.00 410.56 246.50 410.56 C247.00 410.56 247.50 411.38 248.00 411.38 C248.50 411.38 249.00 411.36 249.50 411.32 C250.00 411.29 250.50 410.99 251.00 410.76 C251.50 410.54 252.00 410.22 252.50 409.88 C253.00 409.55 253.50 408.71 254.00 408.71 C254.50 408.71 255.00 408.73 255.50 408.75 C256.00 408.78 256.50 409.11 257.00 409.11 C257.50 409.11 258.00 408.66 258.50 408.64 C259.00 408.62 259.50 408.63 260.00 408.61 C260.50 408.59 261.00 407.70 261.50 407.70 C262.00 407.70 262.50 408.76 263.00 408.76 C263.50 408.76 264.00 407.02 264.50 406.92 C265.00 406.81 265.50 406.74 266.00 406.74 C266.50 406.74 267.00 407.84 267.50 407.84 C268.00 407.84 268.50 406.18 269.00 405.93 C269.50 405.69 270.00 405.49 270.50 405.49 C271.00 405.49 271.50 405.64 272.00 405.64 C272.50 405.64 273.00 404.04 273.50 404.04 C274.00 404.04 274.50 406.20 275.00 406.20 C275.50 406.20 276.00 404.10 276.50 404.10 C277.00 404.10 277.50 404.58 278.00 404.58 C278.50 404.58 279.00 403.20 279.50 403.20 C280.00 403.20 280.50 403.34 281.00 403.47 C281.50 403.61 282.00 404.27 282.50 404.27 C283.00 404.27 283.50 403.05 284.00 403.05 C284.50 403.05 285.00 403.64 285.50 403.64 C286.00 403.64 286.50 402.88 287.00 402.88 C287.50 402.88 288.00 403.08 288.50 403.14 C289.00 403.20 289.50 403.28 290.00 403.28 C290.50 403.28 291.00 401.00 291.50 400.96 C292.00 400.92 292.50 400.89 293.00 400.89 C293.50 400.89 294.00 401.45 294.50 401.45 C295.00 401.45 295.50 400.78 296.00 400.51 C296.50 400.24 297.00 399.81 297.50 399.81 C298.00 399.81 298.50 400.59 299.00 400.59 C299.50 400.59 300.00 400.19 300.50 400.19 C301.00 400.19 301.50 400.61 302.00 400.61 C302.50 400.61 303.00 399.45 303.50 399.24 C304.00 399.02 304.50 398.80 305.00 398.80 C305.50 398.80 306.00 399.62 306.50 399.62 C307.00 399.62 307.50 399.17 308.00 399.09 C308.50 399.02 309.00 399.02 309.50 398.95 C310.00 398.88 310.50 398.53 311.00 398.53 C311.50 398.53 312.00 399.03 312.50 399.03 C313.00 399.03 313.50 397.06 314.00 397.06 C314.50 397.06 315.00 398.14 315.50 398.14 C316.00 398.14 316.50 396.64 317.00 396.64 C317.50 396.64 318.00 397.18 318.50 397.18 C319.00 397.18 319.50 397.07 320.00 396.94 C320.50 396.81 321.00 396.30 321.50 396.04 C322.00 395.78 322.50 395.34 323.00 395.34 C323.50 395.34 324.00 396.92 324.50 396.92 C325.00 396.92 325.50 396.73 326.00 396.57 C326.50 396.41 327.00 396.01 327.50 395.79 C328.00 395.58 328.50 395.50 329.00 395.25 C329.50 395.01 330.00 394.13 330.50 394.13 C331.00 394.13 331.50 395.29 332.00 395.29 C332.50 395.29 333.00 392.78 333.50 392.78 C334.00 392.78 334.50 394.97 335.00 394.97 C335.50 394.97 336.00 394.45 336.50 394.45 C337.00 394.45 337.50 395.28 338.00 395.28 C338.50 395.28 339.00 394.47 339.50 394.31 C340.00 394.15 340.50 394.16 341.00 394.00 C341.50 393.83 342.00 392.87 342.50 392.87 C343.00 392.87 343.50 393.38 344.00 393.61 C344.50 393.84 345.00 394.27 345.50 394.27 C346.00 394.27 346.50 394.25 347.00 394.25 C347.50 394.25 348.00 394.68 348.50 394.68 C349.00 394.68 349.50 392.85 350.00 392.85 C350.50 392.85 351.00 394.64 351.50 394.64 C352.00 394.64 352.50 394.53 353.00 394.41 C353.50 394.29 354.00 393.51 354.50 393.51 C355.00 393.50 355.50 393.49 356.00 393.49 C356.50 393.49 357.00 394.79 357.50 394.79 C358.00 394.79 358.50 391.78 359.00 391.78 C359.50 391.78 360.00 392.49 360.50 392.97 C361.00 393.46 361.50 394.84 362.00 394.84 C362.50 394.84 363.00 394.05 363.50 393.78 C364.00 393.52 364.50 393.14 365.00 393.14 C365.50 393.14 366.00 394.38 366.50 394.38 C367.00 394.38 367.50 392.68 368.00 392.68 C368.50 392.68 369.00 392.87 369.50 393.01 C370.00 393.15 370.50 393.50 371.00 393.61 C371.50 393.72 372.00 393.85 372.50 393.85 C373.00 393.85 373.50 393.49 374.00 393.49 C374.50 393.49 375.00 393.88 375.50 393.88 C376.00 393.88 376.50 393.28 377.00 393.28 C377.50 393.28 378.00 394.10 378.50 394.10 C379.00 394.10 379.50 393.25 380.00 393.25 C380.50 393.25 381.00 393.68 381.50 393.68 C382.00 393.68 382.50 393.21 383.00 393.21 C383.50 393.21 384.00 393.76 384.50 393.76 C385.00 393.76 385.50 393.71 386.00 393.64 C386.50 393.57 387.00 392.64 387.50 392.64 C388.00 392.64 388.50 392.74 389.00 392.74 C389.50 392.74 390.00 391.20 390.50 391.20 C391.00 391.20 391.50 394.08 392.00 394.08 C392.50 394.08 393.00 393.24 393.50 392.92 C394.00 392.60 394.50 392.11 395.00 392.11 C395.50 392.11 396.00 393.86 396.50 393.86 C397.00 393.86 397.50 393.41 398.00 393.41 C398.50 393.41 399.00 393.56 399.50 393.56 C400.00 393.56 400.50 392.20 401.00 392.20 C401.50 392.20 402.00 392.32 402.50 392.45 C403.00 392.57 403.50 393.27 404.00 393.27 C404.50 393.27 405.00 391.66 405.50 391.66 C406.00 391.66 406.50 393.57 407.00 393.57 C407.50 393.57 408.00 392.87 408.50 392.48 C409.00 392.09 409.50 391.21 410.00 391.21 C410.50 391.21 411.00 391.78 411.50 392.10 C412.00 392.41 412.50 393.12 413.00 393.12 C413.50 393.12 414.00 392.37 414.50 392.37 C415.00 392.37 415.50 392.88 416.00 392.88 C416.50 392.88 417.00 392.85 417.50 392.82 C418.00 392.78 418.50 392.36 419.00 392.34 C419.50 392.31 420.00 392.31 420.50 392.30 C421.00 392.28 421.50 392.23 422.00 392.23 C422.50 392.23 423.00 392.41 423.50 392.41 C424.00 392.41 424.50 390.96 425.00 390.96 C425.50 390.96 426.00 391.19 426.50 391.41 C427.00 391.63 427.50 392.72 428.00 392.72 C428.50 392.72 429.00 392.27 429.50 392.24 C430.00 392.22 430.50 392.23 431.00 392.20 C431.50 392.17 432.00 390.74 432.50 390.74 C433.00 390.74 433.50 393.31 434.00 393.31 C434.50 393.31 435.00 392.97 435.50 392.91 C436.00 392.84 436.50 392.85 437.00 392.78 C437.50 392.71 438.00 392.17 438.50 392.17 C439.00 392.17 439.50 392.32 440.00 392.32 C440.50 392.32 441.00 391.28 441.50 391.28 C442.00 391.28 442.50 392.58 443.00 392.58 C443.50 392.58 444.00 391.05 444.50 391.05 C445.00 391.05 445.50 391.26 446.00 391.41 C446.50 391.57 447.00 392.08 447.50 392.08 C448.00 392.08 448.50 391.49 449.00 391.49 C449.50 391.49 450.00 392.96 450.50 392.96 C451.00 392.96 451.50 391.54 452.00 391.54 C452.50 391.54 453.00 391.90 453.50 392.13 C454.00 392.36 454.50 392.95 455.00 392.95 C455.50 392.95 456.00 391.75 456.50 391.73 C457.00 391.71 457.50 391.70 458.00 391.70 C458.50 391.70 459.00 391.86 459.50 391.94 L460.50 455.00 C440.33 455.00 420.17 455.00 400.00 455.00 C380.00 455.00 360.00 455.00 340.00 455.00 C313.33 455.00 286.67 454.50 260.00 454.00 C240.00 453.63 220.00 453.00 200.00 452.00 C180.00 451.00 160.00 446.90 140.00 446.00 C129.20 445.52 118.40 445.00 107.60 445.00 C82.90 445.00 58.20 446.33 33.50 447.00 Z" fill="#ff5050" fill-opacity="0.07" stroke="none"/>
<path d="M33.50 441.60 C34.00 441.43 34.50 441.09 35.00 441.09 C35.50 441.09 36.00 441.15 36.50 441.15 C37.00 441.16 37.50 441.17 38.00 441.17 C38.50 441.17 39.00 440.58 39.50 440.42 C40.00 440.26 40.50 440.07 41.00 440.07 C41.50 440.07 42.00 440.12 42.50 440.19 C43.00 440.25 43.50 440.61 44.00 440.71 C44.50 440.82 45.00 440.94 45.50 440.94 C46.00 440.94 46.50 440.68 47.00 440.50 C47.50 440.33 48.00 439.85 48.50 439.85 C49.00 439.85 49.50 440.89 50.00 440.89 C50.50 440.89 51.00 439.63 51.50 439.63 C52.00 439.63 52.50 440.02 53.00 440.02 C53.50 440.02 54.00 439.92 54.50 439.92 C55.00 439.92 55.50 440.10 56.00 440.19 C56.50 440.28 57.00 440.47 57.50 440.47 C58.00 440.47 58.50 439.37 59.00 439.37 C59.50 439.37 60.00 439.69 60.50 439.78 C61.00 439.87 61.50 439.97 62.00 439.97 C62.50 439.97 63.00 439.32 63.50 439.32 C64.00 439.32 64.50 439.66 65.00 439.69 C65.50 439.72 66.00 439.74 66.50 439.74 C67.00 439.74 67.50 439.10 68.00 439.07 C68.50 439.04 69.00 439.02 69.50 439.02 C70.00 439.02 70.50 439.46 71.00 439.46 C71.50 439.46 72.00 439.33 72.50 439.33 C73.00 439.33 73.50 439.38 74.00 439.45 C74.50 439.52 75.00 440.18 75.50 440.18 C76.00 440.18 76.50 439.71 77.00 439.60 C77.50 439.48 78.00 439.47 78.50 439.36 C79.00 439.25 79.50 438.83 80.00 438.83 C80.50 438.83 81.00 439.43 81.50 439.43 C82.00 439.43 82.50 438.68 83.00 438.68 C83.50 438.68 84.00 439.56 84.50 439.56 C85.00 439.56 85.50 439.47 86.00 439.35 C86.50 439.23 87.00 438.01 87.50 438.01 C88.00 438.01 88.50 438.18 89.00 438.28 C89.50 438.38 90.00 438.62 90.50 438.62 C91.00 438.62 91.50 438.54 92.00 438.47 C92.50 438.40 93.00 438.09 93.50 438.07 C94.00 438.04 94.50 438.02 95.00 438.02 C95.50 438.02 96.00 438.74 96.50 438.74 C97.00 438.74 97.50 438.34 98.00 438.18 C98.50 438.01 99.00 437.72 99.50 437.72 C100.00 437.72 100.50 438.01 101.00 438.15 C101.50 438.30 102.00 438.50 102.50 438.59 C103.00 438.69 103.50 438.82 104.00 438.82 C104.50 438.82 105.00 438.22 105.50 438.11 C106.00 438.00 106.50 437.97 107.00 437.90 C107.50 437.82 108.00 437.67 108.50 437.67 C109.00 437.67 109.50 437.71 110.00 437.76 C110.50 437.81 111.00 438.05 111.50 438.16 C112.00 438.27 112.50 438.43 113.00 438.43 C113.50 438.43 114.00 438.42 114.50 438.40 C115.00 438.39 115.50 437.79 116.00 437.79 C116.50 437.79 117.00 438.22 117.50 438.22 C118.00 438.22 118.50 438.18 119.00 438.15 C119.50 438.12 120.00 438.09 120.50 438.01 C121.00 437.92 121.50 436.82 122.00 436.82 C122.50 436.82 123.00 437.76 123.50 437.76 C124.00 437.76 124.50 437.65 125.00 437.65 C125.50 437.65 126.00 438.27 126.50 438.27 C127.00 438.27 127.50 437.61 128.00 437.61 C128.50 437.61 129.00 437.88 129.50 437.88 C130.00 437.88 130.50 437.79 131.00 437.79 C131.50 437.79 132.00 438.17 132.50 438.17 C133.00 438.17 133.50 437.95 134.00 437.95 C134.50 437.95 135.00 437.99 135.50 438.03 C136.00 438.07 136.50 438.20 137.00 438.20 C137.50 438.20 138.00 438.01 138.50 437.96 C139.00 437.92 139.50 437.92 140.00 437.87 C140.50 437.82 141.00 437.43 141.50 437.43 C142.00 437.43 142.50 437.49 143.00 437.56 C143.50 437.63 144.00 438.36 144.50 438.36 C145.00 438.36 145.50 437.49 146.00 437.49 C146.50 437.49 147.00 437.66 147.50 437.66 C148.00 437.66 148.50 437.46 149.00 437.41 C149.50 437.36 150.00 437.36 150.50 437.30 C151.00 437.23 151.50 436.20 152.00 436.20 C152.50 436.20 153.00 438.06 153.50 438.06 C154.00 438.06 154.50 436.88 155.00 436.88 C155.50 436.88 156.00 436.93 156.50 437.00 C157.00 437.07 157.50 437.86 158.00 437.86 C158.50 437.86 159.00 436.35 159.50 436.35 C160.00 436.35 160.50 437.28 161.00 437.28 C161.50 437.28 162.00 437.14 162.50 437.03 C163.00 436.91 163.50 436.49 164.00 436.49 C164.50 436.49 165.00 437.46 165.50 437.46 C166.00 437.46 166.50 436.88 167.00 436.88 C167.50 436.88 168.00 437.13 168.50 437.13 C169.00 437.13 169.50 436.98 170.00 436.98 C170.50 436.98 171.00 437.22 171.50 437.39 C172.00 437.55 172.50 438.01 173.00 438.01 C173.50 438.01 174.00 436.59 174.50 436.59 C175.00 436.59 175.50 437.41 176.00 437.41 C176.50 437.41 177.00 436.77 177.50 436.77 C178.00 436.77 178.50 436.89 179.00 436.89 C179.50 436.89 180.00 436.25 180.50 436.25 C181.00 436.25 181.50 436.46 182.00 436.56 C182.50 436.66 183.00 436.74 183.50 436.87 C184.00 437.00 184.50 437.39 185.00 437.39 C185.50 437.39 186.00 437.18 186.50 437.18 C187.00 437.18 187.50 437.30 188.00 437.34 C188.50 437.38 189.00 437.43 189.50 437.43 C190.00 437.43 190.50 436.60 191.00 436.60 C191.50 436.60 192.00 437.76 192.50 437.76 C193.00 437.76 193.50 437.07 194.00 437.07 C194.50 437.07 195.00 437.50 195.50 437.50 C196.00 437.50 196.50 437.18 197.00 437.18 C197.50 437.18 198.00 437.32 198.50 437.38 C199.00 437.44 199.50 437.56 200.00 437.56 C200.50 437.56 201.00 436.42 201.50 436.42 C202.00 436.42 202.50 438.15 203.00 438.15 C203.50 438.15 204.00 437.44 204.50 437.44 C205.00 437.44 205.50 437.83 206.00 437.83 C206.50 437.83 207.00 437.52 207.50 437.50 C208.00 437.48 208.50 437.49 209.00 437.47 C209.50 437.45 210.00 436.93 210.50 436.93 C211.00 436.93 211.50 437.33 212.00 437.33 C212.50 437.33 213.00 436.62 213.50 436.62 C214.00 436.62 214.50 437.21 215.00 437.47 C215.50 437.73 216.00 438.19 216.50 438.19 C217.00 438.19 217.50 436.82 218.00 436.82 C218.50 436.82 219.00 437.25 219.50 437.33 C220.00 437.40 220.50 437.40 221.00 437.48 C221.50 437.56 222.00 438.08 222.50 438.11 C223.00 438.15 223.50 438.17 224.00 438.17 C224.50 438.17 225.00 437.72 225.50 437.72 C226.00 437.72 226.50 437.76 227.00 437.76 C227.50 437.76 228.00 437.71 228.50 437.68 C229.00 437.65 229.50 437.57 230.00 437.57 C230.50 437.57 231.00 437.59 231.50 437.60 C232.00 437.61 232.50 437.61 233.00 437.63 C233.50 437.64 234.00 437.73 234.50 437.77 C235.00 437.82 235.50 437.89 236.00 437.89 C236.50 437.89 237.00 437.63 237.50 437.63 C238.00 437.63 238.50 438.16 239.00 438.16 C239.50 438.16 240.00 437.91 240.50 437.91 C241.00 437.91 241.50 438.17 242.00 438.17 C242.50 438.17 243.00 437.43 243.50 437.43 C244.00 437.43 244.50 437.62 245.00 437.72 C245.50 437.82 246.00 437.98 246.50 438.01 C247.00 438.04 247.50 438.06 248.00 438.06 C248.50 438.06 249.00 437.85 249.50 437.85 C250.00 437.85 250.50 438.51 251.00 438.51 C251.50 438.51 252.00 437.78 252.50 437.78 C253.00 437.78 253.50 438.41 254.00 438.41 C254.50 438.41 255.00 438.39 255.50 438.37 C256.00 438.34 256.50 438.12 257.00 438.06 C257.50 438.00 258.00 437.93 258.50 437.93 C259.00 437.93 259.50 437.95 260.00 437.95 C260.50 437.95 261.00 437.76 261.50 437.64 C262.00 437.52 262.50 437.22 263.00 437.22 C263.50 437.22 264.00 437.44 264.50 437.44 C265.00 437.44 265.50 437.36 266.00 437.36 C266.50 437.36 267.00 437.43 267.50 437.43 C268.00 437.43 268.50 437.32 269.00 437.27 C269.50 437.22 270.00 437.11 270.50 437.11 C271.00 437.11 271.50 437.40 272.00 437.56 C272.50 437.72 273.00 438.05 273.50 438.05 C274.00 438.05 274.50 437.30 275.00 437.10 C275.50 436.91 276.00 436.69 276.50 436.69 C277.00 436.69 277.50 437.17 278.00 437.17 C278.50 437.17 279.00 436.88 279.50 436.88 C280.00 436.88 280.50 436.94 281.00 436.94 C281.50 436.94 282.00 436.80 282.50 436.80 C283.00 436.80 283.50 437.13 284.00 437.23 C284.50 437.33 285.00 437.35 285.50 437.47 C286.00 437.59 286.50 438.14 287.00 438.14 C287.50 438.14 288.00 436.81 288.50 436.73 C289.00 436.66 289.50 436.61 290.00 436.61 C290.50 436.61 291.00 437.08 291.50 437.08 C292.00 437.08 292.50 437.07 293.00 437.07 C293.50 437.07 294.00 437.74 294.50 437.74 C295.00 437.74 295.50 437.68 296.00 437.59 C296.50 437.51 297.00 437.00 297.50 436.78 C298.00 436.55 298.50 436.19 299.00 436.19 C299.50 436.19 300.00 437.23 300.50 437.23 C301.00 437.23 301.50 436.82 302.00 436.82 C302.50 436.82 303.00 437.55 303.50 437.55 C304.00 437.55 304.50 436.95 305.00 436.95 C305.50 436.94 306.00 436.95 306.50 436.94 C307.00 436.93 307.50 436.52 308.00 436.52 C308.50 436.52 309.00 436.83 309.50 436.98 C310.00 437.14 310.50 437.46 311.00 437.46 C311.50 437.46 312.00 436.67 312.50 436.67 C313.00 436.67 313.50 437.08 314.00 437.08 C314.50 437.08 315.00 436.76 315.50 436.76 C316.00 436.76 316.50 437.36 317.00 437.36 C317.50 437.36 318.00 436.98 318.50 436.98 C319.00 436.98 319.50 437.22 320.00 437.22 C320.50 437.22 321.00 437.18 321.50 437.13 C322.00 437.07 322.50 436.70 323.00 436.65 C323.50 436.59 324.00 436.54 324.50 436.54 C325.00 436.54 325.50 437.53 326.00 437.53 C326.50 437.53 327.00 436.99 327.50 436.86 C328.00 436.73 328.50 436.59 329.00 436.59 C329.50 436.59 330.00 436.65 330.50 436.74 C331.00 436.83 331.50 437.66 332.00 437.66 C332.50 437.66 333.00 437.04 333.50 437.04 C334.00 437.04 334.50 437.44 335.00 437.44 C335.50 437.44 336.00 436.09 336.50 436.09 C337.00 436.09 337.50 437.92 338.00 437.92 C338.50 437.92 339.00 437.03 339.50 437.03 C340.00 437.03 340.50 437.54 341.00 437.54 C341.50 437.54 342.00 436.88 342.50 436.88 C343.00 436.88 343.50 436.92 344.00 436.98 C344.50 437.03 345.00 437.22 345.50 437.35 C346.00 437.48 346.50 437.76 347.00 437.76 C347.50 437.76 348.00 437.22 348.50 437.07 C349.00 436.92 349.50 436.73 350.00 436.73 C350.50 436.73 351.00 437.23 351.50 437.41 C352.00 437.59 352.50 437.85 353.00 437.85 C353.50 437.85 354.00 436.46 354.50 436.46 C355.00 436.46 355.50 436.56 356.00 436.66 C356.50 436.77 357.00 437.26 357.50 437.26 C358.00 437.26 358.50 437.01 359.00 436.83 C359.50 436.65 360.00 436.11 360.50 436.11 C361.00 436.11 361.50 436.93 362.00 437.00 C362.50 437.07 363.00 437.07 363.50 437.12 C364.00 437.17 364.50 437.21 365.00 437.28 C365.50 437.35 366.00 437.57 366.50 437.57 C367.00 437.57 367.50 436.48 368.00 436.48 C368.50 436.48 369.00 436.71 369.50 436.79 C370.00 436.87 370.50 436.92 371.00 436.98 C371.50 437.04 372.00 437.17 372.50 437.17 C373.00 437.17 373.50 436.70 374.00 436.70 C374.50 436.70 375.00 437.01 375.50 437.01 C376.00 437.01 376.50 436.69 377.00 436.69 C377.50 436.69 378.00 437.26 378.50 437.35 C379.00 437.43 379.50 437.51 380.00 437.51 C380.50 437.51 381.00 436.70 381.50 436.70 C382.00 436.70 382.50 437.24 383.00 437.24 C383.50 437.24 384.00 436.59 384.50 436.59 C385.00 436.59 385.50 437.17 386.00 437.17 C386.50 437.17 387.00 436.43 387.50 436.43 C388.00 436.43 388.50 436.95 389.00 437.11 C389.50 437.26 390.00 437.47 390.50 437.47 C391.00 437.47 391.50 437.43 392.00 437.37 C392.50 437.31 393.00 436.26 393.50 436.26 C394.00 436.26 394.50 437.06 395.00 437.06 C395.50 437.06 396.00 436.86 396.50 436.86 C397.00 436.86 397.50 437.58 398.00 437.58 C398.50 437.58 399.00 437.17 399.50 437.17 C400.00 437.17 400.50 437.60 401.00 437.60 C401.50 437.60 402.00 436.91 402.50 436.79 C403.00 436.66 403.50 436.66 404.00 436.55 C404.50 436.44 405.00 436.03 405.50 436.03 C406.00 436.03 406.50 437.13 407.00 437.13 C407.50 437.13 408.00 436.90 408.50 436.90 C409.00 436.90 409.50 437.13 410.00 437.13 C410.50 437.13 411.00 436.94 411.50 436.94 C412.00 436.94 412.50 437.02 413.00 437.10 C413.50 437.18 414.00 437.59 414.50 437.59 C415.00 437.59 415.50 436.52 416.00 436.52 C416.50 436.52 417.00 437.08 417.50 437.22 C418.00 437.36 418.50 437.52 419.00 437.52 C419.50 437.52 420.00 437.22 420.50 437.22 C421.00 437.22 421.50 437.75 422.00 437.75 C422.50 437.75 423.00 436.88 423.50 436.88 C424.00 436.88 424.50 437.07 425.00 437.07 C425.50 437.07 426.00 436.90 426.50 436.89 C427.00 436.88 427.50 436.88 428.00 436.88 C428.50 436.88 429.00 437.72 429.50 437.72 C430.00 437.72 430.50 436.43 431.00 436.43 C431.50 436.43 432.00 436.76 432.50 436.77 C433.00 436.79 433.50 436.79 434.00 436.80 C434.50 436.82 435.00 437.02 435.50 437.02 C436.00 437.02 436.50 436.89 437.00 436.89 C437.50 436.89 438.00 437.26 438.50 437.26 C439.00 437.26 439.50 437.22 440.00 437.22 C440.50 437.22 441.00 437.73 441.50 437.73 C442.00 437.73 442.50 437.52 443.00 437.36 C443.50 437.19 444.00 436.78 444.50 436.64 C445.00 436.51 445.50 436.37 446.00 436.37 C446.50 436.37 447.00 436.84 447.50 436.84 C448.00 436.84 448.50 436.76 449.00 436.76 C449.50 436.76 450.00 436.83 450.50 436.90 C451.00 436.98 451.50 437.54 452.00 437.54 C452.50 437.54 453.00 437.31 453.50 437.14 C454.00 436.98 454.50 436.46 455.00 436.46 C455.50 436.46 456.00 436.57 456.50 436.69 C457.00 436.81 457.50 437.65 458.00 437.65 C458.50 437.65 459.00 436.90 459.50 436.52 L460.50 448.00 C407.00 448.00 353.50 448.00 300.00 448.00 C281.67 448.00 263.33 448.00 245.00 448.00 C223.67 448.00 202.33 448.00 181.00 448.00 C156.53 448.00 132.07 448.00 107.60 448.00 C82.90 448.00 58.20 449.33 33.50 450.00 Z" fill="#5050ff" fill-opacity="0.09" stroke="none"/>
<path d="M33.50 471.00 C49.33 469.00 65.17 467.63 81.00 465.00 C89.87 463.52 98.73 459.00 107.60 459.00 C132.07 459.00 156.53 459.00 181.00 459.00 C202.33 459.00 223.67 461.00 245.00 461.00 C263.33 461.00 281.67 461.00 300.00 461.00 C353.50 461.00 407.00 461.00 460.50 461.00 L460.50 471.00 C407.00 471.00 353.50 471.00 300.00 471.00 C281.67 471.00 263.33 469.84 245.00 469.00 C223.67 468.03 202.33 465.82 181.00 465.00 C156.53 464.06 132.07 463.00 107.60 463.00 C98.73 463.00 89.87 465.68 81.00 467.00 C65.17 469.36 49.33 471.67 33.50 474.00 Z" fill="#5050ff" fill-opacity="0.07" stroke="none"/>
<path d="M33.50 471.00 C53.33 468.00 73.17 467.10 93.00 462.00 C97.87 460.75 102.73 455.26 107.60 455.00 C121.73 454.25 135.87 454.00 150.00 454.00 C160.33 454.00 170.67 454.55 181.00 455.00 C202.33 455.93 223.67 458.95 245.00 460.00 C263.33 460.90 281.67 462.00 300.00 462.00 C353.50 462.00 407.00 462.00 460.50 462.00 L460.50 470.00 C407.00 470.00 353.50 470.00 300.00 470.00 C281.67 470.00 263.33 468.17 245.00 467.00 C223.67 465.64 202.33 463.87 181.00 462.00 C170.67 461.10 160.33 459.00 150.00 459.00 C135.87 459.00 121.73 459.00 107.60 459.00 C102.73 459.00 97.87 462.82 93.00 464.00 C73.17 468.80 53.33 470.67 33.50 474.00 Z" fill="#ffa040" fill-opacity="0.06" stroke="none"/>
<path d="M33.50 445.40 L35.00 445.38 L36.50 445.35 L38.00 445.33 L39.50 445.31 L41.00 445.29 L42.50 445.44 L44.00 445.39 L45.50 445.46 L47.00 445.22 L48.50 445.36 L50.00 445.29 L51.50 445.06 L53.00 445.34 L54.50 445.03 L56.00 444.86 L57.50 444.97 L59.00 444.89 L60.50 444.91 L62.00 445.07 L63.50 444.85 L65.00 445.08 L66.50 444.70 L68.00 444.78 L69.50 444.62 L71.00 444.27 L72.50 444.51 L74.00 444.50 L75.50 444.54 L77.00 444.11 L78.50 444.42 L80.00 444.39 L81.50 443.98 L83.00 444.12 L84.50 444.21 L86.00 443.64 L87.50 443.95 L89.00 443.46 L90.50 443.78 L92.00 443.93 L93.50 443.57 L95.00 443.66 L96.50 443.22 L98.00 443.33 L99.50 443.29 L101.00 443.44 L102.50 443.20 L104.00 443.31 L105.50 443.10 L107.00 442.94 L108.50 442.96 L110.00 442.84 L111.50 442.60 L113.00 442.63 L114.50 442.22 L116.00 442.24 L117.50 442.16 L119.00 441.81 L120.50 441.76 L122.00 441.61 L123.50 441.23 L125.00 441.58 L126.50 441.34 L128.00 441.55 L129.50 441.01 L131.00 441.78 L132.50 441.56 L134.00 441.54 L135.50 441.75 L137.00 441.99 L138.50 441.62 L140.00 442.14 L141.50 441.73 L143.00 442.11 L144.50 441.96 L146.00 442.08 L147.50 441.99 L149.00 441.69 L150.50 441.75 L152.00 441.88 L153.50 441.67 L155.00 441.57 L156.50 441.25 L158.00 441.40 L159.50 441.55 L161.00 441.35 L162.50 441.38 L164.00 441.27 L165.50 441.55 L167.00 441.92 L168.50 441.85 L170.00 442.10 L171.50 442.06 L173.00 442.19 L174.50 442.42 L176.00 442.45 L177.50 442.56 L179.00 442.83 L180.50 442.88 L182.00 442.67 L183.50 443.17 L185.00 443.36 L186.50 443.21 L188.00 443.14 L189.50 443.08 L191.00 443.19 L192.50 443.34 L194.00 443.58 L195.50 443.48 L197.00 443.50 L198.50 443.40 L200.00 443.65 L201.50 443.55 L203.00 444.03 L204.50 443.86 L206.00 443.83 L207.50 444.19 L209.00 444.25 L210.50 444.02 L212.00 443.85 L213.50 444.32 L215.00 444.10 L216.50 444.28 L218.00 443.98 L219.50 444.08 L221.00 444.09 L222.50 443.97 L224.00 443.93 L225.50 444.26 L227.00 444.03 L228.50 444.29 L230.00 444.18 L231.50 444.09 L233.00 444.15 L234.50 443.99 L236.00 444.02 L237.50 444.08 L239.00 444.05 L240.50 443.90 L242.00 444.13 L243.50 444.05 L245.00 444.23 L246.50 443.89 L248.00 444.36 L249.50 443.98 L251.00 444.12 L252.50 444.03 L254.00 443.69 L255.50 443.89 L257.00 444.11 L258.50 444.14 L260.00 443.88 L261.50 444.15 L263.00 444.08 L264.50 443.80 L266.00 444.11 L267.50 443.88 L269.00 443.65 L270.50 443.96 L272.00 443.87 L273.50 443.77 L275.00 443.64 L276.50 443.74 L278.00 444.01 L279.50 443.72 L281.00 443.61 L282.50 443.63 L284.00 443.95 L285.50 444.03 L287.00 443.58 L288.50 443.66 L290.00 443.86 L291.50 443.90 L293.00 443.65 L294.50 443.78 L296.00 443.99 L297.50 443.61 L299.00 443.65 L300.50 443.71 L302.00 443.77 L303.50 443.69 L305.00 443.50 L306.50 443.68 L308.00 443.82 L309.50 443.52 L311.00 443.54 L312.50 443.58 L314.00 443.96 L315.50 443.64 L317.00 443.51 L318.50 443.89 L320.00 443.84 L321.50 443.62 L323.00 443.72 L324.50 443.70 L326.00 443.77 L327.50 443.64 L329.00 443.70 L330.50 443.57 L332.00 443.67 L333.50 443.75 L335.00 443.68 L336.50 443.59 L338.00 443.38 L339.50 443.70 L341.00 443.63 L342.50 443.64 L344.00 443.93 L345.50 443.67 L347.00 443.62 L348.50 443.70 L350.00 443.38 L351.50 443.59 L353.00 443.61 L354.50 443.71 L356.00 443.70 L357.50 443.78 L359.00 443.64 L360.50 443.56 L362.00 443.64 L363.50 443.39 L365.00 443.48 L366.50 443.56 L368.00 443.79 L369.50 443.65 L371.00 443.42 L372.50 443.73 L374.00 443.69 L375.50 443.64 L377.00 443.78 L378.50 443.62 L380.00 443.77 L381.50 443.67 L383.00 443.47 L384.50 443.65 L386.00 443.72 L387.50 443.91 L389.00 443.52 L390.50 443.60 L392.00 443.36 L393.50 443.46 L395.00 443.27 L396.50 443.60 L398.00 443.70 L399.50 443.38 L401.00 443.72 L402.50 443.60 L404.00 443.48 L405.50 443.56 L407.00 443.34 L408.50 443.56 L410.00 443.57 L411.50 443.31 L413.00 443.56 L414.50 443.43 L416.00 443.42 L417.50 443.44 L419.00 443.56 L420.50 443.47 L422.00 443.65 L423.50 443.76 L425.00 443.53 L426.50 443.44 L428.00 443.57 L429.50 443.28 L431.00 443.44 L432.50 443.40 L434.00 443.63 L435.50 443.57 L437.00 443.56 L438.50 443.18 L440.00 443.55 L441.50 443.56 L443.00 443.31 L444.50 443.81 L446.00 443.59 L447.50 443.86 L449.00 443.58 L450.50 443.23 L452.00 443.74 L453.50 443.50 L455.00 443.56 L456.50 443.66 L458.00 443.33 L459.50 443.63" stroke="#2a2aff" stroke-width="1.5" fill="none" stroke-dasharray="6 1.5 1.2 1.5" stroke-linejoin="round"/>
<path d="M33.50 443.00 L35.00 442.94 L36.50 442.89 L38.00 442.83 L39.50 442.77 L41.00 442.77 L42.50 442.65 L44.00 442.58 L45.50 442.38 L47.00 442.63 L48.50 442.38 L50.00 442.45 L51.50 442.28 L53.00 442.42 L54.50 442.20 L56.00 442.21 L57.50 442.22 L59.00 442.01 L60.50 441.95 L62.00 441.89 L63.50 441.86 L65.00 441.86 L66.50 441.75 L68.00 441.66 L69.50 441.70 L71.00 441.54 L72.50 441.30 L74.00 441.58 L75.50 441.07 L77.00 441.54 L78.50 440.96 L80.00 440.92 L81.50 440.95 L83.00 441.12 L84.50 440.79 L86.00 440.97 L87.50 440.93 L89.00 440.63 L90.50 440.64 L92.00 440.67 L93.50 440.57 L95.00 440.37 L96.50 440.13 L98.00 440.24 L99.50 440.13 L101.00 440.20 L102.50 440.13 L104.00 439.96 L105.50 439.84 L107.00 439.84 L108.50 439.89 L110.00 439.87 L111.50 439.81 L113.00 439.82 L114.50 439.77 L116.00 439.50 L117.50 439.68 L119.00 439.27 L120.50 439.46 L122.00 439.31 L123.50 439.00 L125.00 439.42 L126.50 439.52 L128.00 439.39 L129.50 439.01 L131.00 438.89 L132.50 439.36 L134.00 439.31 L135.50 439.17 L137.00 439.17 L138.50 439.03 L140.00 439.31 L141.50 439.00 L143.00 439.11 L144.50 439.30 L146.00 439.55 L147.50 439.46 L149.00 439.52 L150.50 439.57 L152.00 439.51 L153.50 439.36 L155.00 439.61 L156.50 439.72 L158.00 439.74 L159.50 439.95 L161.00 440.07 L162.50 440.01 L164.00 440.12 L165.50 440.47 L167.00 440.70 L168.50 440.86 L170.00 441.04 L171.50 441.04 L173.00 441.14 L174.50 441.16 L176.00 441.19 L177.50 441.05 L179.00 441.58 L180.50 441.85 L182.00 441.87 L183.50 442.26 L185.00 442.31 L186.50 442.31 L188.00 442.28 L189.50 442.65 L191.00 442.73 L192.50 442.42 L194.00 442.78 L195.50 443.00 L197.00 442.80 L198.50 443.31 L200.00 443.12 L201.50 443.33 L203.00 443.30 L204.50 443.49 L206.00 443.60 L207.50 443.90 L209.00 443.73 L210.50 443.97 L212.00 444.10 L213.50 444.05 L215.00 444.26 L216.50 444.08 L218.00 444.20 L219.50 444.42 L221.00 444.35 L222.50 444.56 L224.00 444.76 L225.50 444.79 L227.00 444.90 L228.50 444.95 L230.00 445.27 L231.50 445.00 L233.00 444.49 L234.50 444.81 L236.00 444.74 L237.50 444.45 L239.00 444.35 L240.50 443.89 L242.00 444.08 L243.50 443.76 L245.00 443.48 L246.50 443.65 L248.00 443.50 L249.50 443.30 L251.00 443.39 L252.50 443.44 L254.00 443.30 L255.50 443.37 L257.00 443.19 L258.50 442.99 L260.00 443.40 L261.50 443.26 L263.00 443.24 L264.50 442.89 L266.00 443.10 L267.50 443.27 L269.00 442.99 L270.50 442.87 L272.00 443.34 L273.50 442.98 L275.00 443.03 L276.50 442.91 L278.00 443.10 L279.50 442.90 L281.00 442.74 L282.50 442.76 L284.00 442.80 L285.50 443.03 L287.00 442.74 L288.50 442.69 L290.00 442.85 L291.50 442.82 L293.00 442.55 L294.50 442.64 L296.00 442.70 L297.50 442.50 L299.00 442.65 L300.50 442.57 L302.00 442.31 L303.50 442.60 L305.00 442.47 L306.50 442.40 L308.00 442.13 L309.50 442.50 L311.00 442.12 L312.50 442.45 L314.00 442.63 L315.50 442.24 L317.00 442.35 L318.50 442.33 L320.00 442.50 L321.50 442.35 L323.00 442.30 L324.50 442.51 L326.00 442.09 L327.50 442.27 L329.00 441.99 L330.50 442.23 L332.00 442.35 L333.50 442.08 L335.00 442.25 L336.50 442.48 L338.00 442.01 L339.50 442.25 L341.00 442.20 L342.50 442.50 L344.00 442.20 L345.50 442.12 L347.00 442.37 L348.50 442.13 L350.00 442.06 L351.50 442.23 L353.00 441.97 L354.50 442.34 L356.00 442.30 L357.50 442.06 L359.00 441.97 L360.50 442.09 L362.00 442.34 L363.50 442.32 L365.00 442.06 L366.50 442.10 L368.00 442.09 L369.50 442.19 L371.00 442.08 L372.50 441.96 L374.00 442.22 L375.50 442.30 L377.00 441.90 L378.50 442.34 L380.00 442.07 L381.50 442.00 L383.00 442.02 L384.50 442.12 L386.00 441.83 L387.50 441.92 L389.00 442.30 L390.50 441.85 L392.00 441.53 L393.50 441.74 L395.00 442.17 L396.50 441.59 L398.00 441.83 L399.50 441.84 L401.00 441.83 L402.50 441.84 L404.00 441.45 L405.50 442.10 L407.00 441.65 L408.50 441.96 L410.00 442.04 L411.50 441.73 L413.00 441.66 L414.50 441.91 L416.00 441.97 L417.50 441.95 L419.00 441.68 L420.50 441.64 L422.00 441.47 L423.50 441.85 L425.00 441.82 L426.50 441.74 L428.00 441.52 L429.50 441.50 L431.00 441.48 L432.50 441.62 L434.00 441.86 L435.50 441.67 L437.00 441.59 L438.50 441.62 L440.00 441.51 L441.50 441.60 L443.00 441.46 L444.50 441.82 L446.00 441.60 L447.50 441.56 L449.00 441.75 L450.50 441.67 L452.00 441.74 L453.50 441.45 L455.00 441.40 L456.50 441.73 L458.00 441.56 L459.50 441.48" stroke="#f5a040" stroke-width="1.5" fill="none" stroke-dasharray="6 1.5 1.2 1.5" stroke-linejoin="round"/>
<path d="M33.50 446.60 L35.00 446.49 L36.50 446.37 L38.00 446.26 L39.50 446.15 L41.00 445.80 L42.50 445.71 L44.00 445.58 L45.50 445.76 L47.00 445.75 L48.50 445.40 L50.00 445.33 L51.50 445.00 L53.00 445.15 L54.50 444.98 L56.00 445.15 L57.50 445.24 L59.00 444.67 L60.50 444.45 L62.00 444.48 L63.50 444.30 L65.00 444.20 L66.50 444.34 L68.00 444.14 L69.50 444.12 L71.00 443.74 L72.50 443.85 L74.00 443.68 L75.50 443.89 L77.00 443.65 L78.50 443.51 L80.00 443.41 L81.50 443.40 L83.00 443.18 L84.50 443.02 L86.00 442.97 L87.50 443.02 L89.00 442.94 L90.50 442.56 L92.00 442.45 L93.50 442.72 L95.00 442.56 L96.50 442.59 L98.00 442.47 L99.50 442.25 L101.00 442.21 L102.50 442.13 L104.00 441.88 L105.50 441.68 L107.00 442.00 L108.50 441.73 L110.00 441.36 L111.50 441.34 L113.00 441.07 L114.50 441.00 L116.00 440.86 L117.50 440.70 L119.00 440.29 L120.50 440.20 L122.00 439.67 L123.50 439.44 L125.00 439.22 L126.50 439.17 L128.00 438.97 L129.50 438.59 L131.00 438.41 L132.50 438.24 L134.00 437.85 L135.50 437.44 L137.00 437.30 L138.50 437.12 L140.00 436.98 L141.50 436.73 L143.00 436.34 L144.50 436.22 L146.00 435.81 L147.50 435.67 L149.00 435.40 L150.50 435.33 L152.00 434.65 L153.50 434.45 L155.00 434.52 L156.50 434.67 L158.00 434.22 L159.50 434.18 L161.00 434.27 L162.50 434.36 L164.00 433.86 L165.50 433.98 L167.00 434.00 L168.50 433.83 L170.00 433.57 L171.50 433.67 L173.00 433.35 L174.50 433.11 L176.00 433.12 L177.50 433.19 L179.00 432.98 L180.50 432.82 L182.00 432.49 L183.50 432.33 L185.00 432.59 L186.50 432.10 L188.00 431.94 L189.50 431.78 L191.00 431.76 L192.50 431.14 L194.00 431.23 L195.50 431.11 L197.00 430.72 L198.50 430.65 L200.00 430.64 L201.50 430.10 L203.00 429.95 L204.50 430.01 L206.00 429.52 L207.50 429.58 L209.00 429.22 L210.50 429.00 L212.00 429.03 L213.50 429.05 L215.00 428.71 L216.50 428.29 L218.00 427.88 L219.50 427.55 L221.00 427.11 L222.50 426.80 L224.00 426.50 L225.50 426.24 L227.00 425.70 L228.50 425.63 L230.00 425.42 L231.50 424.89 L233.00 424.64 L234.50 424.10 L236.00 423.77 L237.50 423.99 L239.00 423.99 L240.50 423.98 L242.00 424.03 L243.50 424.28 L245.00 424.25 L246.50 424.18 L248.00 423.99 L249.50 423.56 L251.00 423.86 L252.50 423.44 L254.00 423.41 L255.50 423.07 L257.00 423.00 L258.50 422.68 L260.00 422.38 L261.50 422.19 L263.00 422.11 L264.50 422.11 L266.00 421.99 L267.50 421.83 L269.00 421.46 L270.50 421.43 L272.00 420.81 L273.50 420.43 L275.00 420.09 L276.50 419.77 L278.00 419.23 L279.50 418.77 L281.00 418.57 L282.50 418.31 L284.00 417.72 L285.50 417.32 L287.00 417.17 L288.50 416.45 L290.00 416.15 L291.50 416.47 L293.00 416.36 L294.50 416.56 L296.00 416.59 L297.50 416.93 L299.00 416.86 L300.50 417.31 L302.00 417.18 L303.50 417.39 L305.00 417.41 L306.50 417.52 L308.00 417.63 L309.50 418.03 L311.00 418.08 L312.50 417.99 L314.00 418.05 L315.50 418.36 L317.00 418.20 L318.50 417.63 L320.00 417.71 L321.50 417.45 L323.00 417.12 L324.50 417.04 L326.00 416.79 L327.50 416.78 L329.00 416.27 L330.50 416.15 L332.00 416.06 L333.50 415.85 L335.00 415.43 L336.50 415.57 L338.00 415.23 L339.50 415.20 L341.00 414.80 L342.50 414.98 L344.00 414.84 L345.50 415.01 L347.00 415.05 L348.50 415.03 L350.00 415.05 L351.50 415.08 L353.00 415.13 L354.50 415.34 L356.00 415.39 L357.50 415.08 L359.00 415.47 L360.50 415.46 L362.00 415.49 L363.50 415.63 L365.00 415.24 L366.50 415.62 L368.00 415.36 L369.50 415.65 L371.00 415.15 L372.50 415.44 L374.00 415.26 L375.50 415.54 L377.00 415.48 L378.50 415.44 L380.00 415.49 L381.50 415.33 L383.00 415.19 L384.50 415.16 L386.00 414.98 L387.50 415.20 L389.00 414.99 L390.50 415.43 L392.00 415.22 L393.50 415.13 L395.00 415.43 L396.50 414.95 L398.00 414.88 L399.50 414.95 L401.00 414.84 L402.50 415.03 L404.00 414.80 L405.50 415.03 L407.00 414.71 L408.50 415.16 L410.00 415.20 L411.50 414.99 L413.00 414.62 L414.50 415.22 L416.00 415.19 L417.50 414.74 L419.00 414.65 L420.50 414.89 L422.00 415.03 L423.50 415.05 L425.00 414.98 L426.50 414.98 L428.00 415.08 L429.50 414.89 L431.00 415.02 L432.50 415.27 L434.00 415.04 L435.50 414.78 L437.00 414.95 L438.50 415.05 L440.00 415.12 L441.50 415.13 L443.00 415.17 L444.50 414.88 L446.00 414.99 L447.50 415.08 L449.00 415.13 L450.50 414.83 L452.00 414.97 L453.50 415.31 L455.00 415.51 L456.50 415.58 L458.00 415.72 L459.50 415.81" stroke="#ff2020" stroke-width="1.5" fill="none" stroke-dasharray="6 1.5 1.2 1.5" stroke-linejoin="round"/>
<path d="M33.50 472.60 C45.67 470.07 57.83 467.45 70.00 465.00 C77.67 463.46 85.33 462.07 93.00 460.50 C97.87 459.51 102.73 457.69 107.60 457.40 C113.40 457.05 119.20 456.80 125.00 456.80 C134.33 456.80 143.67 456.88 153.00 457.00 C162.33 457.12 171.67 457.96 181.00 458.60 C202.33 460.07 223.67 463.54 245.00 464.60 C263.33 465.51 281.67 466.50 300.00 466.50 C353.50 466.50 407.00 466.50 460.50 466.50" stroke="#f5a040" stroke-width="1.35" fill="none" stroke-dasharray="1.3 1.3" stroke-opacity="1" stroke-linecap="butt"/>
<path d="M33.50 472.60 C45.67 470.07 57.83 466.93 70.00 465.00 C73.67 464.42 77.33 463.87 81.00 463.50 C89.87 462.60 98.73 461.50 107.60 461.50 C113.40 461.50 119.20 461.50 125.00 461.50 C134.33 461.50 143.67 461.50 153.00 461.50 C162.33 461.50 171.67 461.90 181.00 462.20 C202.33 462.88 223.67 465.30 245.00 465.30 C263.33 465.30 281.67 465.30 300.00 465.30 C353.50 465.30 407.00 465.97 460.50 466.30" stroke="#2a2aff" stroke-width="1.35" fill="none" stroke-dasharray="1.3 1.3" stroke-opacity="1" stroke-linecap="butt"/>
<path d="M33.50 472.80 C45.67 470.20 57.83 467.72 70.00 465.00 C82.53 462.20 95.07 459.14 107.60 456.20 C113.40 454.84 119.20 453.70 125.00 452.10 C134.33 449.53 143.67 445.79 153.00 442.50 C162.47 439.16 171.93 435.43 181.40 432.20 C202.60 424.96 223.80 417.81 245.00 412.00 C260.00 407.89 275.00 404.32 290.00 401.00 C303.00 398.13 316.00 394.99 329.00 393.10 C341.00 391.36 353.00 389.85 365.00 389.00 C377.33 388.13 389.67 387.57 402.00 387.10 C421.50 386.36 441.00 385.97 460.50 385.40" stroke="#ff2020" stroke-width="1.35" fill="none" stroke-dasharray="1.3 1.3" stroke-opacity="1" stroke-linecap="butt"/>
<path d="M34.00 122.0v-5.3M34.00 5.5v5.3M48.73 122.0v-2.5M48.73 5.5v2.5M63.45 122.0v-2.5M63.45 5.5v2.5M78.17 122.0v-2.5M78.17 5.5v2.5M92.90 122.0v-2.5M92.90 5.5v2.5M107.62 122.0v-5.3M107.62 5.5v5.3M122.35 122.0v-2.5M122.35 5.5v2.5M137.07 122.0v-2.5M137.07 5.5v2.5M151.80 122.0v-2.5M151.80 5.5v2.5M166.53 122.0v-2.5M166.53 5.5v2.5M181.25 122.0v-5.3M181.25 5.5v5.3M195.97 122.0v-2.5M195.97 5.5v2.5M210.70 122.0v-2.5M210.70 5.5v2.5M225.42 122.0v-2.5M225.42 5.5v2.5M240.15 122.0v-2.5M240.15 5.5v2.5M254.88 122.0v-5.3M254.88 5.5v5.3M269.60 122.0v-2.5M269.60 5.5v2.5M284.32 122.0v-2.5M284.32 5.5v2.5M299.05 122.0v-2.5M299.05 5.5v2.5M313.77 122.0v-2.5M313.77 5.5v2.5M328.50 122.0v-5.3M328.50 5.5v5.3M343.22 122.0v-2.5M343.22 5.5v2.5M357.95 122.0v-2.5M357.95 5.5v2.5M372.67 122.0v-2.5M372.67 5.5v2.5M387.40 122.0v-2.5M387.40 5.5v2.5M402.12 122.0v-5.3M402.12 5.5v5.3M416.85 122.0v-2.5M416.85 5.5v2.5M431.57 122.0v-2.5M431.57 5.5v2.5M446.30 122.0v-2.5M446.30 5.5v2.5M461.02 122.0v-2.5M461.02 5.5v2.5M475.75 122.0v-5.3M475.75 5.5v5.3M33.5 120.08h2.5M475.5 120.08h-2.5M33.5 116.25h2.5M475.5 116.25h-2.5M33.5 112.42h2.5M475.5 112.42h-2.5M33.5 108.59h2.5M475.5 108.59h-2.5M33.5 104.76h2.5M475.5 104.76h-2.5M33.5 100.93h2.5M475.5 100.93h-2.5M33.5 97.10h2.5M475.5 97.10h-2.5M33.5 93.27h2.5M475.5 93.27h-2.5M33.5 89.44h2.5M475.5 89.44h-2.5M33.5 85.61h2.5M475.5 85.61h-2.5M33.5 81.78h2.5M475.5 81.78h-2.5M33.5 77.95h2.5M475.5 77.95h-2.5M33.5 74.12h2.5M475.5 74.12h-2.5M33.5 70.29h2.5M475.5 70.29h-2.5M33.5 66.46h2.5M475.5 66.46h-2.5M33.5 62.63h2.5M475.5 62.63h-2.5M33.5 58.80h2.5M475.5 58.80h-2.5M33.5 54.97h2.5M475.5 54.97h-2.5M33.5 51.14h2.5M475.5 51.14h-2.5M33.5 47.31h2.5M475.5 47.31h-2.5M33.5 43.48h2.5M475.5 43.48h-2.5M33.5 39.65h2.5M475.5 39.65h-2.5M33.5 35.82h2.5M475.5 35.82h-2.5M33.5 31.99h2.5M475.5 31.99h-2.5M33.5 28.16h2.5M475.5 28.16h-2.5M33.5 24.33h2.5M475.5 24.33h-2.5M33.5 20.50h2.5M475.5 20.50h-2.5M33.5 16.67h2.5M475.5 16.67h-2.5M33.5 12.84h2.5M475.5 12.84h-2.5M33.5 9.01h2.5M475.5 9.01h-2.5M33.5 116.25h5.3M475.5 116.25h-5.3M33.5 97.10h5.3M475.5 97.10h-5.3M33.5 77.95h5.3M475.5 77.95h-5.3M33.5 58.80h5.3M475.5 58.80h-5.3M33.5 39.65h5.3M475.5 39.65h-5.3M33.5 20.50h5.3M475.5 20.50h-5.3" stroke="#959595" stroke-width="0.8" fill="none"/>
<path d="M34.00 244.25v-5.3M34.00 127.6v5.3M48.73 244.25v-2.5M48.73 127.6v2.5M63.45 244.25v-2.5M63.45 127.6v2.5M78.17 244.25v-2.5M78.17 127.6v2.5M92.90 244.25v-2.5M92.90 127.6v2.5M107.62 244.25v-5.3M107.62 127.6v5.3M122.35 244.25v-2.5M122.35 127.6v2.5M137.07 244.25v-2.5M137.07 127.6v2.5M151.80 244.25v-2.5M151.80 127.6v2.5M166.53 244.25v-2.5M166.53 127.6v2.5M181.25 244.25v-5.3M181.25 127.6v5.3M195.97 244.25v-2.5M195.97 127.6v2.5M210.70 244.25v-2.5M210.70 127.6v2.5M225.42 244.25v-2.5M225.42 127.6v2.5M240.15 244.25v-2.5M240.15 127.6v2.5M254.88 244.25v-5.3M254.88 127.6v5.3M269.60 244.25v-2.5M269.60 127.6v2.5M284.32 244.25v-2.5M284.32 127.6v2.5M299.05 244.25v-2.5M299.05 127.6v2.5M313.77 244.25v-2.5M313.77 127.6v2.5M328.50 244.25v-5.3M328.50 127.6v5.3M343.22 244.25v-2.5M343.22 127.6v2.5M357.95 244.25v-2.5M357.95 127.6v2.5M372.67 244.25v-2.5M372.67 127.6v2.5M387.40 244.25v-2.5M387.40 127.6v2.5M402.12 244.25v-5.3M402.12 127.6v5.3M416.85 244.25v-2.5M416.85 127.6v2.5M431.57 244.25v-2.5M431.57 127.6v2.5M446.30 244.25v-2.5M446.30 127.6v2.5M461.02 244.25v-2.5M461.02 127.6v2.5M475.75 244.25v-5.3M475.75 127.6v5.3M33.5 242.03h2.5M475.5 242.03h-2.5M33.5 238.40h2.5M475.5 238.40h-2.5M33.5 234.77h2.5M475.5 234.77h-2.5M33.5 231.13h2.5M475.5 231.13h-2.5M33.5 227.50h2.5M475.5 227.50h-2.5M33.5 223.87h2.5M475.5 223.87h-2.5M33.5 220.23h2.5M475.5 220.23h-2.5M33.5 216.60h2.5M475.5 216.60h-2.5M33.5 212.97h2.5M475.5 212.97h-2.5M33.5 209.33h2.5M475.5 209.33h-2.5M33.5 205.70h2.5M475.5 205.70h-2.5M33.5 202.07h2.5M475.5 202.07h-2.5M33.5 198.43h2.5M475.5 198.43h-2.5M33.5 194.80h2.5M475.5 194.80h-2.5M33.5 191.17h2.5M475.5 191.17h-2.5M33.5 187.53h2.5M475.5 187.53h-2.5M33.5 183.90h2.5M475.5 183.90h-2.5M33.5 180.27h2.5M475.5 180.27h-2.5M33.5 176.63h2.5M475.5 176.63h-2.5M33.5 173.00h2.5M475.5 173.00h-2.5M33.5 169.37h2.5M475.5 169.37h-2.5M33.5 165.73h2.5M475.5 165.73h-2.5M33.5 162.10h2.5M475.5 162.10h-2.5M33.5 158.47h2.5M475.5 158.47h-2.5M33.5 154.83h2.5M475.5 154.83h-2.5M33.5 151.20h2.5M475.5 151.20h-2.5M33.5 147.57h2.5M475.5 147.57h-2.5M33.5 143.93h2.5M475.5 143.93h-2.5M33.5 140.30h2.5M475.5 140.30h-2.5M33.5 136.67h2.5M475.5 136.67h-2.5M33.5 133.03h2.5M475.5 133.03h-2.5M33.5 129.40h2.5M475.5 129.40h-2.5M33.5 238.40h5.3M475.5 238.40h-5.3M33.5 220.23h5.3M475.5 220.23h-5.3M33.5 202.07h5.3M475.5 202.07h-5.3M33.5 183.90h5.3M475.5 183.90h-5.3M33.5 165.73h5.3M475.5 165.73h-5.3M33.5 147.57h5.3M475.5 147.57h-5.3M33.5 129.40h5.3M475.5 129.40h-5.3" stroke="#959595" stroke-width="0.8" fill="none"/>
<path d="M34.00 366.2v-5.3M34.00 249.5v5.3M48.73 366.2v-2.5M48.73 249.5v2.5M63.45 366.2v-2.5M63.45 249.5v2.5M78.17 366.2v-2.5M78.17 249.5v2.5M92.90 366.2v-2.5M92.90 249.5v2.5M107.62 366.2v-5.3M107.62 249.5v5.3M122.35 366.2v-2.5M122.35 249.5v2.5M137.07 366.2v-2.5M137.07 249.5v2.5M151.80 366.2v-2.5M151.80 249.5v2.5M166.53 366.2v-2.5M166.53 249.5v2.5M181.25 366.2v-5.3M181.25 249.5v5.3M195.97 366.2v-2.5M195.97 249.5v2.5M210.70 366.2v-2.5M210.70 249.5v2.5M225.42 366.2v-2.5M225.42 249.5v2.5M240.15 366.2v-2.5M240.15 249.5v2.5M254.88 366.2v-5.3M254.88 249.5v5.3M269.60 366.2v-2.5M269.60 249.5v2.5M284.32 366.2v-2.5M284.32 249.5v2.5M299.05 366.2v-2.5M299.05 249.5v2.5M313.77 366.2v-2.5M313.77 249.5v2.5M328.50 366.2v-5.3M328.50 249.5v5.3M343.22 366.2v-2.5M343.22 249.5v2.5M357.95 366.2v-2.5M357.95 249.5v2.5M372.67 366.2v-2.5M372.67 249.5v2.5M387.40 366.2v-2.5M387.40 249.5v2.5M402.12 366.2v-5.3M402.12 249.5v5.3M416.85 366.2v-2.5M416.85 249.5v2.5M431.57 366.2v-2.5M431.57 249.5v2.5M446.30 366.2v-2.5M446.30 249.5v2.5M461.02 366.2v-2.5M461.02 249.5v2.5M475.75 366.2v-5.3M475.75 249.5v5.3M33.5 362.00h2.5M475.5 362.00h-2.5M33.5 357.66h2.5M475.5 357.66h-2.5M33.5 353.33h2.5M475.5 353.33h-2.5M33.5 349.00h2.5M475.5 349.00h-2.5M33.5 344.67h2.5M475.5 344.67h-2.5M33.5 340.33h2.5M475.5 340.33h-2.5M33.5 336.00h2.5M475.5 336.00h-2.5M33.5 331.67h2.5M475.5 331.67h-2.5M33.5 327.34h2.5M475.5 327.34h-2.5M33.5 323.00h2.5M475.5 323.00h-2.5M33.5 318.67h2.5M475.5 318.67h-2.5M33.5 314.34h2.5M475.5 314.34h-2.5M33.5 310.00h2.5M475.5 310.00h-2.5M33.5 305.67h2.5M475.5 305.67h-2.5M33.5 301.34h2.5M475.5 301.34h-2.5M33.5 297.01h2.5M475.5 297.01h-2.5M33.5 292.68h2.5M475.5 292.68h-2.5M33.5 288.34h2.5M475.5 288.34h-2.5M33.5 284.01h2.5M475.5 284.01h-2.5M33.5 279.68h2.5M475.5 279.68h-2.5M33.5 275.35h2.5M475.5 275.35h-2.5M33.5 271.01h2.5M475.5 271.01h-2.5M33.5 266.68h2.5M475.5 266.68h-2.5M33.5 262.35h2.5M475.5 262.35h-2.5M33.5 258.01h2.5M475.5 258.01h-2.5M33.5 253.68h2.5M475.5 253.68h-2.5M33.5 349.00h5.3M475.5 349.00h-5.3M33.5 327.34h5.3M475.5 327.34h-5.3M33.5 305.67h5.3M475.5 305.67h-5.3M33.5 284.01h5.3M475.5 284.01h-5.3M33.5 262.35h5.3M475.5 262.35h-5.3" stroke="#959595" stroke-width="0.8" fill="none"/>
<path d="M34.00 488.0v-5.3M34.00 371.4v5.3M48.73 488.0v-2.5M48.73 371.4v2.5M63.45 488.0v-2.5M63.45 371.4v2.5M78.17 488.0v-2.5M78.17 371.4v2.5M92.90 488.0v-2.5M92.90 371.4v2.5M107.62 488.0v-5.3M107.62 371.4v5.3M122.35 488.0v-2.5M122.35 371.4v2.5M137.07 488.0v-2.5M137.07 371.4v2.5M151.80 488.0v-2.5M151.80 371.4v2.5M166.53 488.0v-2.5M166.53 371.4v2.5M181.25 488.0v-5.3M181.25 371.4v5.3M195.97 488.0v-2.5M195.97 371.4v2.5M210.70 488.0v-2.5M210.70 371.4v2.5M225.42 488.0v-2.5M225.42 371.4v2.5M240.15 488.0v-2.5M240.15 371.4v2.5M254.88 488.0v-5.3M254.88 371.4v5.3M269.60 488.0v-2.5M269.60 371.4v2.5M284.32 488.0v-2.5M284.32 371.4v2.5M299.05 488.0v-2.5M299.05 371.4v2.5M313.77 488.0v-2.5M313.77 371.4v2.5M328.50 488.0v-5.3M328.50 371.4v5.3M343.22 488.0v-2.5M343.22 371.4v2.5M357.95 488.0v-2.5M357.95 371.4v2.5M372.67 488.0v-2.5M372.67 371.4v2.5M387.40 488.0v-2.5M387.40 371.4v2.5M402.12 488.0v-5.3M402.12 371.4v5.3M416.85 488.0v-2.5M416.85 371.4v2.5M431.57 488.0v-2.5M431.57 371.4v2.5M446.30 488.0v-2.5M446.30 371.4v2.5M461.02 488.0v-2.5M461.02 371.4v2.5M475.75 488.0v-5.3M475.75 371.4v5.3M33.5 482.19h2.5M33.5 479.42h2.5M33.5 476.64h2.5M33.5 473.87h2.5M33.5 471.09h2.5M33.5 468.32h2.5M33.5 465.55h2.5M33.5 462.77h2.5M33.5 460.00h2.5M33.5 457.22h2.5M33.5 454.45h2.5M33.5 451.67h2.5M33.5 448.90h2.5M33.5 446.12h2.5M33.5 443.35h2.5M33.5 440.57h2.5M33.5 437.80h2.5M33.5 435.03h2.5M33.5 432.25h2.5M33.5 429.48h2.5M33.5 426.70h2.5M33.5 423.93h2.5M33.5 421.15h2.5M33.5 418.38h2.5M33.5 415.60h2.5M33.5 412.83h2.5M33.5 410.06h2.5M33.5 407.28h2.5M33.5 404.51h2.5M33.5 401.73h2.5M33.5 398.96h2.5M33.5 396.18h2.5M33.5 393.41h2.5M33.5 390.63h2.5M33.5 387.86h2.5M33.5 385.08h2.5M33.5 382.31h2.5M33.5 379.54h2.5M33.5 376.76h2.5M33.5 479.42h5.3M33.5 465.55h5.3M33.5 451.67h5.3M33.5 437.80h5.3M33.5 423.93h5.3M33.5 410.06h5.3M33.5 396.18h5.3M33.5 382.31h5.3M475.5 481.52h-2.5M475.5 474.84h-2.5M475.5 468.16h-2.5M475.5 461.48h-2.5M475.5 454.80h-2.5M475.5 448.12h-2.5M475.5 441.44h-2.5M475.5 434.76h-2.5M475.5 428.08h-2.5M475.5 421.40h-2.5M475.5 414.72h-2.5M475.5 408.04h-2.5M475.5 401.36h-2.5M475.5 394.68h-2.5M475.5 388.00h-2.5M475.5 381.32h-2.5M475.5 374.64h-2.5M475.5 454.80h-5.3M475.5 421.40h-5.3M475.5 388.00h-5.3" stroke="#959595" stroke-width="0.8" fill="none"/>
<rect x="33.5" y="5.5" width="442.0" height="116.50" fill="none" stroke="#959595" stroke-width="1"/>
<rect x="33.5" y="127.6" width="442.0" height="116.65" fill="none" stroke="#959595" stroke-width="1"/>
<rect x="33.5" y="249.5" width="442.0" height="116.70" fill="none" stroke="#959595" stroke-width="1"/>
<rect x="33.5" y="371.4" width="442.0" height="116.60" fill="none" stroke="#959595" stroke-width="1"/>
<text x="32" y="119.00" text-anchor="end" font-size="7.7" fill="#2a2a2a">0</text>
<text x="32" y="99.85" text-anchor="end" font-size="7.7" fill="#2a2a2a">100</text>
<text x="32" y="80.70" text-anchor="end" font-size="7.7" fill="#2a2a2a">200</text>
<text x="32" y="61.55" text-anchor="end" font-size="7.7" fill="#2a2a2a">300</text>
<text x="32" y="42.40" text-anchor="end" font-size="7.7" fill="#2a2a2a">400</text>
<text x="32" y="23.25" text-anchor="end" font-size="7.7" fill="#2a2a2a">500</text>
<text x="32" y="241.15" text-anchor="end" font-size="7.7" fill="#2a2a2a">0</text>
<text x="32" y="222.98" text-anchor="end" font-size="7.7" fill="#2a2a2a">500</text>
<text x="32" y="204.82" text-anchor="end" font-size="7.7" fill="#2a2a2a">1000</text>
<text x="32" y="186.65" text-anchor="end" font-size="7.7" fill="#2a2a2a">1500</text>
<text x="32" y="168.48" text-anchor="end" font-size="7.7" fill="#2a2a2a">2000</text>
<text x="32" y="150.32" text-anchor="end" font-size="7.7" fill="#2a2a2a">2500</text>
<text x="32" y="132.15" text-anchor="end" font-size="7.7" fill="#2a2a2a">3000</text>
<text x="32" y="351.75" text-anchor="end" font-size="7.7" fill="#2a2a2a">50</text>
<text x="32" y="330.09" text-anchor="end" font-size="7.7" fill="#2a2a2a">100</text>
<text x="32" y="308.42" text-anchor="end" font-size="7.7" fill="#2a2a2a">150</text>
<text x="32" y="286.76" text-anchor="end" font-size="7.7" fill="#2a2a2a">200</text>
<text x="32" y="265.10" text-anchor="end" font-size="7.7" fill="#2a2a2a">250</text>
<text x="32" y="482.17" text-anchor="end" font-size="7.5" fill="#2a2a2a">-7.5</text>
<text x="32" y="468.30" text-anchor="end" font-size="7.5" fill="#2a2a2a">-5</text>
<text x="32" y="454.42" text-anchor="end" font-size="7.5" fill="#2a2a2a">-2.5</text>
<text x="32" y="440.55" text-anchor="end" font-size="7.5" fill="#2a2a2a">0</text>
<text x="32" y="426.68" text-anchor="end" font-size="7.5" fill="#2a2a2a">2.5</text>
<text x="32" y="412.81" text-anchor="end" font-size="7.5" fill="#2a2a2a">5</text>
<text x="32" y="398.93" text-anchor="end" font-size="7.5" fill="#2a2a2a">7.5</text>
<text x="32" y="385.06" text-anchor="end" font-size="7.5" fill="#2a2a2a">10</text>
<text x="476.6" y="457.50" font-size="7.0" fill="#2a2a2a">0.1</text>
<text x="476.6" y="424.10" font-size="7.0" fill="#2a2a2a">0.2</text>
<text x="476.6" y="390.70" font-size="7.0" fill="#2a2a2a">0.3</text>
<text x="34.00" y="495.3" text-anchor="middle" font-size="7.7" fill="#2a2a2a">2000</text>
<text x="107.62" y="495.3" text-anchor="middle" font-size="7.7" fill="#2a2a2a">2050</text>
<text x="181.25" y="495.3" text-anchor="middle" font-size="7.7" fill="#2a2a2a">2100</text>
<text x="254.88" y="495.3" text-anchor="middle" font-size="7.7" fill="#2a2a2a">2150</text>
<text x="328.50" y="495.3" text-anchor="middle" font-size="7.7" fill="#2a2a2a">2200</text>
<text x="402.12" y="495.3" text-anchor="middle" font-size="7.7" fill="#2a2a2a">2250</text>
<text x="475.75" y="495.3" text-anchor="middle" font-size="7.7" fill="#2a2a2a">2300</text>
<text x="255" y="503.8" text-anchor="middle" font-size="7.7" fill="#2a2a2a">Years</text>
<text transform="translate(16.8,63.5) rotate(-90)" text-anchor="middle" font-size="8.8" fill="#2a2a2a" textLength="53" lengthAdjust="spacingAndGlyphs">Volume (km<tspan dy="-3.2" font-size="6">3</tspan><tspan dy="3.2">)</tspan></text>
<text transform="translate(12.4,185.35) rotate(-90)" text-anchor="middle" font-size="8.8" fill="#2a2a2a" textLength="43.1" lengthAdjust="spacingAndGlyphs">Area (km<tspan dy="-3.2" font-size="6">2</tspan><tspan dy="3.2">)</tspan></text>
<text transform="translate(17.3,307.6) rotate(-90)" text-anchor="middle" font-size="8.8" fill="#2a2a2a" textLength="77.6" lengthAdjust="spacingAndGlyphs">Annual runoff (m<tspan dy="-3.2" font-size="6">3</tspan><tspan dy="3.2">/s)</tspan></text>
<text transform="translate(16.7,429.7) rotate(-90)" text-anchor="middle" font-size="8.8" fill="#2a2a2a" textLength="65.8" lengthAdjust="spacingAndGlyphs">Temperature (°C)</text>
<text transform="translate(494.1,431.1) rotate(-90)" text-anchor="middle" font-size="8.8" fill="#2a2a2a" textLength="80.6" lengthAdjust="spacingAndGlyphs">Precipitation (mm/d)</text>
<text x="38.9" y="117.0" font-size="11.2" fill="#222">(a)</text>
<text x="38.9" y="239.3" font-size="11.2" fill="#222">(b)</text>
<text x="38.9" y="361.3" font-size="11.2" fill="#222">(c)</text>
<text x="38.9" y="483.2" font-size="11.2" fill="#222">(d)</text>
<rect x="356.8" y="8.4" width="115.8" height="64.7" rx="2" fill="#fff" fill-opacity="0.85" stroke="#dcdcdc" stroke-width="0.8"/>
<path d="M358.6 14.6H373.3" stroke="#333" stroke-width="0.8" stroke-dasharray="2 1.2"/>
<path d="M358.6 25.1H373.3" stroke="#999" stroke-width="2"/>
<path d="M358.6 35.4H373.3M365.9 34.199999999999996V36.6" stroke="#444" stroke-width="0.8"/>
<path d="M358.6 45.8H373.3" stroke="#2a2aff" stroke-width="1.3"/>
<path d="M358.6 56.2H373.3" stroke="#f5a040" stroke-width="1.3"/>
<path d="M358.6 66.5H373.3" stroke="#ff2020" stroke-width="1.3"/>
<text x="378.8" y="17.20" font-size="7.5" fill="#2a2a2a">FARI19</text>
<text x="378.8" y="27.70" font-size="7.5" fill="#2a2a2a">MIL22</text>
<text x="378.8" y="38.00" font-size="7.5" fill="#2a2a2a">Historical</text>
<text x="378.8" y="48.40" font-size="7.5" fill="#2a2a2a">Mean SSP1-2.6 (n = 5)</text>
<text x="378.8" y="58.80" font-size="7.5" fill="#2a2a2a">Mean SSP5-3.4-OS (n = 3)</text>
<text x="378.8" y="69.10" font-size="7.5" fill="#2a2a2a">Mean SSP5-8.5 (n = 5)</text>
<rect x="36.4" y="374.5" width="61.6" height="17.9" rx="1.5" fill="#fff" fill-opacity="0.85" stroke="#dcdcdc" stroke-width="0.8"/>
<path d="M38.8 379.3H50.8" stroke="#222" stroke-width="0.9" stroke-dasharray="1 1.2"/>
<path d="M38.8 387.7H50.8" stroke="#222" stroke-width="1.4" stroke-dasharray="5 1.4 1.1 1.4"/>
<text x="56.1" y="381.5" font-size="6.6" fill="#2a2a2a" style="stroke-width:0.05px">Temperature</text>
<text x="56.1" y="389.9" font-size="6.6" fill="#2a2a2a" style="stroke-width:0.05px">Precipitations</text></svg></body></html>
